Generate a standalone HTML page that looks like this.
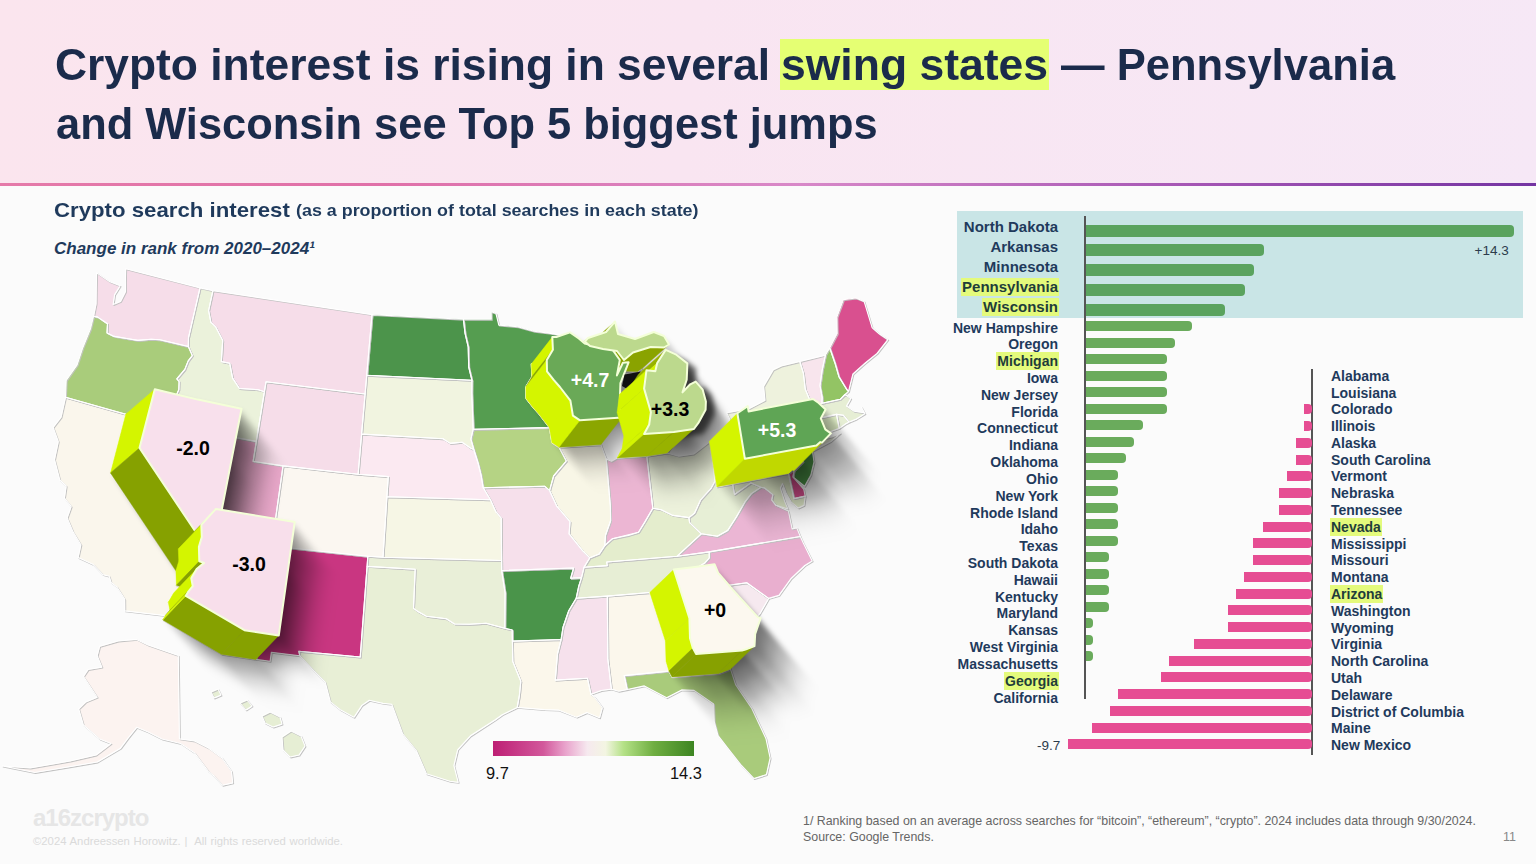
<!DOCTYPE html>
<html><head><meta charset="utf-8"><style>
*{margin:0;padding:0;box-sizing:border-box}
html,body{width:1536px;height:864px;overflow:hidden;background:#fbfbfb;font-family:"Liberation Sans",sans-serif}
#hdr{position:absolute;left:0;top:0;width:1536px;height:184px;background:linear-gradient(95deg,#fbe5ee 0%,#f9e5f1 45%,#f6e8f6 100%)}
#line{position:absolute;left:0;top:183px;width:1536px;height:3px;background:linear-gradient(90deg,#e57aa9 0%,#e070a8 25%,#d888c8 52%,#a455b4 78%,#7434a2 100%)}
.t{position:absolute;white-space:nowrap;font-weight:bold;color:#1b2b4b;font-size:45px;transform-origin:0 0}
.hlbox{position:absolute;background:#e5ff73}
.st{position:absolute;white-space:nowrap;color:#1f3a5c;font-weight:bold;transform-origin:0 0}
.bar{position:absolute;border-radius:0 4px 4px 0}
.lab{position:absolute;white-space:nowrap;color:#1f3a5c;font-weight:bold;font-size:14px;line-height:18px}
.lab.r{right:478px;text-align:right}
.lab.l{left:1331px}
.lab.hl{background:#e4fa7c;padding:0 1px;margin-right:-1px;color:#1f3d3a}
.lab.l.hl{margin-left:-1px;margin-right:0}
.ax{position:absolute;width:2px;background:#555}
.sm{position:absolute;white-space:nowrap;color:#666;font-size:12.5px}
</style></head><body>
<div id="hdr"></div><div id="line"></div>
<div class="hlbox" style="left:780px;top:39px;width:269px;height:51px"></div>
<div class="t" style="left:55px;top:39.4px;transform:scaleX(0.986)">Crypto interest is rising in several</div>
<div class="t" style="left:780.6px;top:39.4px;transform:scaleX(0.989)">swing states</div>
<div class="t" style="left:1060.5px;top:39.4px;transform:scaleX(0.968)">— Pennsylvania</div>
<div class="t" style="left:55.9px;top:97.6px;transform:scaleX(0.965)">and Wisconsin see Top 5 biggest jumps</div>
<div class="st" style="left:54px;top:197.8px;font-size:21px;transform:scaleX(1.058)">Crypto search interest</div>
<div class="st" style="left:296.3px;top:201.4px;font-size:17px;transform:scaleX(1.052)">(as a proportion of total searches in each state)</div>
<div class="st" style="left:54px;top:239.2px;font-size:17px;font-style:italic">Change in rank from 2020–2024¹</div>
<svg width="1536" height="864" style="position:absolute;left:0;top:0">
<defs><filter id="bl" x="-30%" y="-30%" width="160%" height="160%"><feGaussianBlur stdDeviation="2.5"/></filter>
<linearGradient id="leg" x1="0" x2="1"><stop offset="0" stop-color="#bd1f74"/><stop offset="0.25" stop-color="#d2589b"/><stop offset="0.36" stop-color="#e9a3cc"/><stop offset="0.47" stop-color="#f6e9ef"/><stop offset="0.56" stop-color="#f3f5e2"/><stop offset="0.65" stop-color="#b4e186"/><stop offset="0.8" stop-color="#6fae41"/><stop offset="1" stop-color="#3d8522"/></linearGradient></defs>
<g><path d="M125.7,268.8 L200.0,287.9 L188.5,337.7 L188.3,346.5 L159.8,339.8 L151.2,339.3 L137.9,340.4 L128.0,338.8 L114.1,336.4 L107.0,332.9 L107.5,323.7 L103.8,321.2 L97.8,317.1 L93.6,316.2 L96.1,303.6 L96.3,289.1 L96.6,272.9 L109.9,281.8 L120.1,285.8 L114.6,294.6 L113.1,304.5 L120.5,301.4 L125.5,291.5 L125.4,282.1 L125.7,268.8Z" fill="#f6dde9"/><path d="M93.6,316.2 L97.8,317.1 L103.8,321.2 L107.5,323.7 L107.0,332.9 L114.1,336.4 L128.0,338.8 L137.9,340.4 L151.2,339.3 L159.8,339.8 L188.3,346.5 L192.3,355.6 L188.2,360.9 L184.8,369.4 L176.8,378.9 L179.1,381.5 L178.8,389.6 L174.7,399.0 L168.9,424.6 L125.8,414.2 L65.5,397.2 L66.2,380.5 L77.1,364.9 L82.8,347.7 L90.4,329.1Z" fill="#a9cc7b"/><path d="M65.5,397.2 L125.8,414.2 L110.5,472.9 L175.9,570.8 L176.3,585.3 L181.1,586.9 L173.6,593.0 L168.3,602.3 L169.8,610.2 L165.3,615.6 L124.8,610.9 L124.7,599.1 L116.9,587.0 L111.1,582.5 L109.2,576.2 L102.8,574.6 L93.3,564.6 L78.1,557.5 L80.9,544.7 L73.2,532.1 L67.1,517.8 L71.2,506.4 L64.4,498.1 L66.2,486.0 L59.8,480.0 L54.5,459.4 L58.3,441.5 L53.1,427.3 L61.1,417.0Z" fill="#faf6ec"/><path d="M125.8,414.2 L168.9,424.6 L212.5,433.7 L190.0,549.1 L178.3,548.8 L178.8,561.1 L175.9,570.8 L110.5,472.9Z" fill="#f8e0ec"/><path d="M192.9,532.9 L271.7,546.0 L255.8,659.4 L221.4,654.2 L162.8,619.9 L165.3,615.6 L169.8,610.2 L168.3,602.3 L173.6,593.0 L181.1,586.9 L176.3,585.3 L175.9,570.8 L178.8,561.1 L178.3,548.8Z" fill="#f8dfeb"/><path d="M212.5,433.7 L256.3,441.4 L253.1,461.4 L283.0,465.9 L271.7,546.0 L192.9,532.9Z" fill="#e9a8ca"/><path d="M200.0,287.9 L212.9,290.7 L208.6,310.5 L210.9,322.4 L215.6,326.8 L222.7,340.5 L221.3,361.6 L229.7,363.2 L232.6,378.1 L239.4,388.5 L258.2,389.7 L264.4,391.7 L256.3,441.4 L168.9,424.6 L174.7,399.0 L178.8,389.6 L179.1,381.5 L176.8,378.9 L184.8,369.4 L188.2,360.9 L192.3,355.6 L188.3,346.5 L188.5,337.7Z" fill="#ebf2db"/><path d="M212.9,290.7 L372.0,314.6 L365.1,394.0 L266.0,381.8 L264.4,391.7 L258.2,389.7 L239.4,388.5 L232.6,378.1 L229.7,363.2 L221.3,361.6 L222.7,340.5 L215.6,326.8 L210.9,322.4 L208.6,310.5Z" fill="#f6dde9"/><path d="M266.0,381.8 L365.1,394.0 L361.6,434.1 L358.1,474.3 L283.0,465.9 L253.1,461.4 L256.3,441.4 L264.4,391.7Z" fill="#f6dde9"/><path d="M283.0,465.9 L358.1,474.3 L388.3,476.6 L386.9,496.8 L383.0,557.3 L367.8,556.3 L271.7,546.0Z" fill="#fbf7f1"/><path d="M271.7,546.0 L367.8,556.3 L367.1,566.4 L360.2,657.0 L298.8,651.2 L299.8,655.8 L271.3,652.3 L270.1,661.3 L255.8,659.4Z" fill="#c93681"/><path d="M372.0,314.6 L463.4,319.2 L465.0,333.1 L468.2,347.0 L468.7,367.0 L471.9,380.2 L366.7,375.3Z" fill="#4c944b"/><path d="M366.7,375.3 L471.9,380.2 L471.8,393.0 L473.2,429.2 L470.9,439.2 L473.8,449.5 L473.8,449.5 L470.8,448.3 L462.1,442.2 L450.3,443.4 L443.0,438.7 L361.6,434.1Z" fill="#f1f4e0"/><path d="M361.6,434.1 L443.0,438.7 L450.3,443.4 L462.1,442.2 L470.8,448.3 L473.8,449.5 L478.2,463.5 L481.2,475.6 L483.2,487.7 L490.4,499.8 L386.9,496.8 L388.3,476.6 L358.1,474.3Z" fill="#fbe9f1"/><path d="M386.9,496.8 L490.4,499.8 L495.9,511.9 L501.2,518.0 L501.6,560.5 L383.0,557.3Z" fill="#f6f6e5"/><path d="M367.8,556.3 L383.0,557.3 L501.6,560.5 L501.7,570.6 L505.1,592.8 L504.8,628.3 L486.1,623.2 L469.5,624.2 L454.5,624.0 L446.3,618.8 L426.4,616.2 L418.3,611.8 L413.5,608.4 L415.2,569.2 L367.1,566.4Z" fill="#e9efd8"/><path d="M367.1,566.4 L415.2,569.2 L413.5,608.4 L418.3,611.8 L426.4,616.2 L446.3,618.8 L454.5,624.0 L469.5,624.2 L486.1,623.2 L504.8,628.3 L512.2,630.0 L512.4,641.1 L512.8,661.5 L520.8,681.2 L519.4,695.3 L517.2,707.4 L502.2,714.7 L495.2,719.7 L470.4,735.8 L457.7,749.6 L453.9,765.5 L458.2,782.4 L449.9,781.3 L426.4,773.8 L416.3,750.5 L402.7,733.9 L391.8,704.3 L383.0,703.4 L369.2,700.3 L361.8,705.4 L353.9,717.3 L340.3,709.8 L330.4,701.9 L325.2,682.2 L314.2,671.1 L299.8,655.8 L298.8,651.2 L360.2,657.0Z" fill="#e8efd6"/><path d="M463.4,319.2 L491.3,319.3 L491.2,311.8 L495.9,313.3 L498.8,325.1 L517.7,326.7 L534.1,331.2 L550.5,333.4 L567.0,336.4 L555.1,343.1 L541.9,353.7 L534.0,363.0 L531.3,364.1 L531.9,376.7 L525.8,386.9 L526.0,398.4 L532.9,407.2 L538.9,414.0 L549.4,427.6 L473.2,429.2 L471.8,393.0 L471.9,380.2 L468.7,367.0 L468.2,347.0 L465.0,333.1Z" fill="#559d50"/><path d="M473.2,429.2 L549.4,427.6 L551.9,442.6 L559.0,447.3 L566.3,461.0 L553.6,475.9 L549.5,490.6 L544.6,486.2 L483.2,487.7 L481.2,475.6 L478.2,463.5 L473.8,449.5 L470.9,439.2Z" fill="#b5d384"/><path d="M483.2,487.7 L544.6,486.2 L549.5,490.6 L556.7,506.1 L570.0,521.6 L569.1,533.8 L582.9,551.2 L589.8,557.8 L584.0,567.3 L581.5,577.6 L570.6,578.3 L573.6,568.0 L501.7,570.6 L501.6,560.5 L501.2,518.0 L495.9,511.9 L490.4,499.8Z" fill="#f6e0eb"/><path d="M501.7,570.6 L573.6,568.0 L570.6,578.3 L581.5,577.6 L578.8,585.9 L576.2,598.2 L568.7,610.8 L563.0,627.3 L561.1,639.5 L512.4,641.1 L512.2,630.0 L504.8,628.3 L505.1,592.8Z" fill="#4a944a"/><path d="M512.4,641.1 L561.1,639.5 L557.5,653.8 L555.3,680.1 L587.5,678.3 L590.9,694.2 L594.5,697.0 L602.3,707.5 L599.5,717.8 L586.8,712.6 L576.5,717.2 L558.4,710.1 L544.3,709.6 L517.2,707.4 L519.4,695.3 L520.8,681.2 L512.8,661.5Z" fill="#fbf7eb"/><path d="M531.9,376.7 L531.3,364.1 L535.4,364.0 L549.1,359.4 L557.8,365.5 L563.7,370.6 L576.6,373.7 L590.8,375.7 L598.8,387.0 L595.9,402.4 L601.9,389.8 L607.6,389.3 L599.4,410.2 L598.6,434.5 L600.9,444.6 L559.0,447.3 L551.9,442.6 L549.4,427.6 L538.9,414.0 L532.9,407.2 L526.0,398.4 L525.8,386.9Z" fill="#6aa957"/><path d="M559.0,447.3 L600.9,444.6 L606.2,458.9 L610.4,506.5 L610.6,520.7 L605.5,535.3 L604.8,545.5 L599.1,554.1 L589.8,557.8 L582.9,551.2 L569.1,533.8 L570.0,521.6 L556.7,506.1 L549.5,490.6 L553.6,475.9 L566.3,461.0Z" fill="#f8f6e6"/><path d="M606.2,458.9 L611.4,461.3 L617.1,458.0 L646.8,456.1 L652.8,508.3 L645.2,521.4 L638.5,532.3 L612.2,538.8 L604.8,545.5 L605.5,535.3 L610.6,520.7 L610.4,506.5Z" fill="#ecb6d3"/><path d="M617.1,458.0 L646.8,456.1 L666.9,453.0 L671.4,446.9 L678.6,433.7 L678.9,425.5 L675.7,413.7 L668.7,405.6 L663.2,408.3 L655.5,416.4 L659.7,403.7 L660.4,387.4 L649.3,378.7 L638.7,373.9 L630.2,387.0 L628.3,395.3 L619.5,394.2 L617.1,412.6 L623.9,436.2 L622.2,448.5Z" fill="#bcd98d"/><path d="M557.8,365.5 L561.0,362.0 L579.0,356.0 L588.0,345.5 L591.0,358.0 L608.0,363.0 L626.8,356.0 L637.0,360.0 L642.0,368.5 L637.0,371.5 L623.6,371.0 L606.0,376.5 L597.0,384.0 L590.0,375.0 L576.0,373.0 L563.0,370.0Z" fill="#bcd98d"/><path d="M646.8,456.1 L666.9,453.0 L678.7,456.1 L693.6,454.0 L709.5,441.7 L713.9,468.4 L714.8,481.4 L711.2,488.1 L700.5,500.0 L694.6,513.1 L688.9,517.6 L672.9,515.4 L661.1,509.7 L652.8,508.3Z" fill="#edf2dc"/><path d="M652.8,508.3 L645.2,521.4 L638.5,532.3 L629.3,535.2 L612.2,538.8 L604.8,545.5 L599.1,554.1 L589.8,557.8 L584.0,567.3 L607.3,565.6 L606.7,562.0 L676.9,556.3 L701.3,533.8 L689.6,522.6 L688.9,517.6 L672.9,515.4 L661.1,509.7Z" fill="#e4edcd"/><path d="M584.0,567.3 L607.3,565.6 L606.7,562.0 L676.9,556.3 L709.2,551.9 L709.3,558.0 L705.1,562.7 L688.6,573.2 L670.5,585.7 L670.7,589.9 L649.8,592.5 L607.3,596.1 L576.2,598.2 L578.8,585.9 L581.5,577.6Z" fill="#e7eed5"/><path d="M576.2,598.2 L607.3,596.1 L607.8,658.8 L611.4,689.1 L601.1,690.5 L590.9,694.2 L587.5,678.3 L555.3,680.1 L557.5,653.8 L561.1,639.5 L563.0,627.3 L568.7,610.8Z" fill="#f6e1ec"/><path d="M607.3,596.1 L649.8,592.5 L665.4,641.1 L666.0,661.3 L668.9,671.1 L624.2,675.6 L627.2,689.5 L618.6,691.2 L611.4,689.1 L607.8,658.8Z" fill="#fbf7ec"/><path d="M649.8,592.5 L670.7,589.9 L690.5,587.2 L694.2,595.9 L709.2,613.2 L733.8,640.1 L736.7,641.0 L731.2,656.8 L730.5,669.1 L721.4,672.5 L718.0,673.5 L672.0,676.9 L668.9,671.1 L666.0,661.3 L665.4,641.1Z" fill="#fcf8ef"/><path d="M624.2,675.6 L668.9,671.1 L672.0,676.9 L718.0,673.5 L721.4,672.5 L730.5,669.1 L735.6,684.6 L751.8,708.4 L765.9,738.4 L770.1,757.9 L766.4,774.6 L753.9,778.6 L740.6,764.6 L729.2,750.1 L718.0,735.6 L714.3,722.0 L713.6,704.0 L694.0,690.4 L681.6,689.9 L666.6,697.7 L644.3,685.9 L627.2,689.5Z" fill="#a9cb7b"/><path d="M690.5,587.2 L707.8,580.9 L724.1,579.3 L726.2,582.0 L728.4,585.3 L746.7,582.8 L768.6,598.4 L760.1,613.2 L748.9,627.4 L736.7,641.0 L733.8,640.1 L709.2,613.2 L694.2,595.9Z" fill="#f6e9ef"/><path d="M670.7,589.9 L690.5,587.2 L707.8,580.9 L724.1,579.3 L726.2,582.0 L728.4,585.3 L746.7,582.8 L768.6,598.4 L778.9,595.4 L790.8,578.7 L804.8,565.5 L812.2,560.9 L803.3,543.1 L800.3,536.5 L709.2,551.9 L709.3,558.0 L705.1,562.7 L688.6,573.2 L670.5,585.7Z" fill="#e9afcf"/><path d="M676.9,556.3 L709.2,551.9 L800.3,536.5 L796.8,527.9 L792.1,528.9 L788.4,511.1 L775.9,505.3 L771.7,500.0 L772.9,494.6 L764.5,488.0 L760.9,487.2 L751.4,493.6 L745.0,501.9 L736.5,516.8 L727.6,530.6 L717.3,536.3 L701.3,533.8Z" fill="#ebb6d4"/><path d="M713.9,468.4 L716.9,486.8 L732.7,484.1 L734.5,494.5 L750.9,482.9 L760.9,487.2 L751.4,493.6 L745.0,501.9 L736.5,516.8 L727.6,530.6 L717.3,536.3 L701.3,533.8 L689.6,522.6 L688.9,517.6 L694.6,513.1 L700.5,500.0 L711.2,488.1 L714.8,481.4Z" fill="#e7efd6"/><path d="M732.7,484.1 L788.4,473.4 L793.9,498.6 L805.2,496.1 L804.0,505.3 L798.2,508.0 L791.3,502.2 L786.1,492.9 L782.5,483.4 L780.3,487.9 L784.7,501.5 L787.9,509.1 L775.9,505.3 L771.7,500.0 L772.9,494.6 L764.5,488.0 L760.9,487.2 L750.9,482.9 L734.5,494.5Z" fill="#e4edcd"/><path d="M788.4,473.4 L792.3,470.1 L794.0,470.6 L793.0,477.0 L803.7,489.2 L805.2,496.1 L793.9,498.6Z" fill="#d9508f"/><path d="M709.4,441.3 L719.7,434.1 L720.6,439.4 L785.0,427.0 L789.6,430.1 L797.6,437.5 L792.8,446.4 L797.3,457.4 L802.9,461.4 L797.8,466.6 L794.0,470.6 L792.3,470.1 L788.4,473.4 L716.9,486.8Z" fill="#5fa555"/><path d="M797.6,437.5 L811.1,442.1 L810.8,448.2 L812.5,451.9 L814.0,461.9 L810.8,475.1 L804.6,486.3 L793.0,477.0 L794.0,470.6 L797.8,466.6 L802.9,461.4 L797.3,457.4 L792.8,446.4Z" fill="#4f9a4a"/><path d="M720.6,439.4 L719.7,434.1 L728.5,423.7 L730.0,419.4 L726.6,412.8 L748.9,408.7 L765.0,400.3 L763.6,386.2 L773.2,369.8 L781.1,366.0 L799.8,361.5 L803.4,373.2 L805.3,389.3 L812.1,405.5 L811.8,419.9 L816.4,438.5 L813.8,441.2 L831.4,437.0 L840.4,433.2 L830.9,441.3 L813.0,450.8 L810.8,448.2 L811.1,442.1 L797.6,437.5 L789.6,430.1 L785.0,427.0Z" fill="#eef2dd"/><path d="M799.8,361.5 L825.4,355.1 L822.1,370.7 L820.0,385.7 L822.2,397.6 L822.0,403.3 L812.1,405.5 L805.3,389.3 L803.4,373.2Z" fill="#f8e5ed"/><path d="M825.4,355.1 L829.7,347.9 L835.0,363.2 L838.9,376.7 L846.6,389.3 L848.5,391.4 L845.0,394.5 L840.2,399.3 L822.0,403.3 L822.2,397.6 L820.0,385.7 L822.1,370.7Z" fill="#93c464"/><path d="M829.7,347.9 L837.2,333.5 L836.9,317.0 L843.4,299.6 L855.9,298.0 L864.1,301.4 L872.1,327.6 L879.2,333.8 L887.8,339.6 L877.0,353.4 L864.9,363.2 L852.9,373.9 L848.5,391.4 L846.6,389.3 L838.9,376.7 L835.0,363.2Z" fill="#d9508f"/><path d="M811.8,419.9 L812.1,405.5 L822.0,403.3 L840.2,399.3 L845.0,394.5 L850.7,398.6 L846.5,406.0 L854.1,411.3 L863.9,412.8 L861.5,407.2 L864.9,413.6 L856.3,419.0 L849.0,422.0 L843.2,415.2 L836.5,414.4Z" fill="#e6eed4"/><path d="M836.5,414.4 L843.2,415.2 L849.0,422.0 L845.2,424.1 L839.2,428.3Z" fill="#e6eed4"/><path d="M811.8,419.9 L836.5,414.4 L839.2,428.3 L830.1,431.7 L813.8,441.2 L816.4,438.5Z" fill="#dceac3"/><path d="M99.6,646.3 L118.0,641.0 L136.6,639.4 L148.0,645.0 L178.3,655.6 L179.4,738.9 L194.5,741.0 L208.4,748.0 L222.0,758.0 L231.5,771.3 L232.7,782.9 L222.3,785.2 L214.0,776.0 L208.4,771.3 L194.5,752.8 L180.6,743.5 L162.0,739.0 L148.2,732.0 L136.6,727.3 L128.0,738.0 L120.4,748.2 L97.2,762.0 L69.5,766.7 L34.7,772.5 L2.3,766.0 L30.0,768.0 L70.0,761.0 L96.0,755.0 L111.0,743.5 L99.6,739.0 L83.4,725.0 L78.7,708.8 L85.7,701.9 L97.2,697.2 L83.4,676.4 L88.0,669.5 L101.9,667.1 L97.2,655.6Z" fill="#fcf3f0"/><path d="M282.0,737.0 L291.0,731.0 L301.0,736.0 L305.0,746.0 L299.0,755.0 L290.0,757.0 L283.0,750.0Z" fill="#e6eed4"/><path d="M262.0,716.0 L270.0,712.0 L280.0,717.0 L282.0,724.0 L273.0,727.0 L265.0,723.0Z" fill="#e6eed4"/><path d="M240.0,703.0 L247.0,700.0 L252.0,706.0 L246.0,710.0Z" fill="#e6eed4"/><path d="M211.0,692.0 L218.0,689.0 L221.0,695.0 L214.0,698.0Z" fill="#e6eed4"/></g>
<g fill="none" stroke="#c2c2c2" stroke-width="1.1" stroke-linejoin="round" transform="translate(0.9,0.9)"><path d="M125.7,268.8 L200.0,287.9 L188.5,337.7 L188.3,346.5 L159.8,339.8 L151.2,339.3 L137.9,340.4 L128.0,338.8 L114.1,336.4 L107.0,332.9 L107.5,323.7 L103.8,321.2 L97.8,317.1 L93.6,316.2 L96.1,303.6 L96.3,289.1 L96.6,272.9 L109.9,281.8 L120.1,285.8 L114.6,294.6 L113.1,304.5 L120.5,301.4 L125.5,291.5 L125.4,282.1 L125.7,268.8Z"/><path d="M93.6,316.2 L97.8,317.1 L103.8,321.2 L107.5,323.7 L107.0,332.9 L114.1,336.4 L128.0,338.8 L137.9,340.4 L151.2,339.3 L159.8,339.8 L188.3,346.5 L192.3,355.6 L188.2,360.9 L184.8,369.4 L176.8,378.9 L179.1,381.5 L178.8,389.6 L174.7,399.0 L168.9,424.6 L125.8,414.2 L65.5,397.2 L66.2,380.5 L77.1,364.9 L82.8,347.7 L90.4,329.1Z"/><path d="M65.5,397.2 L125.8,414.2 L110.5,472.9 L175.9,570.8 L176.3,585.3 L181.1,586.9 L173.6,593.0 L168.3,602.3 L169.8,610.2 L165.3,615.6 L124.8,610.9 L124.7,599.1 L116.9,587.0 L111.1,582.5 L109.2,576.2 L102.8,574.6 L93.3,564.6 L78.1,557.5 L80.9,544.7 L73.2,532.1 L67.1,517.8 L71.2,506.4 L64.4,498.1 L66.2,486.0 L59.8,480.0 L54.5,459.4 L58.3,441.5 L53.1,427.3 L61.1,417.0Z"/><path d="M125.8,414.2 L168.9,424.6 L212.5,433.7 L190.0,549.1 L178.3,548.8 L178.8,561.1 L175.9,570.8 L110.5,472.9Z"/><path d="M192.9,532.9 L271.7,546.0 L255.8,659.4 L221.4,654.2 L162.8,619.9 L165.3,615.6 L169.8,610.2 L168.3,602.3 L173.6,593.0 L181.1,586.9 L176.3,585.3 L175.9,570.8 L178.8,561.1 L178.3,548.8Z"/><path d="M212.5,433.7 L256.3,441.4 L253.1,461.4 L283.0,465.9 L271.7,546.0 L192.9,532.9Z"/><path d="M200.0,287.9 L212.9,290.7 L208.6,310.5 L210.9,322.4 L215.6,326.8 L222.7,340.5 L221.3,361.6 L229.7,363.2 L232.6,378.1 L239.4,388.5 L258.2,389.7 L264.4,391.7 L256.3,441.4 L168.9,424.6 L174.7,399.0 L178.8,389.6 L179.1,381.5 L176.8,378.9 L184.8,369.4 L188.2,360.9 L192.3,355.6 L188.3,346.5 L188.5,337.7Z"/><path d="M212.9,290.7 L372.0,314.6 L365.1,394.0 L266.0,381.8 L264.4,391.7 L258.2,389.7 L239.4,388.5 L232.6,378.1 L229.7,363.2 L221.3,361.6 L222.7,340.5 L215.6,326.8 L210.9,322.4 L208.6,310.5Z"/><path d="M266.0,381.8 L365.1,394.0 L361.6,434.1 L358.1,474.3 L283.0,465.9 L253.1,461.4 L256.3,441.4 L264.4,391.7Z"/><path d="M283.0,465.9 L358.1,474.3 L388.3,476.6 L386.9,496.8 L383.0,557.3 L367.8,556.3 L271.7,546.0Z"/><path d="M271.7,546.0 L367.8,556.3 L367.1,566.4 L360.2,657.0 L298.8,651.2 L299.8,655.8 L271.3,652.3 L270.1,661.3 L255.8,659.4Z"/><path d="M372.0,314.6 L463.4,319.2 L465.0,333.1 L468.2,347.0 L468.7,367.0 L471.9,380.2 L366.7,375.3Z"/><path d="M366.7,375.3 L471.9,380.2 L471.8,393.0 L473.2,429.2 L470.9,439.2 L473.8,449.5 L473.8,449.5 L470.8,448.3 L462.1,442.2 L450.3,443.4 L443.0,438.7 L361.6,434.1Z"/><path d="M361.6,434.1 L443.0,438.7 L450.3,443.4 L462.1,442.2 L470.8,448.3 L473.8,449.5 L478.2,463.5 L481.2,475.6 L483.2,487.7 L490.4,499.8 L386.9,496.8 L388.3,476.6 L358.1,474.3Z"/><path d="M386.9,496.8 L490.4,499.8 L495.9,511.9 L501.2,518.0 L501.6,560.5 L383.0,557.3Z"/><path d="M367.8,556.3 L383.0,557.3 L501.6,560.5 L501.7,570.6 L505.1,592.8 L504.8,628.3 L486.1,623.2 L469.5,624.2 L454.5,624.0 L446.3,618.8 L426.4,616.2 L418.3,611.8 L413.5,608.4 L415.2,569.2 L367.1,566.4Z"/><path d="M367.1,566.4 L415.2,569.2 L413.5,608.4 L418.3,611.8 L426.4,616.2 L446.3,618.8 L454.5,624.0 L469.5,624.2 L486.1,623.2 L504.8,628.3 L512.2,630.0 L512.4,641.1 L512.8,661.5 L520.8,681.2 L519.4,695.3 L517.2,707.4 L502.2,714.7 L495.2,719.7 L470.4,735.8 L457.7,749.6 L453.9,765.5 L458.2,782.4 L449.9,781.3 L426.4,773.8 L416.3,750.5 L402.7,733.9 L391.8,704.3 L383.0,703.4 L369.2,700.3 L361.8,705.4 L353.9,717.3 L340.3,709.8 L330.4,701.9 L325.2,682.2 L314.2,671.1 L299.8,655.8 L298.8,651.2 L360.2,657.0Z"/><path d="M463.4,319.2 L491.3,319.3 L491.2,311.8 L495.9,313.3 L498.8,325.1 L517.7,326.7 L534.1,331.2 L550.5,333.4 L567.0,336.4 L555.1,343.1 L541.9,353.7 L534.0,363.0 L531.3,364.1 L531.9,376.7 L525.8,386.9 L526.0,398.4 L532.9,407.2 L538.9,414.0 L549.4,427.6 L473.2,429.2 L471.8,393.0 L471.9,380.2 L468.7,367.0 L468.2,347.0 L465.0,333.1Z"/><path d="M473.2,429.2 L549.4,427.6 L551.9,442.6 L559.0,447.3 L566.3,461.0 L553.6,475.9 L549.5,490.6 L544.6,486.2 L483.2,487.7 L481.2,475.6 L478.2,463.5 L473.8,449.5 L470.9,439.2Z"/><path d="M483.2,487.7 L544.6,486.2 L549.5,490.6 L556.7,506.1 L570.0,521.6 L569.1,533.8 L582.9,551.2 L589.8,557.8 L584.0,567.3 L581.5,577.6 L570.6,578.3 L573.6,568.0 L501.7,570.6 L501.6,560.5 L501.2,518.0 L495.9,511.9 L490.4,499.8Z"/><path d="M501.7,570.6 L573.6,568.0 L570.6,578.3 L581.5,577.6 L578.8,585.9 L576.2,598.2 L568.7,610.8 L563.0,627.3 L561.1,639.5 L512.4,641.1 L512.2,630.0 L504.8,628.3 L505.1,592.8Z"/><path d="M512.4,641.1 L561.1,639.5 L557.5,653.8 L555.3,680.1 L587.5,678.3 L590.9,694.2 L594.5,697.0 L602.3,707.5 L599.5,717.8 L586.8,712.6 L576.5,717.2 L558.4,710.1 L544.3,709.6 L517.2,707.4 L519.4,695.3 L520.8,681.2 L512.8,661.5Z"/><path d="M531.9,376.7 L531.3,364.1 L535.4,364.0 L549.1,359.4 L557.8,365.5 L563.7,370.6 L576.6,373.7 L590.8,375.7 L598.8,387.0 L595.9,402.4 L601.9,389.8 L607.6,389.3 L599.4,410.2 L598.6,434.5 L600.9,444.6 L559.0,447.3 L551.9,442.6 L549.4,427.6 L538.9,414.0 L532.9,407.2 L526.0,398.4 L525.8,386.9Z"/><path d="M559.0,447.3 L600.9,444.6 L606.2,458.9 L610.4,506.5 L610.6,520.7 L605.5,535.3 L604.8,545.5 L599.1,554.1 L589.8,557.8 L582.9,551.2 L569.1,533.8 L570.0,521.6 L556.7,506.1 L549.5,490.6 L553.6,475.9 L566.3,461.0Z"/><path d="M606.2,458.9 L611.4,461.3 L617.1,458.0 L646.8,456.1 L652.8,508.3 L645.2,521.4 L638.5,532.3 L612.2,538.8 L604.8,545.5 L605.5,535.3 L610.6,520.7 L610.4,506.5Z"/><path d="M617.1,458.0 L646.8,456.1 L666.9,453.0 L671.4,446.9 L678.6,433.7 L678.9,425.5 L675.7,413.7 L668.7,405.6 L663.2,408.3 L655.5,416.4 L659.7,403.7 L660.4,387.4 L649.3,378.7 L638.7,373.9 L630.2,387.0 L628.3,395.3 L619.5,394.2 L617.1,412.6 L623.9,436.2 L622.2,448.5Z"/><path d="M557.8,365.5 L561.0,362.0 L579.0,356.0 L588.0,345.5 L591.0,358.0 L608.0,363.0 L626.8,356.0 L637.0,360.0 L642.0,368.5 L637.0,371.5 L623.6,371.0 L606.0,376.5 L597.0,384.0 L590.0,375.0 L576.0,373.0 L563.0,370.0Z"/><path d="M646.8,456.1 L666.9,453.0 L678.7,456.1 L693.6,454.0 L709.5,441.7 L713.9,468.4 L714.8,481.4 L711.2,488.1 L700.5,500.0 L694.6,513.1 L688.9,517.6 L672.9,515.4 L661.1,509.7 L652.8,508.3Z"/><path d="M652.8,508.3 L645.2,521.4 L638.5,532.3 L629.3,535.2 L612.2,538.8 L604.8,545.5 L599.1,554.1 L589.8,557.8 L584.0,567.3 L607.3,565.6 L606.7,562.0 L676.9,556.3 L701.3,533.8 L689.6,522.6 L688.9,517.6 L672.9,515.4 L661.1,509.7Z"/><path d="M584.0,567.3 L607.3,565.6 L606.7,562.0 L676.9,556.3 L709.2,551.9 L709.3,558.0 L705.1,562.7 L688.6,573.2 L670.5,585.7 L670.7,589.9 L649.8,592.5 L607.3,596.1 L576.2,598.2 L578.8,585.9 L581.5,577.6Z"/><path d="M576.2,598.2 L607.3,596.1 L607.8,658.8 L611.4,689.1 L601.1,690.5 L590.9,694.2 L587.5,678.3 L555.3,680.1 L557.5,653.8 L561.1,639.5 L563.0,627.3 L568.7,610.8Z"/><path d="M607.3,596.1 L649.8,592.5 L665.4,641.1 L666.0,661.3 L668.9,671.1 L624.2,675.6 L627.2,689.5 L618.6,691.2 L611.4,689.1 L607.8,658.8Z"/><path d="M649.8,592.5 L670.7,589.9 L690.5,587.2 L694.2,595.9 L709.2,613.2 L733.8,640.1 L736.7,641.0 L731.2,656.8 L730.5,669.1 L721.4,672.5 L718.0,673.5 L672.0,676.9 L668.9,671.1 L666.0,661.3 L665.4,641.1Z"/><path d="M624.2,675.6 L668.9,671.1 L672.0,676.9 L718.0,673.5 L721.4,672.5 L730.5,669.1 L735.6,684.6 L751.8,708.4 L765.9,738.4 L770.1,757.9 L766.4,774.6 L753.9,778.6 L740.6,764.6 L729.2,750.1 L718.0,735.6 L714.3,722.0 L713.6,704.0 L694.0,690.4 L681.6,689.9 L666.6,697.7 L644.3,685.9 L627.2,689.5Z"/><path d="M690.5,587.2 L707.8,580.9 L724.1,579.3 L726.2,582.0 L728.4,585.3 L746.7,582.8 L768.6,598.4 L760.1,613.2 L748.9,627.4 L736.7,641.0 L733.8,640.1 L709.2,613.2 L694.2,595.9Z"/><path d="M670.7,589.9 L690.5,587.2 L707.8,580.9 L724.1,579.3 L726.2,582.0 L728.4,585.3 L746.7,582.8 L768.6,598.4 L778.9,595.4 L790.8,578.7 L804.8,565.5 L812.2,560.9 L803.3,543.1 L800.3,536.5 L709.2,551.9 L709.3,558.0 L705.1,562.7 L688.6,573.2 L670.5,585.7Z"/><path d="M676.9,556.3 L709.2,551.9 L800.3,536.5 L796.8,527.9 L792.1,528.9 L788.4,511.1 L775.9,505.3 L771.7,500.0 L772.9,494.6 L764.5,488.0 L760.9,487.2 L751.4,493.6 L745.0,501.9 L736.5,516.8 L727.6,530.6 L717.3,536.3 L701.3,533.8Z"/><path d="M713.9,468.4 L716.9,486.8 L732.7,484.1 L734.5,494.5 L750.9,482.9 L760.9,487.2 L751.4,493.6 L745.0,501.9 L736.5,516.8 L727.6,530.6 L717.3,536.3 L701.3,533.8 L689.6,522.6 L688.9,517.6 L694.6,513.1 L700.5,500.0 L711.2,488.1 L714.8,481.4Z"/><path d="M732.7,484.1 L788.4,473.4 L793.9,498.6 L805.2,496.1 L804.0,505.3 L798.2,508.0 L791.3,502.2 L786.1,492.9 L782.5,483.4 L780.3,487.9 L784.7,501.5 L787.9,509.1 L775.9,505.3 L771.7,500.0 L772.9,494.6 L764.5,488.0 L760.9,487.2 L750.9,482.9 L734.5,494.5Z"/><path d="M788.4,473.4 L792.3,470.1 L794.0,470.6 L793.0,477.0 L803.7,489.2 L805.2,496.1 L793.9,498.6Z"/><path d="M709.4,441.3 L719.7,434.1 L720.6,439.4 L785.0,427.0 L789.6,430.1 L797.6,437.5 L792.8,446.4 L797.3,457.4 L802.9,461.4 L797.8,466.6 L794.0,470.6 L792.3,470.1 L788.4,473.4 L716.9,486.8Z"/><path d="M797.6,437.5 L811.1,442.1 L810.8,448.2 L812.5,451.9 L814.0,461.9 L810.8,475.1 L804.6,486.3 L793.0,477.0 L794.0,470.6 L797.8,466.6 L802.9,461.4 L797.3,457.4 L792.8,446.4Z"/><path d="M720.6,439.4 L719.7,434.1 L728.5,423.7 L730.0,419.4 L726.6,412.8 L748.9,408.7 L765.0,400.3 L763.6,386.2 L773.2,369.8 L781.1,366.0 L799.8,361.5 L803.4,373.2 L805.3,389.3 L812.1,405.5 L811.8,419.9 L816.4,438.5 L813.8,441.2 L831.4,437.0 L840.4,433.2 L830.9,441.3 L813.0,450.8 L810.8,448.2 L811.1,442.1 L797.6,437.5 L789.6,430.1 L785.0,427.0Z"/><path d="M799.8,361.5 L825.4,355.1 L822.1,370.7 L820.0,385.7 L822.2,397.6 L822.0,403.3 L812.1,405.5 L805.3,389.3 L803.4,373.2Z"/><path d="M825.4,355.1 L829.7,347.9 L835.0,363.2 L838.9,376.7 L846.6,389.3 L848.5,391.4 L845.0,394.5 L840.2,399.3 L822.0,403.3 L822.2,397.6 L820.0,385.7 L822.1,370.7Z"/><path d="M829.7,347.9 L837.2,333.5 L836.9,317.0 L843.4,299.6 L855.9,298.0 L864.1,301.4 L872.1,327.6 L879.2,333.8 L887.8,339.6 L877.0,353.4 L864.9,363.2 L852.9,373.9 L848.5,391.4 L846.6,389.3 L838.9,376.7 L835.0,363.2Z"/><path d="M811.8,419.9 L812.1,405.5 L822.0,403.3 L840.2,399.3 L845.0,394.5 L850.7,398.6 L846.5,406.0 L854.1,411.3 L863.9,412.8 L861.5,407.2 L864.9,413.6 L856.3,419.0 L849.0,422.0 L843.2,415.2 L836.5,414.4Z"/><path d="M836.5,414.4 L843.2,415.2 L849.0,422.0 L845.2,424.1 L839.2,428.3Z"/><path d="M811.8,419.9 L836.5,414.4 L839.2,428.3 L830.1,431.7 L813.8,441.2 L816.4,438.5Z"/><path d="M99.6,646.3 L118.0,641.0 L136.6,639.4 L148.0,645.0 L178.3,655.6 L179.4,738.9 L194.5,741.0 L208.4,748.0 L222.0,758.0 L231.5,771.3 L232.7,782.9 L222.3,785.2 L214.0,776.0 L208.4,771.3 L194.5,752.8 L180.6,743.5 L162.0,739.0 L148.2,732.0 L136.6,727.3 L128.0,738.0 L120.4,748.2 L97.2,762.0 L69.5,766.7 L34.7,772.5 L2.3,766.0 L30.0,768.0 L70.0,761.0 L96.0,755.0 L111.0,743.5 L99.6,739.0 L83.4,725.0 L78.7,708.8 L85.7,701.9 L97.2,697.2 L83.4,676.4 L88.0,669.5 L101.9,667.1 L97.2,655.6Z"/><path d="M282.0,737.0 L291.0,731.0 L301.0,736.0 L305.0,746.0 L299.0,755.0 L290.0,757.0 L283.0,750.0Z"/><path d="M262.0,716.0 L270.0,712.0 L280.0,717.0 L282.0,724.0 L273.0,727.0 L265.0,723.0Z"/><path d="M240.0,703.0 L247.0,700.0 L252.0,706.0 L246.0,710.0Z"/><path d="M211.0,692.0 L218.0,689.0 L221.0,695.0 L214.0,698.0Z"/></g>
<g fill="none" stroke="#ffffff" stroke-width="1.1" stroke-linejoin="round"><path d="M125.7,268.8 L200.0,287.9 L188.5,337.7 L188.3,346.5 L159.8,339.8 L151.2,339.3 L137.9,340.4 L128.0,338.8 L114.1,336.4 L107.0,332.9 L107.5,323.7 L103.8,321.2 L97.8,317.1 L93.6,316.2 L96.1,303.6 L96.3,289.1 L96.6,272.9 L109.9,281.8 L120.1,285.8 L114.6,294.6 L113.1,304.5 L120.5,301.4 L125.5,291.5 L125.4,282.1 L125.7,268.8Z"/><path d="M93.6,316.2 L97.8,317.1 L103.8,321.2 L107.5,323.7 L107.0,332.9 L114.1,336.4 L128.0,338.8 L137.9,340.4 L151.2,339.3 L159.8,339.8 L188.3,346.5 L192.3,355.6 L188.2,360.9 L184.8,369.4 L176.8,378.9 L179.1,381.5 L178.8,389.6 L174.7,399.0 L168.9,424.6 L125.8,414.2 L65.5,397.2 L66.2,380.5 L77.1,364.9 L82.8,347.7 L90.4,329.1Z"/><path d="M65.5,397.2 L125.8,414.2 L110.5,472.9 L175.9,570.8 L176.3,585.3 L181.1,586.9 L173.6,593.0 L168.3,602.3 L169.8,610.2 L165.3,615.6 L124.8,610.9 L124.7,599.1 L116.9,587.0 L111.1,582.5 L109.2,576.2 L102.8,574.6 L93.3,564.6 L78.1,557.5 L80.9,544.7 L73.2,532.1 L67.1,517.8 L71.2,506.4 L64.4,498.1 L66.2,486.0 L59.8,480.0 L54.5,459.4 L58.3,441.5 L53.1,427.3 L61.1,417.0Z"/><path d="M125.8,414.2 L168.9,424.6 L212.5,433.7 L190.0,549.1 L178.3,548.8 L178.8,561.1 L175.9,570.8 L110.5,472.9Z"/><path d="M192.9,532.9 L271.7,546.0 L255.8,659.4 L221.4,654.2 L162.8,619.9 L165.3,615.6 L169.8,610.2 L168.3,602.3 L173.6,593.0 L181.1,586.9 L176.3,585.3 L175.9,570.8 L178.8,561.1 L178.3,548.8Z"/><path d="M212.5,433.7 L256.3,441.4 L253.1,461.4 L283.0,465.9 L271.7,546.0 L192.9,532.9Z"/><path d="M200.0,287.9 L212.9,290.7 L208.6,310.5 L210.9,322.4 L215.6,326.8 L222.7,340.5 L221.3,361.6 L229.7,363.2 L232.6,378.1 L239.4,388.5 L258.2,389.7 L264.4,391.7 L256.3,441.4 L168.9,424.6 L174.7,399.0 L178.8,389.6 L179.1,381.5 L176.8,378.9 L184.8,369.4 L188.2,360.9 L192.3,355.6 L188.3,346.5 L188.5,337.7Z"/><path d="M212.9,290.7 L372.0,314.6 L365.1,394.0 L266.0,381.8 L264.4,391.7 L258.2,389.7 L239.4,388.5 L232.6,378.1 L229.7,363.2 L221.3,361.6 L222.7,340.5 L215.6,326.8 L210.9,322.4 L208.6,310.5Z"/><path d="M266.0,381.8 L365.1,394.0 L361.6,434.1 L358.1,474.3 L283.0,465.9 L253.1,461.4 L256.3,441.4 L264.4,391.7Z"/><path d="M283.0,465.9 L358.1,474.3 L388.3,476.6 L386.9,496.8 L383.0,557.3 L367.8,556.3 L271.7,546.0Z"/><path d="M271.7,546.0 L367.8,556.3 L367.1,566.4 L360.2,657.0 L298.8,651.2 L299.8,655.8 L271.3,652.3 L270.1,661.3 L255.8,659.4Z"/><path d="M372.0,314.6 L463.4,319.2 L465.0,333.1 L468.2,347.0 L468.7,367.0 L471.9,380.2 L366.7,375.3Z"/><path d="M366.7,375.3 L471.9,380.2 L471.8,393.0 L473.2,429.2 L470.9,439.2 L473.8,449.5 L473.8,449.5 L470.8,448.3 L462.1,442.2 L450.3,443.4 L443.0,438.7 L361.6,434.1Z"/><path d="M361.6,434.1 L443.0,438.7 L450.3,443.4 L462.1,442.2 L470.8,448.3 L473.8,449.5 L478.2,463.5 L481.2,475.6 L483.2,487.7 L490.4,499.8 L386.9,496.8 L388.3,476.6 L358.1,474.3Z"/><path d="M386.9,496.8 L490.4,499.8 L495.9,511.9 L501.2,518.0 L501.6,560.5 L383.0,557.3Z"/><path d="M367.8,556.3 L383.0,557.3 L501.6,560.5 L501.7,570.6 L505.1,592.8 L504.8,628.3 L486.1,623.2 L469.5,624.2 L454.5,624.0 L446.3,618.8 L426.4,616.2 L418.3,611.8 L413.5,608.4 L415.2,569.2 L367.1,566.4Z"/><path d="M367.1,566.4 L415.2,569.2 L413.5,608.4 L418.3,611.8 L426.4,616.2 L446.3,618.8 L454.5,624.0 L469.5,624.2 L486.1,623.2 L504.8,628.3 L512.2,630.0 L512.4,641.1 L512.8,661.5 L520.8,681.2 L519.4,695.3 L517.2,707.4 L502.2,714.7 L495.2,719.7 L470.4,735.8 L457.7,749.6 L453.9,765.5 L458.2,782.4 L449.9,781.3 L426.4,773.8 L416.3,750.5 L402.7,733.9 L391.8,704.3 L383.0,703.4 L369.2,700.3 L361.8,705.4 L353.9,717.3 L340.3,709.8 L330.4,701.9 L325.2,682.2 L314.2,671.1 L299.8,655.8 L298.8,651.2 L360.2,657.0Z"/><path d="M463.4,319.2 L491.3,319.3 L491.2,311.8 L495.9,313.3 L498.8,325.1 L517.7,326.7 L534.1,331.2 L550.5,333.4 L567.0,336.4 L555.1,343.1 L541.9,353.7 L534.0,363.0 L531.3,364.1 L531.9,376.7 L525.8,386.9 L526.0,398.4 L532.9,407.2 L538.9,414.0 L549.4,427.6 L473.2,429.2 L471.8,393.0 L471.9,380.2 L468.7,367.0 L468.2,347.0 L465.0,333.1Z"/><path d="M473.2,429.2 L549.4,427.6 L551.9,442.6 L559.0,447.3 L566.3,461.0 L553.6,475.9 L549.5,490.6 L544.6,486.2 L483.2,487.7 L481.2,475.6 L478.2,463.5 L473.8,449.5 L470.9,439.2Z"/><path d="M483.2,487.7 L544.6,486.2 L549.5,490.6 L556.7,506.1 L570.0,521.6 L569.1,533.8 L582.9,551.2 L589.8,557.8 L584.0,567.3 L581.5,577.6 L570.6,578.3 L573.6,568.0 L501.7,570.6 L501.6,560.5 L501.2,518.0 L495.9,511.9 L490.4,499.8Z"/><path d="M501.7,570.6 L573.6,568.0 L570.6,578.3 L581.5,577.6 L578.8,585.9 L576.2,598.2 L568.7,610.8 L563.0,627.3 L561.1,639.5 L512.4,641.1 L512.2,630.0 L504.8,628.3 L505.1,592.8Z"/><path d="M512.4,641.1 L561.1,639.5 L557.5,653.8 L555.3,680.1 L587.5,678.3 L590.9,694.2 L594.5,697.0 L602.3,707.5 L599.5,717.8 L586.8,712.6 L576.5,717.2 L558.4,710.1 L544.3,709.6 L517.2,707.4 L519.4,695.3 L520.8,681.2 L512.8,661.5Z"/><path d="M531.9,376.7 L531.3,364.1 L535.4,364.0 L549.1,359.4 L557.8,365.5 L563.7,370.6 L576.6,373.7 L590.8,375.7 L598.8,387.0 L595.9,402.4 L601.9,389.8 L607.6,389.3 L599.4,410.2 L598.6,434.5 L600.9,444.6 L559.0,447.3 L551.9,442.6 L549.4,427.6 L538.9,414.0 L532.9,407.2 L526.0,398.4 L525.8,386.9Z"/><path d="M559.0,447.3 L600.9,444.6 L606.2,458.9 L610.4,506.5 L610.6,520.7 L605.5,535.3 L604.8,545.5 L599.1,554.1 L589.8,557.8 L582.9,551.2 L569.1,533.8 L570.0,521.6 L556.7,506.1 L549.5,490.6 L553.6,475.9 L566.3,461.0Z"/><path d="M606.2,458.9 L611.4,461.3 L617.1,458.0 L646.8,456.1 L652.8,508.3 L645.2,521.4 L638.5,532.3 L612.2,538.8 L604.8,545.5 L605.5,535.3 L610.6,520.7 L610.4,506.5Z"/><path d="M617.1,458.0 L646.8,456.1 L666.9,453.0 L671.4,446.9 L678.6,433.7 L678.9,425.5 L675.7,413.7 L668.7,405.6 L663.2,408.3 L655.5,416.4 L659.7,403.7 L660.4,387.4 L649.3,378.7 L638.7,373.9 L630.2,387.0 L628.3,395.3 L619.5,394.2 L617.1,412.6 L623.9,436.2 L622.2,448.5Z"/><path d="M557.8,365.5 L561.0,362.0 L579.0,356.0 L588.0,345.5 L591.0,358.0 L608.0,363.0 L626.8,356.0 L637.0,360.0 L642.0,368.5 L637.0,371.5 L623.6,371.0 L606.0,376.5 L597.0,384.0 L590.0,375.0 L576.0,373.0 L563.0,370.0Z"/><path d="M646.8,456.1 L666.9,453.0 L678.7,456.1 L693.6,454.0 L709.5,441.7 L713.9,468.4 L714.8,481.4 L711.2,488.1 L700.5,500.0 L694.6,513.1 L688.9,517.6 L672.9,515.4 L661.1,509.7 L652.8,508.3Z"/><path d="M652.8,508.3 L645.2,521.4 L638.5,532.3 L629.3,535.2 L612.2,538.8 L604.8,545.5 L599.1,554.1 L589.8,557.8 L584.0,567.3 L607.3,565.6 L606.7,562.0 L676.9,556.3 L701.3,533.8 L689.6,522.6 L688.9,517.6 L672.9,515.4 L661.1,509.7Z"/><path d="M584.0,567.3 L607.3,565.6 L606.7,562.0 L676.9,556.3 L709.2,551.9 L709.3,558.0 L705.1,562.7 L688.6,573.2 L670.5,585.7 L670.7,589.9 L649.8,592.5 L607.3,596.1 L576.2,598.2 L578.8,585.9 L581.5,577.6Z"/><path d="M576.2,598.2 L607.3,596.1 L607.8,658.8 L611.4,689.1 L601.1,690.5 L590.9,694.2 L587.5,678.3 L555.3,680.1 L557.5,653.8 L561.1,639.5 L563.0,627.3 L568.7,610.8Z"/><path d="M607.3,596.1 L649.8,592.5 L665.4,641.1 L666.0,661.3 L668.9,671.1 L624.2,675.6 L627.2,689.5 L618.6,691.2 L611.4,689.1 L607.8,658.8Z"/><path d="M649.8,592.5 L670.7,589.9 L690.5,587.2 L694.2,595.9 L709.2,613.2 L733.8,640.1 L736.7,641.0 L731.2,656.8 L730.5,669.1 L721.4,672.5 L718.0,673.5 L672.0,676.9 L668.9,671.1 L666.0,661.3 L665.4,641.1Z"/><path d="M624.2,675.6 L668.9,671.1 L672.0,676.9 L718.0,673.5 L721.4,672.5 L730.5,669.1 L735.6,684.6 L751.8,708.4 L765.9,738.4 L770.1,757.9 L766.4,774.6 L753.9,778.6 L740.6,764.6 L729.2,750.1 L718.0,735.6 L714.3,722.0 L713.6,704.0 L694.0,690.4 L681.6,689.9 L666.6,697.7 L644.3,685.9 L627.2,689.5Z"/><path d="M690.5,587.2 L707.8,580.9 L724.1,579.3 L726.2,582.0 L728.4,585.3 L746.7,582.8 L768.6,598.4 L760.1,613.2 L748.9,627.4 L736.7,641.0 L733.8,640.1 L709.2,613.2 L694.2,595.9Z"/><path d="M670.7,589.9 L690.5,587.2 L707.8,580.9 L724.1,579.3 L726.2,582.0 L728.4,585.3 L746.7,582.8 L768.6,598.4 L778.9,595.4 L790.8,578.7 L804.8,565.5 L812.2,560.9 L803.3,543.1 L800.3,536.5 L709.2,551.9 L709.3,558.0 L705.1,562.7 L688.6,573.2 L670.5,585.7Z"/><path d="M676.9,556.3 L709.2,551.9 L800.3,536.5 L796.8,527.9 L792.1,528.9 L788.4,511.1 L775.9,505.3 L771.7,500.0 L772.9,494.6 L764.5,488.0 L760.9,487.2 L751.4,493.6 L745.0,501.9 L736.5,516.8 L727.6,530.6 L717.3,536.3 L701.3,533.8Z"/><path d="M713.9,468.4 L716.9,486.8 L732.7,484.1 L734.5,494.5 L750.9,482.9 L760.9,487.2 L751.4,493.6 L745.0,501.9 L736.5,516.8 L727.6,530.6 L717.3,536.3 L701.3,533.8 L689.6,522.6 L688.9,517.6 L694.6,513.1 L700.5,500.0 L711.2,488.1 L714.8,481.4Z"/><path d="M732.7,484.1 L788.4,473.4 L793.9,498.6 L805.2,496.1 L804.0,505.3 L798.2,508.0 L791.3,502.2 L786.1,492.9 L782.5,483.4 L780.3,487.9 L784.7,501.5 L787.9,509.1 L775.9,505.3 L771.7,500.0 L772.9,494.6 L764.5,488.0 L760.9,487.2 L750.9,482.9 L734.5,494.5Z"/><path d="M788.4,473.4 L792.3,470.1 L794.0,470.6 L793.0,477.0 L803.7,489.2 L805.2,496.1 L793.9,498.6Z"/><path d="M709.4,441.3 L719.7,434.1 L720.6,439.4 L785.0,427.0 L789.6,430.1 L797.6,437.5 L792.8,446.4 L797.3,457.4 L802.9,461.4 L797.8,466.6 L794.0,470.6 L792.3,470.1 L788.4,473.4 L716.9,486.8Z"/><path d="M797.6,437.5 L811.1,442.1 L810.8,448.2 L812.5,451.9 L814.0,461.9 L810.8,475.1 L804.6,486.3 L793.0,477.0 L794.0,470.6 L797.8,466.6 L802.9,461.4 L797.3,457.4 L792.8,446.4Z"/><path d="M720.6,439.4 L719.7,434.1 L728.5,423.7 L730.0,419.4 L726.6,412.8 L748.9,408.7 L765.0,400.3 L763.6,386.2 L773.2,369.8 L781.1,366.0 L799.8,361.5 L803.4,373.2 L805.3,389.3 L812.1,405.5 L811.8,419.9 L816.4,438.5 L813.8,441.2 L831.4,437.0 L840.4,433.2 L830.9,441.3 L813.0,450.8 L810.8,448.2 L811.1,442.1 L797.6,437.5 L789.6,430.1 L785.0,427.0Z"/><path d="M799.8,361.5 L825.4,355.1 L822.1,370.7 L820.0,385.7 L822.2,397.6 L822.0,403.3 L812.1,405.5 L805.3,389.3 L803.4,373.2Z"/><path d="M825.4,355.1 L829.7,347.9 L835.0,363.2 L838.9,376.7 L846.6,389.3 L848.5,391.4 L845.0,394.5 L840.2,399.3 L822.0,403.3 L822.2,397.6 L820.0,385.7 L822.1,370.7Z"/><path d="M829.7,347.9 L837.2,333.5 L836.9,317.0 L843.4,299.6 L855.9,298.0 L864.1,301.4 L872.1,327.6 L879.2,333.8 L887.8,339.6 L877.0,353.4 L864.9,363.2 L852.9,373.9 L848.5,391.4 L846.6,389.3 L838.9,376.7 L835.0,363.2Z"/><path d="M811.8,419.9 L812.1,405.5 L822.0,403.3 L840.2,399.3 L845.0,394.5 L850.7,398.6 L846.5,406.0 L854.1,411.3 L863.9,412.8 L861.5,407.2 L864.9,413.6 L856.3,419.0 L849.0,422.0 L843.2,415.2 L836.5,414.4Z"/><path d="M836.5,414.4 L843.2,415.2 L849.0,422.0 L845.2,424.1 L839.2,428.3Z"/><path d="M811.8,419.9 L836.5,414.4 L839.2,428.3 L830.1,431.7 L813.8,441.2 L816.4,438.5Z"/><path d="M99.6,646.3 L118.0,641.0 L136.6,639.4 L148.0,645.0 L178.3,655.6 L179.4,738.9 L194.5,741.0 L208.4,748.0 L222.0,758.0 L231.5,771.3 L232.7,782.9 L222.3,785.2 L214.0,776.0 L208.4,771.3 L194.5,752.8 L180.6,743.5 L162.0,739.0 L148.2,732.0 L136.6,727.3 L128.0,738.0 L120.4,748.2 L97.2,762.0 L69.5,766.7 L34.7,772.5 L2.3,766.0 L30.0,768.0 L70.0,761.0 L96.0,755.0 L111.0,743.5 L99.6,739.0 L83.4,725.0 L78.7,708.8 L85.7,701.9 L97.2,697.2 L83.4,676.4 L88.0,669.5 L101.9,667.1 L97.2,655.6Z"/><path d="M282.0,737.0 L291.0,731.0 L301.0,736.0 L305.0,746.0 L299.0,755.0 L290.0,757.0 L283.0,750.0Z"/><path d="M262.0,716.0 L270.0,712.0 L280.0,717.0 L282.0,724.0 L273.0,727.0 L265.0,723.0Z"/><path d="M240.0,703.0 L247.0,700.0 L252.0,706.0 L246.0,710.0Z"/><path d="M211.0,692.0 L218.0,689.0 L221.0,695.0 L214.0,698.0Z"/></g>
<g filter="url(#bl)"><path d="M156.8,391.5 L199.8,401.9 L243.4,411.0 L220.9,526.4 L209.3,526.1 L209.8,538.4 L206.8,548.1 L141.4,450.2Z" fill="#000" fill-opacity="0.082"/><path d="M127.8,416.5 L170.8,426.9 L214.4,436.0 L191.9,551.4 L180.3,551.1 L180.8,563.4 L177.8,573.1 L112.4,475.2Z" fill="#000" fill-opacity="0.057"/><path d="M158.7,393.8 L201.8,404.2 L245.4,413.3 L222.9,528.7 L211.2,528.4 L211.7,540.7 L208.8,550.4 L143.4,452.5Z" fill="#000" fill-opacity="0.078"/><path d="M129.7,418.8 L172.8,429.2 L216.4,438.3 L193.9,553.7 L182.2,553.4 L182.7,565.7 L179.8,575.4 L114.4,477.5Z" fill="#000" fill-opacity="0.055"/><path d="M160.7,396.1 L203.7,406.5 L247.3,415.6 L224.8,531.0 L213.2,530.7 L213.7,543.0 L210.7,552.7 L145.3,454.8Z" fill="#000" fill-opacity="0.075"/><path d="M131.7,421.1 L174.7,431.5 L218.3,440.6 L195.8,556.0 L184.2,555.7 L184.7,568.0 L181.7,577.7 L116.3,479.8Z" fill="#000" fill-opacity="0.052"/><path d="M162.7,398.4 L205.7,408.8 L249.3,417.9 L226.8,533.3 L215.1,533.0 L215.6,545.3 L212.7,555.0 L147.3,457.1Z" fill="#000" fill-opacity="0.071"/><path d="M133.7,423.4 L176.7,433.8 L220.3,442.9 L197.8,558.3 L186.1,558.0 L186.6,570.3 L183.7,580.0 L118.3,482.1Z" fill="#000" fill-opacity="0.050"/><path d="M164.6,400.7 L207.6,411.1 L251.2,420.2 L228.7,535.6 L217.1,535.3 L217.6,547.6 L214.6,557.3 L149.3,459.4Z" fill="#000" fill-opacity="0.068"/><path d="M135.6,425.7 L178.6,436.1 L222.2,445.2 L199.7,560.6 L188.1,560.3 L188.6,572.6 L185.6,582.3 L120.3,484.4Z" fill="#000" fill-opacity="0.048"/><path d="M166.6,403.0 L209.6,413.4 L253.2,422.5 L230.7,537.9 L219.0,537.6 L219.5,549.9 L216.6,559.6 L151.2,461.7Z" fill="#000" fill-opacity="0.065"/><path d="M137.6,428.0 L180.6,438.4 L224.2,447.5 L201.7,562.9 L190.0,562.6 L190.5,574.9 L187.6,584.6 L122.2,486.7Z" fill="#000" fill-opacity="0.045"/><path d="M168.5,405.3 L211.5,415.7 L255.2,424.8 L232.6,540.2 L221.0,539.9 L221.5,552.2 L218.5,561.9 L153.2,464.0Z" fill="#000" fill-opacity="0.061"/><path d="M139.5,430.3 L182.5,440.7 L226.2,449.8 L203.6,565.2 L192.0,564.9 L192.5,577.2 L189.5,586.9 L124.2,489.0Z" fill="#000" fill-opacity="0.043"/><path d="M170.5,407.6 L213.5,418.0 L257.1,427.1 L234.6,542.5 L222.9,542.2 L223.4,554.5 L220.5,564.2 L155.1,466.3Z" fill="#000" fill-opacity="0.058"/><path d="M141.5,432.6 L184.5,443.0 L228.1,452.1 L205.6,567.5 L193.9,567.2 L194.4,579.5 L191.5,589.2 L126.1,491.3Z" fill="#000" fill-opacity="0.040"/><path d="M172.4,409.9 L215.4,420.3 L259.1,429.4 L236.6,544.8 L224.9,544.5 L225.4,556.8 L222.4,566.5 L157.1,468.6Z" fill="#000" fill-opacity="0.054"/><path d="M143.4,434.9 L186.4,445.3 L230.1,454.4 L207.6,569.8 L195.9,569.5 L196.4,581.8 L193.4,591.5 L128.1,493.6Z" fill="#000" fill-opacity="0.038"/><path d="M174.4,412.2 L217.4,422.6 L261.0,431.7 L238.5,547.1 L226.9,546.8 L227.4,559.1 L224.4,568.8 L159.0,470.9Z" fill="#000" fill-opacity="0.051"/><path d="M145.4,437.2 L188.4,447.6 L232.0,456.7 L209.5,572.1 L197.9,571.8 L198.4,584.1 L195.4,593.8 L130.0,495.9Z" fill="#000" fill-opacity="0.036"/><path d="M176.3,414.5 L219.4,424.9 L263.0,434.0 L240.5,549.4 L228.8,549.1 L229.3,561.4 L226.4,571.1 L161.0,473.2Z" fill="#000" fill-opacity="0.048"/><path d="M147.3,439.5 L190.4,449.9 L234.0,459.0 L211.5,574.4 L199.8,574.1 L200.3,586.4 L197.4,596.1 L132.0,498.2Z" fill="#000" fill-opacity="0.033"/><path d="M178.3,416.8 L221.3,427.2 L264.9,436.3 L242.4,551.7 L230.8,551.4 L231.3,563.7 L228.3,573.4 L162.9,475.5Z" fill="#000" fill-opacity="0.044"/><path d="M149.3,441.8 L192.3,452.2 L235.9,461.3 L213.4,576.7 L201.8,576.4 L202.3,588.7 L199.3,598.4 L133.9,500.5Z" fill="#000" fill-opacity="0.031"/><path d="M180.3,419.1 L223.3,429.5 L266.9,438.6 L244.4,554.0 L232.7,553.7 L233.2,566.0 L230.3,575.7 L164.9,477.8Z" fill="#000" fill-opacity="0.041"/><path d="M151.3,444.1 L194.3,454.5 L237.9,463.6 L215.4,579.0 L203.7,578.7 L204.2,591.0 L201.3,600.7 L135.9,502.8Z" fill="#000" fill-opacity="0.029"/><path d="M182.2,421.4 L225.2,431.8 L268.8,440.9 L246.3,556.3 L234.7,556.0 L235.2,568.3 L232.2,578.0 L166.9,480.1Z" fill="#000" fill-opacity="0.037"/><path d="M153.2,446.4 L196.2,456.8 L239.8,465.9 L217.3,581.3 L205.7,581.0 L206.2,593.3 L203.2,603.0 L137.9,505.1Z" fill="#000" fill-opacity="0.026"/><path d="M184.2,423.7 L227.2,434.1 L270.8,443.2 L248.3,558.6 L236.6,558.3 L237.1,570.6 L234.2,580.3 L168.8,482.4Z" fill="#000" fill-opacity="0.034"/><path d="M155.2,448.7 L198.2,459.1 L241.8,468.2 L219.3,583.6 L207.6,583.3 L208.1,595.6 L205.2,605.3 L139.8,507.4Z" fill="#000" fill-opacity="0.024"/><path d="M186.1,426.0 L229.1,436.4 L272.7,445.5 L250.2,560.9 L238.6,560.6 L239.1,572.9 L236.1,582.6 L170.8,484.7Z" fill="#000" fill-opacity="0.031"/><path d="M157.1,451.0 L200.1,461.4 L243.7,470.5 L221.2,585.9 L209.6,585.6 L210.1,597.9 L207.1,607.6 L141.8,509.7Z" fill="#000" fill-opacity="0.021"/><path d="M188.1,428.3 L231.1,438.7 L274.7,447.8 L252.2,563.2 L240.5,562.9 L241.0,575.2 L238.1,584.9 L172.7,487.0Z" fill="#000" fill-opacity="0.027"/><path d="M159.1,453.3 L202.1,463.7 L245.7,472.8 L223.2,588.2 L211.5,587.9 L212.0,600.2 L209.1,609.9 L143.7,512.0Z" fill="#000" fill-opacity="0.019"/><path d="M190.0,430.6 L233.0,441.0 L276.7,450.1 L254.1,565.5 L242.5,565.2 L243.0,577.5 L240.0,587.2 L174.7,489.3Z" fill="#000" fill-opacity="0.024"/><path d="M161.0,455.6 L204.0,466.0 L247.7,475.1 L225.1,590.5 L213.5,590.2 L214.0,602.5 L211.0,612.2 L145.7,514.3Z" fill="#000" fill-opacity="0.017"/><path d="M192.0,432.9 L235.0,443.3 L278.6,452.4 L256.1,567.8 L244.5,567.5 L245.0,579.8 L242.0,589.5 L176.6,491.6Z" fill="#000" fill-opacity="0.020"/><path d="M163.0,457.9 L206.0,468.3 L249.6,477.4 L227.1,592.8 L215.5,592.5 L216.0,604.8 L213.0,614.5 L147.6,516.6Z" fill="#000" fill-opacity="0.014"/><path d="M193.9,435.2 L237.0,445.6 L280.6,454.7 L258.1,570.1 L246.4,569.8 L246.9,582.1 L244.0,591.8 L178.6,493.9Z" fill="#000" fill-opacity="0.017"/><path d="M164.9,460.2 L208.0,470.6 L251.6,479.7 L229.1,595.1 L217.4,594.8 L217.9,607.1 L215.0,616.8 L149.6,518.9Z" fill="#000" fill-opacity="0.012"/><path d="M195.9,437.5 L238.9,447.9 L282.5,457.0 L260.0,572.4 L248.4,572.1 L248.9,584.4 L245.9,594.1 L180.5,496.2Z" fill="#000" fill-opacity="0.014"/><path d="M166.9,462.5 L209.9,472.9 L253.5,482.0 L231.0,597.4 L219.4,597.1 L219.9,609.4 L216.9,619.1 L151.5,521.2Z" fill="#000" fill-opacity="0.010"/><path d="M197.8,439.8 L240.9,450.2 L284.5,459.3 L262.0,574.7 L250.3,574.4 L250.8,586.7 L247.9,596.4 L182.5,498.5Z" fill="#000" fill-opacity="0.010"/><path d="M168.8,464.8 L211.9,475.2 L255.5,484.3 L233.0,599.7 L221.3,599.4 L221.8,611.7 L218.9,621.4 L153.5,523.5Z" fill="#000" fill-opacity="0.007"/><path d="M199.8,442.1 L242.8,452.5 L286.4,461.6 L263.9,577.0 L252.3,576.7 L252.8,589.0 L249.8,598.7 L184.4,500.8Z" fill="#000" fill-opacity="0.007"/><path d="M170.8,467.1 L213.8,477.5 L257.4,486.6 L234.9,602.0 L223.3,601.7 L223.8,614.0 L220.8,623.7 L155.4,525.8Z" fill="#000" fill-opacity="0.005"/><path d="M201.8,444.4 L244.8,454.8 L288.4,463.9 L265.9,579.3 L254.2,579.0 L254.7,591.3 L251.8,601.0 L186.4,503.1Z" fill="#000" fill-opacity="0.003"/><path d="M172.8,469.4 L215.8,479.8 L259.4,488.9 L236.9,604.3 L225.2,604.0 L225.7,616.3 L222.8,626.0 L157.4,528.1Z" fill="#000" fill-opacity="0.002"/><path d="M217.9,511.2 L296.7,524.3 L280.7,637.7 L246.4,632.5 L187.8,598.2 L190.2,593.9 L194.8,588.5 L193.3,580.6 L198.5,571.3 L206.0,565.2 L201.3,563.6 L200.8,549.1 L203.8,539.4 L203.3,527.1Z" fill="#000" fill-opacity="0.062"/><path d="M194.9,535.2 L273.7,548.3 L257.7,661.7 L223.4,656.5 L164.8,622.2 L167.2,617.9 L171.8,612.5 L170.3,604.6 L175.5,595.3 L183.0,589.2 L178.3,587.6 L177.8,573.1 L180.8,563.4 L180.3,551.1Z" fill="#000" fill-opacity="0.044"/><path d="M219.9,513.5 L298.6,526.6 L282.7,640.0 L248.4,634.8 L189.8,600.5 L192.2,596.2 L196.7,590.8 L195.2,582.9 L200.5,573.6 L208.0,567.5 L203.2,565.9 L202.8,551.4 L205.7,541.7 L205.2,529.4Z" fill="#000" fill-opacity="0.060"/><path d="M196.9,537.5 L275.6,550.6 L259.7,664.0 L225.4,658.8 L166.8,624.5 L169.2,620.2 L173.7,614.8 L172.2,606.9 L177.5,597.6 L185.0,591.5 L180.2,589.9 L179.8,575.4 L182.7,565.7 L182.2,553.4Z" fill="#000" fill-opacity="0.042"/><path d="M221.8,515.8 L300.6,528.9 L284.6,642.3 L250.3,637.1 L191.7,602.8 L194.1,598.5 L198.7,593.1 L197.2,585.2 L202.4,575.9 L209.9,569.8 L205.2,568.2 L204.7,553.7 L207.7,544.0 L207.2,531.7Z" fill="#000" fill-opacity="0.057"/><path d="M198.8,539.8 L277.6,552.9 L261.6,666.3 L227.3,661.1 L168.7,626.8 L171.1,622.5 L175.7,617.1 L174.2,609.2 L179.4,599.9 L186.9,593.8 L182.2,592.2 L181.7,577.7 L184.7,568.0 L184.2,555.7Z" fill="#000" fill-opacity="0.040"/><path d="M223.8,518.1 L302.6,531.2 L286.6,644.6 L252.3,639.4 L193.7,605.1 L196.1,600.8 L200.6,595.4 L199.1,587.5 L204.4,578.2 L211.9,572.1 L207.1,570.5 L206.7,556.0 L209.6,546.3 L209.1,534.0Z" fill="#000" fill-opacity="0.055"/><path d="M200.8,542.1 L279.6,555.2 L263.6,668.6 L229.3,663.4 L170.7,629.1 L173.1,624.8 L177.6,619.4 L176.1,611.5 L181.4,602.2 L188.9,596.1 L184.1,594.5 L183.7,580.0 L186.6,570.3 L186.1,558.0Z" fill="#000" fill-opacity="0.038"/><path d="M225.7,520.4 L304.5,533.5 L288.6,646.9 L254.2,641.7 L195.6,607.4 L198.0,603.1 L202.6,597.7 L201.1,589.8 L206.4,580.5 L213.8,574.4 L209.1,572.8 L208.6,558.3 L211.6,548.6 L211.1,536.3Z" fill="#000" fill-opacity="0.052"/><path d="M202.7,544.4 L281.5,557.5 L265.6,670.9 L231.2,665.7 L172.6,631.4 L175.0,627.1 L179.6,621.7 L178.1,613.8 L183.4,604.5 L190.8,598.4 L186.1,596.8 L185.6,582.3 L188.6,572.6 L188.1,560.3Z" fill="#000" fill-opacity="0.036"/><path d="M227.7,522.7 L306.5,535.8 L290.5,649.2 L256.2,644.0 L197.6,609.7 L200.0,605.4 L204.5,600.0 L203.0,592.1 L208.3,582.8 L215.8,576.7 L211.0,575.1 L210.6,560.6 L213.5,550.9 L213.0,538.6Z" fill="#000" fill-opacity="0.049"/><path d="M204.7,546.7 L283.5,559.8 L267.5,673.2 L233.2,668.0 L174.6,633.7 L177.0,629.4 L181.5,624.0 L180.0,616.1 L185.3,606.8 L192.8,600.7 L188.0,599.1 L187.6,584.6 L190.5,574.9 L190.0,562.6Z" fill="#000" fill-opacity="0.035"/><path d="M229.6,525.0 L308.4,538.1 L292.5,651.5 L258.1,646.3 L199.5,612.0 L201.9,607.7 L206.5,602.3 L205.0,594.4 L210.3,585.1 L217.7,579.0 L213.0,577.4 L212.5,562.9 L215.5,553.2 L215.0,540.9Z" fill="#000" fill-opacity="0.047"/><path d="M206.6,549.0 L285.4,562.1 L269.5,675.5 L235.1,670.3 L176.5,636.0 L178.9,631.7 L183.5,626.3 L182.0,618.4 L187.3,609.1 L194.7,603.0 L190.0,601.4 L189.5,586.9 L192.5,577.2 L192.0,564.9Z" fill="#000" fill-opacity="0.033"/><path d="M231.6,527.3 L310.4,540.4 L294.4,653.8 L260.1,648.6 L201.5,614.3 L203.9,610.0 L208.4,604.6 L207.0,596.7 L212.2,587.4 L219.7,581.3 L214.9,579.7 L214.5,565.2 L217.4,555.5 L216.9,543.2Z" fill="#000" fill-opacity="0.044"/><path d="M208.6,551.3 L287.4,564.4 L271.4,677.8 L237.1,672.6 L178.5,638.3 L180.9,634.0 L185.4,628.6 L184.0,620.7 L189.2,611.4 L196.7,605.3 L191.9,603.7 L191.5,589.2 L194.4,579.5 L193.9,567.2Z" fill="#000" fill-opacity="0.031"/><path d="M233.5,529.6 L312.3,542.7 L296.4,656.1 L262.0,650.9 L203.4,616.6 L205.9,612.3 L210.4,606.9 L208.9,599.0 L214.2,589.7 L221.7,583.6 L216.9,582.0 L216.4,567.5 L219.4,557.8 L218.9,545.5Z" fill="#000" fill-opacity="0.042"/><path d="M210.5,553.6 L289.3,566.7 L273.4,680.1 L239.0,674.9 L180.4,640.6 L182.9,636.3 L187.4,630.9 L185.9,623.0 L191.2,613.7 L198.7,607.6 L193.9,606.0 L193.4,591.5 L196.4,581.8 L195.9,569.5Z" fill="#000" fill-opacity="0.029"/><path d="M235.5,531.9 L314.3,545.0 L298.3,658.4 L264.0,653.2 L205.4,618.9 L207.8,614.6 L212.4,609.2 L210.9,601.3 L216.1,592.0 L223.6,585.9 L218.9,584.3 L218.4,569.8 L221.4,560.1 L220.9,547.8Z" fill="#000" fill-opacity="0.039"/><path d="M212.5,555.9 L291.3,569.0 L275.3,682.4 L241.0,677.2 L182.4,642.9 L184.8,638.6 L189.4,633.2 L187.9,625.3 L193.1,616.0 L200.6,609.9 L195.9,608.3 L195.4,593.8 L198.4,584.1 L197.9,571.8Z" fill="#000" fill-opacity="0.027"/><path d="M237.4,534.2 L316.2,547.3 L300.3,660.7 L265.9,655.5 L207.4,621.2 L209.8,616.9 L214.3,611.5 L212.8,603.6 L218.1,594.3 L225.6,588.2 L220.8,586.6 L220.4,572.1 L223.3,562.4 L222.8,550.1Z" fill="#000" fill-opacity="0.036"/><path d="M214.4,558.2 L293.2,571.3 L277.3,684.7 L242.9,679.5 L184.4,645.2 L186.8,640.9 L191.3,635.5 L189.8,627.6 L195.1,618.3 L202.6,612.2 L197.8,610.6 L197.4,596.1 L200.3,586.4 L199.8,574.1Z" fill="#000" fill-opacity="0.025"/><path d="M239.4,536.5 L318.2,549.6 L302.2,663.0 L267.9,657.8 L209.3,623.5 L211.7,619.2 L216.3,613.8 L214.8,605.9 L220.0,596.6 L227.5,590.5 L222.8,588.9 L222.3,574.4 L225.3,564.7 L224.8,552.4Z" fill="#000" fill-opacity="0.034"/><path d="M216.4,560.5 L295.2,573.6 L279.2,687.0 L244.9,681.8 L186.3,647.5 L188.7,643.2 L193.3,637.8 L191.8,629.9 L197.0,620.6 L204.5,614.5 L199.8,612.9 L199.3,598.4 L202.3,588.7 L201.8,576.4Z" fill="#000" fill-opacity="0.024"/><path d="M241.4,538.8 L320.1,551.9 L304.2,665.3 L269.9,660.1 L211.3,625.8 L213.7,621.5 L218.2,616.1 L216.7,608.2 L222.0,598.9 L229.5,592.8 L224.7,591.2 L224.3,576.7 L227.2,567.0 L226.7,554.7Z" fill="#000" fill-opacity="0.031"/><path d="M218.4,562.8 L297.1,575.9 L281.2,689.3 L246.9,684.1 L188.3,649.8 L190.7,645.5 L195.2,640.1 L193.7,632.2 L199.0,622.9 L206.5,616.8 L201.7,615.2 L201.3,600.7 L204.2,591.0 L203.7,578.7Z" fill="#000" fill-opacity="0.022"/><path d="M243.3,541.1 L322.1,554.2 L306.2,667.6 L271.8,662.4 L213.2,628.1 L215.6,623.8 L220.2,618.4 L218.7,610.5 L224.0,601.2 L231.4,595.1 L226.7,593.5 L226.2,579.0 L229.2,569.3 L228.7,557.0Z" fill="#000" fill-opacity="0.029"/><path d="M220.3,565.1 L299.1,578.2 L283.2,691.6 L248.8,686.4 L190.2,652.1 L192.6,647.8 L197.2,642.4 L195.7,634.5 L201.0,625.2 L208.4,619.1 L203.7,617.5 L203.2,603.0 L206.2,593.3 L205.7,581.0Z" fill="#000" fill-opacity="0.020"/><path d="M245.3,543.4 L324.1,556.5 L308.1,669.9 L273.8,664.7 L215.2,630.4 L217.6,626.1 L222.1,620.7 L220.6,612.8 L225.9,603.5 L233.4,597.4 L228.6,595.8 L228.2,581.3 L231.1,571.6 L230.6,559.3Z" fill="#000" fill-opacity="0.026"/><path d="M222.3,567.4 L301.1,580.5 L285.1,693.9 L250.8,688.7 L192.2,654.4 L194.6,650.1 L199.1,644.7 L197.6,636.8 L202.9,627.5 L210.4,621.4 L205.6,619.8 L205.2,605.3 L208.1,595.6 L207.6,583.3Z" fill="#000" fill-opacity="0.018"/><path d="M247.2,545.7 L326.0,558.8 L310.1,672.2 L275.7,667.0 L217.1,632.7 L219.5,628.4 L224.1,623.0 L222.6,615.1 L227.9,605.8 L235.3,599.7 L230.6,598.1 L230.1,583.6 L233.1,573.9 L232.6,561.6Z" fill="#000" fill-opacity="0.023"/><path d="M224.2,569.7 L303.0,582.8 L287.1,696.2 L252.7,691.0 L194.1,656.7 L196.5,652.4 L201.1,647.0 L199.6,639.1 L204.9,629.8 L212.3,623.7 L207.6,622.1 L207.1,607.6 L210.1,597.9 L209.6,585.6Z" fill="#000" fill-opacity="0.016"/><path d="M249.2,548.0 L328.0,561.1 L312.0,674.5 L277.7,669.3 L219.1,635.0 L221.5,630.7 L226.0,625.3 L224.6,617.4 L229.8,608.1 L237.3,602.0 L232.5,600.4 L232.1,585.9 L235.0,576.2 L234.5,563.9Z" fill="#000" fill-opacity="0.021"/><path d="M226.2,572.0 L305.0,585.1 L289.0,698.5 L254.7,693.3 L196.1,659.0 L198.5,654.7 L203.0,649.3 L201.6,641.4 L206.8,632.1 L214.3,626.0 L209.5,624.4 L209.1,609.9 L212.0,600.2 L211.5,587.9Z" fill="#000" fill-opacity="0.015"/><path d="M251.1,550.3 L329.9,563.4 L314.0,676.8 L279.6,671.6 L221.0,637.3 L223.5,633.0 L228.0,627.6 L226.5,619.7 L231.8,610.4 L239.3,604.3 L234.5,602.7 L234.0,588.2 L237.0,578.5 L236.5,566.2Z" fill="#000" fill-opacity="0.018"/><path d="M228.1,574.3 L306.9,587.4 L291.0,700.8 L256.6,695.6 L198.0,661.3 L200.5,657.0 L205.0,651.6 L203.5,643.7 L208.8,634.4 L216.3,628.3 L211.5,626.7 L211.0,612.2 L214.0,602.5 L213.5,590.2Z" fill="#000" fill-opacity="0.013"/><path d="M253.1,552.6 L331.9,565.7 L315.9,679.1 L281.6,673.9 L223.0,639.6 L225.4,635.3 L229.9,629.9 L228.5,622.0 L233.7,612.7 L241.2,606.6 L236.4,605.0 L236.0,590.5 L239.0,580.8 L238.5,568.5Z" fill="#000" fill-opacity="0.016"/><path d="M230.1,576.6 L308.9,589.7 L292.9,703.1 L258.6,697.9 L200.0,663.6 L202.4,659.3 L206.9,653.9 L205.5,646.0 L210.7,636.7 L218.2,630.6 L213.4,629.0 L213.0,614.5 L216.0,604.8 L215.5,592.5Z" fill="#000" fill-opacity="0.011"/><path d="M255.0,554.9 L333.8,568.0 L317.9,681.4 L283.5,676.2 L224.9,641.9 L227.4,637.6 L231.9,632.2 L230.4,624.3 L235.7,615.0 L243.2,608.9 L238.4,607.3 L238.0,592.8 L240.9,583.1 L240.4,570.8Z" fill="#000" fill-opacity="0.013"/><path d="M232.0,578.9 L310.8,592.0 L294.9,705.4 L260.5,700.2 L201.9,665.9 L204.4,661.6 L208.9,656.2 L207.4,648.3 L212.7,639.0 L220.2,632.9 L215.4,631.3 L215.0,616.8 L217.9,607.1 L217.4,594.8Z" fill="#000" fill-opacity="0.009"/><path d="M257.0,557.2 L335.8,570.3 L319.8,683.7 L285.5,678.5 L226.9,644.2 L229.3,639.9 L233.9,634.5 L232.4,626.6 L237.6,617.3 L245.1,611.2 L240.4,609.6 L239.9,595.1 L242.9,585.4 L242.4,573.1Z" fill="#000" fill-opacity="0.010"/><path d="M234.0,581.2 L312.8,594.3 L296.8,707.7 L262.5,702.5 L203.9,668.2 L206.3,663.9 L210.9,658.5 L209.4,650.6 L214.6,641.3 L222.1,635.2 L217.4,633.6 L216.9,619.1 L219.9,609.4 L219.4,597.1Z" fill="#000" fill-opacity="0.007"/><path d="M259.0,559.5 L337.7,572.6 L321.8,686.0 L287.5,680.8 L228.9,646.5 L231.3,642.2 L235.8,636.8 L234.3,628.9 L239.6,619.6 L247.1,613.5 L242.3,611.9 L241.9,597.4 L244.8,587.7 L244.3,575.4Z" fill="#000" fill-opacity="0.008"/><path d="M236.0,583.5 L314.7,596.6 L298.8,710.0 L264.5,704.8 L205.9,670.5 L208.3,666.2 L212.8,660.8 L211.3,652.9 L216.6,643.6 L224.1,637.5 L219.3,635.9 L218.9,621.4 L221.8,611.7 L221.3,599.4Z" fill="#000" fill-opacity="0.005"/><path d="M260.9,561.8 L339.7,574.9 L323.7,688.3 L289.4,683.1 L230.8,648.8 L233.2,644.5 L237.8,639.1 L236.3,631.2 L241.5,621.9 L249.0,615.8 L244.3,614.2 L243.8,599.7 L246.8,590.0 L246.3,577.7Z" fill="#000" fill-opacity="0.005"/><path d="M237.9,585.8 L316.7,598.9 L300.7,712.3 L266.4,707.1 L207.8,672.8 L210.2,668.5 L214.8,663.1 L213.3,655.2 L218.5,645.9 L226.0,639.8 L221.3,638.2 L220.8,623.7 L223.8,614.0 L223.3,601.7Z" fill="#000" fill-opacity="0.004"/><path d="M262.9,564.1 L341.7,577.2 L325.7,690.6 L291.4,685.4 L232.8,651.1 L235.2,646.8 L239.7,641.4 L238.2,633.5 L243.5,624.2 L251.0,618.1 L246.2,616.5 L245.8,602.0 L248.7,592.3 L248.2,580.0Z" fill="#000" fill-opacity="0.003"/><path d="M239.9,588.1 L318.7,601.2 L302.7,714.6 L268.4,709.4 L209.8,675.1 L212.2,670.8 L216.7,665.4 L215.2,657.5 L220.5,648.2 L228.0,642.1 L223.2,640.5 L222.8,626.0 L225.7,616.3 L225.2,604.0Z" fill="#000" fill-opacity="0.002"/><path d="M554.6,351.7 L554.0,339.1 L558.1,339.0 L571.8,334.4 L580.5,340.5 L586.4,345.6 L599.3,348.7 L613.5,350.7 L621.5,362.0 L618.6,377.4 L624.6,364.8 L630.3,364.3 L622.1,385.2 L621.3,409.5 L623.6,419.6 L581.7,422.3 L574.6,417.6 L572.1,402.6 L561.6,389.0 L555.6,382.2 L548.7,373.4 L548.5,361.9Z" fill="#000" fill-opacity="0.053"/><path d="M533.6,378.7 L533.0,366.1 L537.1,366.0 L550.8,361.4 L559.5,367.5 L565.4,372.6 L578.3,375.7 L592.5,377.7 L600.5,389.0 L597.6,404.4 L603.6,391.8 L609.3,391.3 L601.1,412.2 L600.3,436.5 L602.6,446.6 L560.7,449.3 L553.6,444.6 L551.1,429.6 L540.6,416.0 L534.6,409.2 L527.7,400.4 L527.5,388.9Z" fill="#000" fill-opacity="0.037"/><path d="M556.3,353.7 L555.7,341.1 L559.8,341.0 L573.5,336.4 L582.2,342.5 L588.1,347.6 L601.0,350.7 L615.2,352.7 L623.2,364.0 L620.3,379.4 L626.3,366.8 L632.0,366.3 L623.8,387.2 L623.0,411.5 L625.3,421.6 L583.4,424.3 L576.3,419.6 L573.8,404.6 L563.3,391.0 L557.3,384.2 L550.4,375.4 L550.2,363.9Z" fill="#000" fill-opacity="0.051"/><path d="M535.3,380.7 L534.7,368.1 L538.8,368.0 L552.5,363.4 L561.2,369.5 L567.1,374.6 L580.0,377.7 L594.2,379.7 L602.2,391.0 L599.3,406.4 L605.3,393.8 L611.0,393.3 L602.8,414.2 L602.0,438.5 L604.3,448.6 L562.4,451.3 L555.3,446.6 L552.8,431.6 L542.3,418.0 L536.3,411.2 L529.4,402.4 L529.2,390.9Z" fill="#000" fill-opacity="0.035"/><path d="M558.0,355.7 L557.4,343.1 L561.5,343.0 L575.2,338.4 L583.9,344.5 L589.8,349.6 L602.7,352.7 L616.9,354.7 L624.9,366.0 L622.0,381.4 L628.0,368.8 L633.7,368.3 L625.5,389.2 L624.7,413.5 L627.0,423.6 L585.1,426.3 L578.0,421.6 L575.5,406.6 L565.0,393.0 L559.0,386.2 L552.1,377.4 L551.9,365.9Z" fill="#000" fill-opacity="0.048"/><path d="M537.0,382.7 L536.4,370.1 L540.5,370.0 L554.2,365.4 L562.9,371.5 L568.8,376.6 L581.7,379.7 L595.9,381.7 L603.9,393.0 L601.0,408.4 L607.0,395.8 L612.7,395.3 L604.5,416.2 L603.7,440.5 L606.0,450.6 L564.1,453.3 L557.0,448.6 L554.5,433.6 L544.0,420.0 L538.0,413.2 L531.1,404.4 L530.9,392.9Z" fill="#000" fill-opacity="0.034"/><path d="M559.7,357.7 L559.1,345.1 L563.2,345.0 L576.9,340.4 L585.6,346.5 L591.5,351.6 L604.4,354.7 L618.6,356.7 L626.6,368.0 L623.7,383.4 L629.7,370.8 L635.4,370.3 L627.2,391.2 L626.4,415.5 L628.7,425.6 L586.8,428.3 L579.7,423.6 L577.2,408.6 L566.7,395.0 L560.7,388.2 L553.8,379.4 L553.6,367.9Z" fill="#000" fill-opacity="0.046"/><path d="M538.7,384.7 L538.1,372.1 L542.2,372.0 L555.9,367.4 L564.6,373.5 L570.5,378.6 L583.4,381.7 L597.6,383.7 L605.6,395.0 L602.7,410.4 L608.7,397.8 L614.4,397.3 L606.2,418.2 L605.4,442.5 L607.7,452.6 L565.8,455.3 L558.7,450.6 L556.2,435.6 L545.7,422.0 L539.7,415.2 L532.8,406.4 L532.6,394.9Z" fill="#000" fill-opacity="0.032"/><path d="M561.4,359.7 L560.8,347.1 L564.9,347.0 L578.6,342.4 L587.3,348.5 L593.2,353.6 L606.1,356.7 L620.3,358.7 L628.3,370.0 L625.4,385.4 L631.4,372.8 L637.1,372.3 L628.9,393.2 L628.1,417.5 L630.4,427.6 L588.5,430.3 L581.4,425.6 L578.9,410.6 L568.4,397.0 L562.4,390.2 L555.5,381.4 L555.3,369.9Z" fill="#000" fill-opacity="0.044"/><path d="M540.4,386.7 L539.8,374.1 L543.9,374.0 L557.6,369.4 L566.3,375.5 L572.2,380.6 L585.1,383.7 L599.3,385.7 L607.3,397.0 L604.4,412.4 L610.4,399.8 L616.1,399.3 L607.9,420.2 L607.1,444.5 L609.4,454.6 L567.5,457.3 L560.4,452.6 L557.9,437.6 L547.4,424.0 L541.4,417.2 L534.5,408.4 L534.3,396.9Z" fill="#000" fill-opacity="0.031"/><path d="M563.1,361.7 L562.5,349.1 L566.6,349.0 L580.3,344.4 L589.0,350.5 L594.9,355.6 L607.8,358.7 L622.0,360.7 L630.0,372.0 L627.1,387.4 L633.1,374.8 L638.8,374.3 L630.6,395.2 L629.8,419.5 L632.1,429.6 L590.2,432.3 L583.1,427.6 L580.6,412.6 L570.1,399.0 L564.1,392.2 L557.2,383.4 L557.0,371.9Z" fill="#000" fill-opacity="0.042"/><path d="M542.1,388.7 L541.5,376.1 L545.6,376.0 L559.3,371.4 L568.0,377.5 L573.9,382.6 L586.8,385.7 L601.0,387.7 L609.0,399.0 L606.1,414.4 L612.1,401.8 L617.8,401.3 L609.6,422.2 L608.8,446.5 L611.1,456.6 L569.2,459.3 L562.1,454.6 L559.6,439.6 L549.1,426.0 L543.1,419.2 L536.2,410.4 L536.0,398.9Z" fill="#000" fill-opacity="0.029"/><path d="M564.8,363.7 L564.2,351.1 L568.3,351.0 L582.0,346.4 L590.7,352.5 L596.6,357.6 L609.5,360.7 L623.7,362.7 L631.7,374.0 L628.8,389.4 L634.8,376.8 L640.5,376.3 L632.3,397.2 L631.5,421.5 L633.8,431.6 L591.9,434.3 L584.8,429.6 L582.3,414.6 L571.8,401.0 L565.8,394.2 L558.9,385.4 L558.7,373.9Z" fill="#000" fill-opacity="0.040"/><path d="M543.8,390.7 L543.2,378.1 L547.3,378.0 L561.0,373.4 L569.7,379.5 L575.6,384.6 L588.5,387.7 L602.7,389.7 L610.7,401.0 L607.8,416.4 L613.8,403.8 L619.5,403.3 L611.3,424.2 L610.5,448.5 L612.8,458.6 L570.9,461.3 L563.8,456.6 L561.3,441.6 L550.8,428.0 L544.8,421.2 L537.9,412.4 L537.7,400.9Z" fill="#000" fill-opacity="0.028"/><path d="M566.5,365.7 L565.9,353.1 L570.0,353.0 L583.7,348.4 L592.4,354.5 L598.3,359.6 L611.2,362.7 L625.4,364.7 L633.4,376.0 L630.5,391.4 L636.5,378.8 L642.2,378.3 L634.0,399.2 L633.2,423.5 L635.5,433.6 L593.6,436.3 L586.5,431.6 L584.0,416.6 L573.5,403.0 L567.5,396.2 L560.6,387.4 L560.4,375.9Z" fill="#000" fill-opacity="0.037"/><path d="M545.5,392.7 L544.9,380.1 L549.0,380.0 L562.7,375.4 L571.4,381.5 L577.3,386.6 L590.2,389.7 L604.4,391.7 L612.4,403.0 L609.5,418.4 L615.5,405.8 L621.2,405.3 L613.0,426.2 L612.2,450.5 L614.5,460.6 L572.6,463.3 L565.5,458.6 L563.0,443.6 L552.5,430.0 L546.5,423.2 L539.6,414.4 L539.4,402.9Z" fill="#000" fill-opacity="0.026"/><path d="M568.2,367.7 L567.6,355.1 L571.7,355.0 L585.4,350.4 L594.1,356.5 L600.0,361.6 L612.9,364.7 L627.1,366.7 L635.1,378.0 L632.2,393.4 L638.2,380.8 L643.9,380.3 L635.7,401.2 L634.9,425.5 L637.2,435.6 L595.3,438.3 L588.2,433.6 L585.7,418.6 L575.2,405.0 L569.2,398.2 L562.3,389.4 L562.1,377.9Z" fill="#000" fill-opacity="0.035"/><path d="M547.2,394.7 L546.6,382.1 L550.7,382.0 L564.4,377.4 L573.1,383.5 L579.0,388.6 L591.9,391.7 L606.1,393.7 L614.1,405.0 L611.2,420.4 L617.2,407.8 L622.9,407.3 L614.7,428.2 L613.9,452.5 L616.2,462.6 L574.3,465.3 L567.2,460.6 L564.7,445.6 L554.2,432.0 L548.2,425.2 L541.3,416.4 L541.1,404.9Z" fill="#000" fill-opacity="0.025"/><path d="M569.9,369.7 L569.3,357.1 L573.4,357.0 L587.1,352.4 L595.8,358.5 L601.7,363.6 L614.6,366.7 L628.8,368.7 L636.8,380.0 L633.9,395.4 L639.9,382.8 L645.6,382.3 L637.4,403.2 L636.6,427.5 L638.9,437.6 L597.0,440.3 L589.9,435.6 L587.4,420.6 L576.9,407.0 L570.9,400.2 L564.0,391.4 L563.8,379.9Z" fill="#000" fill-opacity="0.033"/><path d="M548.9,396.7 L548.3,384.1 L552.4,384.0 L566.1,379.4 L574.8,385.5 L580.7,390.6 L593.6,393.7 L607.8,395.7 L615.8,407.0 L612.9,422.4 L618.9,409.8 L624.6,409.3 L616.4,430.2 L615.6,454.5 L617.9,464.6 L576.0,467.3 L568.9,462.6 L566.4,447.6 L555.9,434.0 L549.9,427.2 L543.0,418.4 L542.8,406.9Z" fill="#000" fill-opacity="0.023"/><path d="M571.6,371.7 L571.0,359.1 L575.1,359.0 L588.8,354.4 L597.5,360.5 L603.4,365.6 L616.3,368.7 L630.5,370.7 L638.5,382.0 L635.6,397.4 L641.6,384.8 L647.3,384.3 L639.1,405.2 L638.3,429.5 L640.6,439.6 L598.7,442.3 L591.6,437.6 L589.1,422.6 L578.6,409.0 L572.6,402.2 L565.7,393.4 L565.5,381.9Z" fill="#000" fill-opacity="0.031"/><path d="M550.6,398.7 L550.0,386.1 L554.1,386.0 L567.8,381.4 L576.5,387.5 L582.4,392.6 L595.3,395.7 L609.5,397.7 L617.5,409.0 L614.6,424.4 L620.6,411.8 L626.3,411.3 L618.1,432.2 L617.3,456.5 L619.6,466.6 L577.7,469.3 L570.6,464.6 L568.1,449.6 L557.6,436.0 L551.6,429.2 L544.7,420.4 L544.5,408.9Z" fill="#000" fill-opacity="0.022"/><path d="M573.3,373.7 L572.7,361.1 L576.8,361.0 L590.5,356.4 L599.2,362.5 L605.1,367.6 L618.0,370.7 L632.2,372.7 L640.2,384.0 L637.3,399.4 L643.3,386.8 L649.0,386.3 L640.8,407.2 L640.0,431.5 L642.3,441.6 L600.4,444.3 L593.3,439.6 L590.8,424.6 L580.3,411.0 L574.3,404.2 L567.4,395.4 L567.2,383.9Z" fill="#000" fill-opacity="0.029"/><path d="M552.3,400.7 L551.7,388.1 L555.8,388.0 L569.5,383.4 L578.2,389.5 L584.1,394.6 L597.0,397.7 L611.2,399.7 L619.2,411.0 L616.3,426.4 L622.3,413.8 L628.0,413.3 L619.8,434.2 L619.0,458.5 L621.3,468.6 L579.4,471.3 L572.3,466.6 L569.8,451.6 L559.3,438.0 L553.3,431.2 L546.4,422.4 L546.2,410.9Z" fill="#000" fill-opacity="0.020"/><path d="M575.0,375.7 L574.4,363.1 L578.5,363.0 L592.2,358.4 L600.9,364.5 L606.8,369.6 L619.7,372.7 L633.9,374.7 L641.9,386.0 L639.0,401.4 L645.0,388.8 L650.7,388.3 L642.5,409.2 L641.7,433.5 L644.0,443.6 L602.1,446.3 L595.0,441.6 L592.5,426.6 L582.0,413.0 L576.0,406.2 L569.1,397.4 L568.9,385.9Z" fill="#000" fill-opacity="0.026"/><path d="M554.0,402.7 L553.4,390.1 L557.5,390.0 L571.2,385.4 L579.9,391.5 L585.8,396.6 L598.7,399.7 L612.9,401.7 L620.9,413.0 L618.0,428.4 L624.0,415.8 L629.7,415.3 L621.5,436.2 L620.7,460.5 L623.0,470.6 L581.1,473.3 L574.0,468.6 L571.5,453.6 L561.0,440.0 L555.0,433.2 L548.1,424.4 L547.9,412.9Z" fill="#000" fill-opacity="0.018"/><path d="M576.7,377.7 L576.1,365.1 L580.2,365.0 L593.9,360.4 L602.6,366.5 L608.5,371.6 L621.4,374.7 L635.6,376.7 L643.6,388.0 L640.7,403.4 L646.7,390.8 L652.4,390.3 L644.2,411.2 L643.4,435.5 L645.7,445.6 L603.8,448.3 L596.7,443.6 L594.2,428.6 L583.7,415.0 L577.7,408.2 L570.8,399.4 L570.6,387.9Z" fill="#000" fill-opacity="0.024"/><path d="M555.7,404.7 L555.1,392.1 L559.2,392.0 L572.9,387.4 L581.6,393.5 L587.5,398.6 L600.4,401.7 L614.6,403.7 L622.6,415.0 L619.7,430.4 L625.7,417.8 L631.4,417.3 L623.2,438.2 L622.4,462.5 L624.7,472.6 L582.8,475.3 L575.7,470.6 L573.2,455.6 L562.7,442.0 L556.7,435.2 L549.8,426.4 L549.6,414.9Z" fill="#000" fill-opacity="0.017"/><path d="M578.4,379.7 L577.8,367.1 L581.9,367.0 L595.6,362.4 L604.3,368.5 L610.2,373.6 L623.1,376.7 L637.3,378.7 L645.3,390.0 L642.4,405.4 L648.4,392.8 L654.1,392.3 L645.9,413.2 L645.1,437.5 L647.4,447.6 L605.5,450.3 L598.4,445.6 L595.9,430.6 L585.4,417.0 L579.4,410.2 L572.5,401.4 L572.3,389.9Z" fill="#000" fill-opacity="0.022"/><path d="M557.4,406.7 L556.8,394.1 L560.9,394.0 L574.6,389.4 L583.3,395.5 L589.2,400.6 L602.1,403.7 L616.3,405.7 L624.3,417.0 L621.4,432.4 L627.4,419.8 L633.1,419.3 L624.9,440.2 L624.1,464.5 L626.4,474.6 L584.5,477.3 L577.4,472.6 L574.9,457.6 L564.4,444.0 L558.4,437.2 L551.5,428.4 L551.3,416.9Z" fill="#000" fill-opacity="0.015"/><path d="M580.1,381.7 L579.5,369.1 L583.6,369.0 L597.3,364.4 L606.0,370.5 L611.9,375.6 L624.8,378.7 L639.0,380.7 L647.0,392.0 L644.1,407.4 L650.1,394.8 L655.8,394.3 L647.6,415.2 L646.8,439.5 L649.1,449.6 L607.2,452.3 L600.1,447.6 L597.6,432.6 L587.1,419.0 L581.1,412.2 L574.2,403.4 L574.0,391.9Z" fill="#000" fill-opacity="0.020"/><path d="M559.1,408.7 L558.5,396.1 L562.6,396.0 L576.3,391.4 L585.0,397.5 L590.9,402.6 L603.8,405.7 L618.0,407.7 L626.0,419.0 L623.1,434.4 L629.1,421.8 L634.8,421.3 L626.6,442.2 L625.8,466.5 L628.1,476.6 L586.2,479.3 L579.1,474.6 L576.6,459.6 L566.1,446.0 L560.1,439.2 L553.2,430.4 L553.0,418.9Z" fill="#000" fill-opacity="0.014"/><path d="M581.8,383.7 L581.2,371.1 L585.3,371.0 L599.0,366.4 L607.7,372.5 L613.6,377.6 L626.5,380.7 L640.7,382.7 L648.7,394.0 L645.8,409.4 L651.8,396.8 L657.5,396.3 L649.3,417.2 L648.5,441.5 L650.8,451.6 L608.9,454.3 L601.8,449.6 L599.3,434.6 L588.8,421.0 L582.8,414.2 L575.9,405.4 L575.7,393.9Z" fill="#000" fill-opacity="0.018"/><path d="M560.8,410.7 L560.2,398.1 L564.3,398.0 L578.0,393.4 L586.7,399.5 L592.6,404.6 L605.5,407.7 L619.7,409.7 L627.7,421.0 L624.8,436.4 L630.8,423.8 L636.5,423.3 L628.3,444.2 L627.5,468.5 L629.8,478.6 L587.9,481.3 L580.8,476.6 L578.3,461.6 L567.8,448.0 L561.8,441.2 L554.9,432.4 L554.7,420.9Z" fill="#000" fill-opacity="0.012"/><path d="M583.5,385.7 L582.9,373.1 L587.0,373.0 L600.7,368.4 L609.4,374.5 L615.3,379.6 L628.2,382.7 L642.4,384.7 L650.4,396.0 L647.5,411.4 L653.5,398.8 L659.2,398.3 L651.0,419.2 L650.2,443.5 L652.5,453.6 L610.6,456.3 L603.5,451.6 L601.0,436.6 L590.5,423.0 L584.5,416.2 L577.6,407.4 L577.4,395.9Z" fill="#000" fill-opacity="0.015"/><path d="M562.5,412.7 L561.9,400.1 L566.0,400.0 L579.7,395.4 L588.4,401.5 L594.3,406.6 L607.2,409.7 L621.4,411.7 L629.4,423.0 L626.5,438.4 L632.5,425.8 L638.2,425.3 L630.0,446.2 L629.2,470.5 L631.5,480.6 L589.6,483.3 L582.5,478.6 L580.0,463.6 L569.5,450.0 L563.5,443.2 L556.6,434.4 L556.4,422.9Z" fill="#000" fill-opacity="0.011"/><path d="M585.2,387.7 L584.6,375.1 L588.7,375.0 L602.4,370.4 L611.1,376.5 L617.0,381.6 L629.9,384.7 L644.1,386.7 L652.1,398.0 L649.2,413.4 L655.2,400.8 L660.9,400.3 L652.7,421.2 L651.9,445.5 L654.2,455.6 L612.3,458.3 L605.2,453.6 L602.7,438.6 L592.2,425.0 L586.2,418.2 L579.3,409.4 L579.1,397.9Z" fill="#000" fill-opacity="0.013"/><path d="M564.2,414.7 L563.6,402.1 L567.7,402.0 L581.4,397.4 L590.1,403.5 L596.0,408.6 L608.9,411.7 L623.1,413.7 L631.1,425.0 L628.2,440.4 L634.2,427.8 L639.9,427.3 L631.7,448.2 L630.9,472.5 L633.2,482.6 L591.3,485.3 L584.2,480.6 L581.7,465.6 L571.2,452.0 L565.2,445.2 L558.3,436.4 L558.1,424.9Z" fill="#000" fill-opacity="0.009"/><path d="M586.9,389.7 L586.3,377.1 L590.4,377.0 L604.1,372.4 L612.8,378.5 L618.7,383.6 L631.6,386.7 L645.8,388.7 L653.8,400.0 L650.9,415.4 L656.9,402.8 L662.6,402.3 L654.4,423.2 L653.6,447.5 L655.9,457.6 L614.0,460.3 L606.9,455.6 L604.4,440.6 L593.9,427.0 L587.9,420.2 L581.0,411.4 L580.8,399.9Z" fill="#000" fill-opacity="0.011"/><path d="M565.9,416.7 L565.3,404.1 L569.4,404.0 L583.1,399.4 L591.8,405.5 L597.7,410.6 L610.6,413.7 L624.8,415.7 L632.8,427.0 L629.9,442.4 L635.9,429.8 L641.6,429.3 L633.4,450.2 L632.6,474.5 L634.9,484.6 L593.0,487.3 L585.9,482.6 L583.4,467.6 L572.9,454.0 L566.9,447.2 L560.0,438.4 L559.8,426.9Z" fill="#000" fill-opacity="0.008"/><path d="M588.6,391.7 L588.0,379.1 L592.1,379.0 L605.8,374.4 L614.5,380.5 L620.4,385.6 L633.3,388.7 L647.5,390.7 L655.5,402.0 L652.6,417.4 L658.6,404.8 L664.3,404.3 L656.1,425.2 L655.3,449.5 L657.6,459.6 L615.7,462.3 L608.6,457.6 L606.1,442.6 L595.6,429.0 L589.6,422.2 L582.7,413.4 L582.5,401.9Z" fill="#000" fill-opacity="0.009"/><path d="M567.6,418.7 L567.0,406.1 L571.1,406.0 L584.8,401.4 L593.5,407.5 L599.4,412.6 L612.3,415.7 L626.5,417.7 L634.5,429.0 L631.6,444.4 L637.6,431.8 L643.3,431.3 L635.1,452.2 L634.3,476.5 L636.6,486.6 L594.7,489.3 L587.6,484.6 L585.1,469.6 L574.6,456.0 L568.6,449.2 L561.7,440.4 L561.5,428.9Z" fill="#000" fill-opacity="0.006"/><path d="M590.3,393.7 L589.7,381.1 L593.8,381.0 L607.5,376.4 L616.2,382.5 L622.1,387.6 L635.0,390.7 L649.2,392.7 L657.2,404.0 L654.3,419.4 L660.3,406.8 L666.0,406.3 L657.8,427.2 L657.0,451.5 L659.3,461.6 L617.4,464.3 L610.3,459.6 L607.8,444.6 L597.3,431.0 L591.3,424.2 L584.4,415.4 L584.2,403.9Z" fill="#000" fill-opacity="0.007"/><path d="M569.3,420.7 L568.7,408.1 L572.8,408.0 L586.5,403.4 L595.2,409.5 L601.1,414.6 L614.0,417.7 L628.2,419.7 L636.2,431.0 L633.3,446.4 L639.3,433.8 L645.0,433.3 L636.8,454.2 L636.0,478.5 L638.3,488.6 L596.4,491.3 L589.3,486.6 L586.8,471.6 L576.3,458.0 L570.3,451.2 L563.4,442.4 L563.2,430.9Z" fill="#000" fill-opacity="0.005"/><path d="M592.0,395.7 L591.4,383.1 L595.5,383.0 L609.2,378.4 L617.9,384.5 L623.8,389.6 L636.7,392.7 L650.9,394.7 L658.9,406.0 L656.0,421.4 L662.0,408.8 L667.7,408.3 L659.5,429.2 L658.7,453.5 L661.0,463.6 L619.1,466.3 L612.0,461.6 L609.5,446.6 L599.0,433.0 L593.0,426.2 L586.1,417.4 L585.9,405.9Z" fill="#000" fill-opacity="0.004"/><path d="M571.0,422.7 L570.4,410.1 L574.5,410.0 L588.2,405.4 L596.9,411.5 L602.8,416.6 L615.7,419.7 L629.9,421.7 L637.9,433.0 L635.0,448.4 L641.0,435.8 L646.7,435.3 L638.5,456.2 L637.7,480.5 L640.0,490.6 L598.1,493.3 L591.0,488.6 L588.5,473.6 L578.0,460.0 L572.0,453.2 L565.1,444.4 L564.9,432.9Z" fill="#000" fill-opacity="0.003"/><path d="M593.7,397.7 L593.1,385.1 L597.2,385.0 L610.9,380.4 L619.6,386.5 L625.5,391.6 L638.4,394.7 L652.6,396.7 L660.6,408.0 L657.7,423.4 L663.7,410.8 L669.4,410.3 L661.2,431.2 L660.4,455.5 L662.7,465.6 L620.8,468.3 L613.7,463.6 L611.2,448.6 L600.7,435.0 L594.7,428.2 L587.8,419.4 L587.6,407.9Z" fill="#000" fill-opacity="0.002"/><path d="M572.7,424.7 L572.1,412.1 L576.2,412.0 L589.9,407.4 L598.6,413.5 L604.5,418.6 L617.4,421.7 L631.6,423.7 L639.6,435.0 L636.7,450.4 L642.7,437.8 L648.4,437.3 L640.2,458.2 L639.4,482.5 L641.7,492.6 L599.8,495.3 L592.7,490.6 L590.2,475.6 L579.7,462.0 L573.7,455.2 L566.8,446.4 L566.6,434.9Z" fill="#000" fill-opacity="0.002"/><path d="M586.5,343.5 L589.7,340.0 L607.7,334.0 L616.7,323.5 L619.7,336.0 L636.7,341.0 L655.5,334.0 L665.7,338.0 L670.7,346.5 L665.7,349.5 L652.3,349.0 L634.7,354.5 L625.7,362.0 L618.7,353.0 L604.7,351.0 L591.7,348.0Z" fill="#000" fill-opacity="0.038"/><path d="M559.5,367.5 L562.7,364.0 L580.7,358.0 L589.7,347.5 L592.7,360.0 L609.7,365.0 L628.5,358.0 L638.7,362.0 L643.7,370.5 L638.7,373.5 L625.3,373.0 L607.7,378.5 L598.7,386.0 L591.7,377.0 L577.7,375.0 L564.7,372.0Z" fill="#000" fill-opacity="0.027"/><path d="M588.2,345.5 L591.4,342.0 L609.4,336.0 L618.4,325.5 L621.4,338.0 L638.4,343.0 L657.1,336.0 L667.4,340.0 L672.4,348.5 L667.4,351.5 L654.0,351.0 L636.4,356.5 L627.4,364.0 L620.4,355.0 L606.4,353.0 L593.4,350.0Z" fill="#000" fill-opacity="0.037"/><path d="M561.2,369.5 L564.4,366.0 L582.4,360.0 L591.4,349.5 L594.4,362.0 L611.4,367.0 L630.1,360.0 L640.4,364.0 L645.4,372.5 L640.4,375.5 L627.0,375.0 L609.4,380.5 L600.4,388.0 L593.4,379.0 L579.4,377.0 L566.4,374.0Z" fill="#000" fill-opacity="0.026"/><path d="M589.9,347.5 L593.1,344.0 L611.1,338.0 L620.1,327.5 L623.1,340.0 L640.1,345.0 L658.9,338.0 L669.1,342.0 L674.1,350.5 L669.1,353.5 L655.7,353.0 L638.1,358.5 L629.1,366.0 L622.1,357.0 L608.1,355.0 L595.1,352.0Z" fill="#000" fill-opacity="0.035"/><path d="M562.9,371.5 L566.1,368.0 L584.1,362.0 L593.1,351.5 L596.1,364.0 L613.1,369.0 L631.9,362.0 L642.1,366.0 L647.1,374.5 L642.1,377.5 L628.7,377.0 L611.1,382.5 L602.1,390.0 L595.1,381.0 L581.1,379.0 L568.1,376.0Z" fill="#000" fill-opacity="0.025"/><path d="M591.6,349.5 L594.8,346.0 L612.8,340.0 L621.8,329.5 L624.8,342.0 L641.8,347.0 L660.5,340.0 L670.8,344.0 L675.8,352.5 L670.8,355.5 L657.4,355.0 L639.8,360.5 L630.8,368.0 L623.8,359.0 L609.8,357.0 L596.8,354.0Z" fill="#000" fill-opacity="0.034"/><path d="M564.6,373.5 L567.8,370.0 L585.8,364.0 L594.8,353.5 L597.8,366.0 L614.8,371.0 L633.5,364.0 L643.8,368.0 L648.8,376.5 L643.8,379.5 L630.4,379.0 L612.8,384.5 L603.8,392.0 L596.8,383.0 L582.8,381.0 L569.8,378.0Z" fill="#000" fill-opacity="0.024"/><path d="M593.3,351.5 L596.5,348.0 L614.5,342.0 L623.5,331.5 L626.5,344.0 L643.5,349.0 L662.2,342.0 L672.5,346.0 L677.5,354.5 L672.5,357.5 L659.1,357.0 L641.5,362.5 L632.5,370.0 L625.5,361.0 L611.5,359.0 L598.5,356.0Z" fill="#000" fill-opacity="0.032"/><path d="M566.3,375.5 L569.5,372.0 L587.5,366.0 L596.5,355.5 L599.5,368.0 L616.5,373.0 L635.2,366.0 L645.5,370.0 L650.5,378.5 L645.5,381.5 L632.1,381.0 L614.5,386.5 L605.5,394.0 L598.5,385.0 L584.5,383.0 L571.5,380.0Z" fill="#000" fill-opacity="0.022"/><path d="M595.0,353.5 L598.2,350.0 L616.2,344.0 L625.2,333.5 L628.2,346.0 L645.2,351.0 L664.0,344.0 L674.2,348.0 L679.2,356.5 L674.2,359.5 L660.8,359.0 L643.2,364.5 L634.2,372.0 L627.2,363.0 L613.2,361.0 L600.2,358.0Z" fill="#000" fill-opacity="0.030"/><path d="M568.0,377.5 L571.2,374.0 L589.2,368.0 L598.2,357.5 L601.2,370.0 L618.2,375.0 L637.0,368.0 L647.2,372.0 L652.2,380.5 L647.2,383.5 L633.8,383.0 L616.2,388.5 L607.2,396.0 L600.2,387.0 L586.2,385.0 L573.2,382.0Z" fill="#000" fill-opacity="0.021"/><path d="M596.7,355.5 L599.9,352.0 L617.9,346.0 L626.9,335.5 L629.9,348.0 L646.9,353.0 L665.6,346.0 L675.9,350.0 L680.9,358.5 L675.9,361.5 L662.5,361.0 L644.9,366.5 L635.9,374.0 L628.9,365.0 L614.9,363.0 L601.9,360.0Z" fill="#000" fill-opacity="0.029"/><path d="M569.7,379.5 L572.9,376.0 L590.9,370.0 L599.9,359.5 L602.9,372.0 L619.9,377.0 L638.6,370.0 L648.9,374.0 L653.9,382.5 L648.9,385.5 L635.5,385.0 L617.9,390.5 L608.9,398.0 L601.9,389.0 L587.9,387.0 L574.9,384.0Z" fill="#000" fill-opacity="0.020"/><path d="M598.4,357.5 L601.6,354.0 L619.6,348.0 L628.6,337.5 L631.6,350.0 L648.6,355.0 L667.4,348.0 L677.6,352.0 L682.6,360.5 L677.6,363.5 L664.2,363.0 L646.6,368.5 L637.6,376.0 L630.6,367.0 L616.6,365.0 L603.6,362.0Z" fill="#000" fill-opacity="0.027"/><path d="M571.4,381.5 L574.6,378.0 L592.6,372.0 L601.6,361.5 L604.6,374.0 L621.6,379.0 L640.4,372.0 L650.6,376.0 L655.6,384.5 L650.6,387.5 L637.2,387.0 L619.6,392.5 L610.6,400.0 L603.6,391.0 L589.6,389.0 L576.6,386.0Z" fill="#000" fill-opacity="0.019"/><path d="M600.1,359.5 L603.3,356.0 L621.3,350.0 L630.3,339.5 L633.3,352.0 L650.3,357.0 L669.0,350.0 L679.3,354.0 L684.3,362.5 L679.3,365.5 L665.9,365.0 L648.3,370.5 L639.3,378.0 L632.3,369.0 L618.3,367.0 L605.3,364.0Z" fill="#000" fill-opacity="0.026"/><path d="M573.1,383.5 L576.3,380.0 L594.3,374.0 L603.3,363.5 L606.3,376.0 L623.3,381.0 L642.0,374.0 L652.3,378.0 L657.3,386.5 L652.3,389.5 L638.9,389.0 L621.3,394.5 L612.3,402.0 L605.3,393.0 L591.3,391.0 L578.3,388.0Z" fill="#000" fill-opacity="0.018"/><path d="M601.8,361.5 L605.0,358.0 L623.0,352.0 L632.0,341.5 L635.0,354.0 L652.0,359.0 L670.8,352.0 L681.0,356.0 L686.0,364.5 L681.0,367.5 L667.6,367.0 L650.0,372.5 L641.0,380.0 L634.0,371.0 L620.0,369.0 L607.0,366.0Z" fill="#000" fill-opacity="0.024"/><path d="M574.8,385.5 L578.0,382.0 L596.0,376.0 L605.0,365.5 L608.0,378.0 L625.0,383.0 L643.8,376.0 L654.0,380.0 L659.0,388.5 L654.0,391.5 L640.6,391.0 L623.0,396.5 L614.0,404.0 L607.0,395.0 L593.0,393.0 L580.0,390.0Z" fill="#000" fill-opacity="0.017"/><path d="M603.5,363.5 L606.7,360.0 L624.7,354.0 L633.7,343.5 L636.7,356.0 L653.7,361.0 L672.5,354.0 L682.7,358.0 L687.7,366.5 L682.7,369.5 L669.3,369.0 L651.7,374.5 L642.7,382.0 L635.7,373.0 L621.7,371.0 L608.7,368.0Z" fill="#000" fill-opacity="0.022"/><path d="M576.5,387.5 L579.7,384.0 L597.7,378.0 L606.7,367.5 L609.7,380.0 L626.7,385.0 L645.5,378.0 L655.7,382.0 L660.7,390.5 L655.7,393.5 L642.3,393.0 L624.7,398.5 L615.7,406.0 L608.7,397.0 L594.7,395.0 L581.7,392.0Z" fill="#000" fill-opacity="0.016"/><path d="M605.2,365.5 L608.4,362.0 L626.4,356.0 L635.4,345.5 L638.4,358.0 L655.4,363.0 L674.1,356.0 L684.4,360.0 L689.4,368.5 L684.4,371.5 L671.0,371.0 L653.4,376.5 L644.4,384.0 L637.4,375.0 L623.4,373.0 L610.4,370.0Z" fill="#000" fill-opacity="0.021"/><path d="M578.2,389.5 L581.4,386.0 L599.4,380.0 L608.4,369.5 L611.4,382.0 L628.4,387.0 L647.1,380.0 L657.4,384.0 L662.4,392.5 L657.4,395.5 L644.0,395.0 L626.4,400.5 L617.4,408.0 L610.4,399.0 L596.4,397.0 L583.4,394.0Z" fill="#000" fill-opacity="0.015"/><path d="M606.9,367.5 L610.1,364.0 L628.1,358.0 L637.1,347.5 L640.1,360.0 L657.1,365.0 L675.9,358.0 L686.1,362.0 L691.1,370.5 L686.1,373.5 L672.7,373.0 L655.1,378.5 L646.1,386.0 L639.1,377.0 L625.1,375.0 L612.1,372.0Z" fill="#000" fill-opacity="0.019"/><path d="M579.9,391.5 L583.1,388.0 L601.1,382.0 L610.1,371.5 L613.1,384.0 L630.1,389.0 L648.9,382.0 L659.1,386.0 L664.1,394.5 L659.1,397.5 L645.7,397.0 L628.1,402.5 L619.1,410.0 L612.1,401.0 L598.1,399.0 L585.1,396.0Z" fill="#000" fill-opacity="0.013"/><path d="M608.6,369.5 L611.8,366.0 L629.8,360.0 L638.8,349.5 L641.8,362.0 L658.8,367.0 L677.5,360.0 L687.8,364.0 L692.8,372.5 L687.8,375.5 L674.4,375.0 L656.8,380.5 L647.8,388.0 L640.8,379.0 L626.8,377.0 L613.8,374.0Z" fill="#000" fill-opacity="0.018"/><path d="M581.6,393.5 L584.8,390.0 L602.8,384.0 L611.8,373.5 L614.8,386.0 L631.8,391.0 L650.5,384.0 L660.8,388.0 L665.8,396.5 L660.8,399.5 L647.4,399.0 L629.8,404.5 L620.8,412.0 L613.8,403.0 L599.8,401.0 L586.8,398.0Z" fill="#000" fill-opacity="0.012"/><path d="M610.3,371.5 L613.5,368.0 L631.5,362.0 L640.5,351.5 L643.5,364.0 L660.5,369.0 L679.2,362.0 L689.5,366.0 L694.5,374.5 L689.5,377.5 L676.1,377.0 L658.5,382.5 L649.5,390.0 L642.5,381.0 L628.5,379.0 L615.5,376.0Z" fill="#000" fill-opacity="0.016"/><path d="M583.3,395.5 L586.5,392.0 L604.5,386.0 L613.5,375.5 L616.5,388.0 L633.5,393.0 L652.2,386.0 L662.5,390.0 L667.5,398.5 L662.5,401.5 L649.1,401.0 L631.5,406.5 L622.5,414.0 L615.5,405.0 L601.5,403.0 L588.5,400.0Z" fill="#000" fill-opacity="0.011"/><path d="M612.0,373.5 L615.2,370.0 L633.2,364.0 L642.2,353.5 L645.2,366.0 L662.2,371.0 L681.0,364.0 L691.2,368.0 L696.2,376.5 L691.2,379.5 L677.8,379.0 L660.2,384.5 L651.2,392.0 L644.2,383.0 L630.2,381.0 L617.2,378.0Z" fill="#000" fill-opacity="0.014"/><path d="M585.0,397.5 L588.2,394.0 L606.2,388.0 L615.2,377.5 L618.2,390.0 L635.2,395.0 L654.0,388.0 L664.2,392.0 L669.2,400.5 L664.2,403.5 L650.8,403.0 L633.2,408.5 L624.2,416.0 L617.2,407.0 L603.2,405.0 L590.2,402.0Z" fill="#000" fill-opacity="0.010"/><path d="M613.7,375.5 L616.9,372.0 L634.9,366.0 L643.9,355.5 L646.9,368.0 L663.9,373.0 L682.6,366.0 L692.9,370.0 L697.9,378.5 L692.9,381.5 L679.5,381.0 L661.9,386.5 L652.9,394.0 L645.9,385.0 L631.9,383.0 L618.9,380.0Z" fill="#000" fill-opacity="0.013"/><path d="M586.7,399.5 L589.9,396.0 L607.9,390.0 L616.9,379.5 L619.9,392.0 L636.9,397.0 L655.6,390.0 L665.9,394.0 L670.9,402.5 L665.9,405.5 L652.5,405.0 L634.9,410.5 L625.9,418.0 L618.9,409.0 L604.9,407.0 L591.9,404.0Z" fill="#000" fill-opacity="0.009"/><path d="M615.4,377.5 L618.6,374.0 L636.6,368.0 L645.6,357.5 L648.6,370.0 L665.6,375.0 L684.4,368.0 L694.6,372.0 L699.6,380.5 L694.6,383.5 L681.2,383.0 L663.6,388.5 L654.6,396.0 L647.6,387.0 L633.6,385.0 L620.6,382.0Z" fill="#000" fill-opacity="0.011"/><path d="M588.4,401.5 L591.6,398.0 L609.6,392.0 L618.6,381.5 L621.6,394.0 L638.6,399.0 L657.4,392.0 L667.6,396.0 L672.6,404.5 L667.6,407.5 L654.2,407.0 L636.6,412.5 L627.6,420.0 L620.6,411.0 L606.6,409.0 L593.6,406.0Z" fill="#000" fill-opacity="0.008"/><path d="M617.1,379.5 L620.3,376.0 L638.3,370.0 L647.3,359.5 L650.3,372.0 L667.3,377.0 L686.0,370.0 L696.3,374.0 L701.3,382.5 L696.3,385.5 L682.9,385.0 L665.3,390.5 L656.3,398.0 L649.3,389.0 L635.3,387.0 L622.3,384.0Z" fill="#000" fill-opacity="0.010"/><path d="M590.1,403.5 L593.3,400.0 L611.3,394.0 L620.3,383.5 L623.3,396.0 L640.3,401.0 L659.0,394.0 L669.3,398.0 L674.3,406.5 L669.3,409.5 L655.9,409.0 L638.3,414.5 L629.3,422.0 L622.3,413.0 L608.3,411.0 L595.3,408.0Z" fill="#000" fill-opacity="0.007"/><path d="M618.8,381.5 L622.0,378.0 L640.0,372.0 L649.0,361.5 L652.0,374.0 L669.0,379.0 L687.8,372.0 L698.0,376.0 L703.0,384.5 L698.0,387.5 L684.6,387.0 L667.0,392.5 L658.0,400.0 L651.0,391.0 L637.0,389.0 L624.0,386.0Z" fill="#000" fill-opacity="0.008"/><path d="M591.8,405.5 L595.0,402.0 L613.0,396.0 L622.0,385.5 L625.0,398.0 L642.0,403.0 L660.8,396.0 L671.0,400.0 L676.0,408.5 L671.0,411.5 L657.6,411.0 L640.0,416.5 L631.0,424.0 L624.0,415.0 L610.0,413.0 L597.0,410.0Z" fill="#000" fill-opacity="0.006"/><path d="M620.5,383.5 L623.7,380.0 L641.7,374.0 L650.7,363.5 L653.7,376.0 L670.7,381.0 L689.5,374.0 L699.7,378.0 L704.7,386.5 L699.7,389.5 L686.3,389.0 L668.7,394.5 L659.7,402.0 L652.7,393.0 L638.7,391.0 L625.7,388.0Z" fill="#000" fill-opacity="0.006"/><path d="M593.5,407.5 L596.7,404.0 L614.7,398.0 L623.7,387.5 L626.7,400.0 L643.7,405.0 L662.5,398.0 L672.7,402.0 L677.7,410.5 L672.7,413.5 L659.3,413.0 L641.7,418.5 L632.7,426.0 L625.7,417.0 L611.7,415.0 L598.7,412.0Z" fill="#000" fill-opacity="0.004"/><path d="M622.2,385.5 L625.4,382.0 L643.4,376.0 L652.4,365.5 L655.4,378.0 L672.4,383.0 L691.1,376.0 L701.4,380.0 L706.4,388.5 L701.4,391.5 L688.0,391.0 L670.4,396.5 L661.4,404.0 L654.4,395.0 L640.4,393.0 L627.4,390.0Z" fill="#000" fill-opacity="0.005"/><path d="M595.2,409.5 L598.4,406.0 L616.4,400.0 L625.4,389.5 L628.4,402.0 L645.4,407.0 L664.1,400.0 L674.4,404.0 L679.4,412.5 L674.4,415.5 L661.0,415.0 L643.4,420.5 L634.4,428.0 L627.4,419.0 L613.4,417.0 L600.4,414.0Z" fill="#000" fill-opacity="0.003"/><path d="M623.9,387.5 L627.1,384.0 L645.1,378.0 L654.1,367.5 L657.1,380.0 L674.1,385.0 L692.9,378.0 L703.1,382.0 L708.1,390.5 L703.1,393.5 L689.7,393.0 L672.1,398.5 L663.1,406.0 L656.1,397.0 L642.1,395.0 L629.1,392.0Z" fill="#000" fill-opacity="0.003"/><path d="M596.9,411.5 L600.1,408.0 L618.1,402.0 L627.1,391.5 L630.1,404.0 L647.1,409.0 L665.9,402.0 L676.1,406.0 L681.1,414.5 L676.1,417.5 L662.7,417.0 L645.1,422.5 L636.1,430.0 L629.1,421.0 L615.1,419.0 L602.1,416.0Z" fill="#000" fill-opacity="0.002"/><path d="M625.6,389.5 L628.8,386.0 L646.8,380.0 L655.8,369.5 L658.8,382.0 L675.8,387.0 L694.5,380.0 L704.8,384.0 L709.8,392.5 L704.8,395.5 L691.4,395.0 L673.8,400.5 L664.8,408.0 L657.8,399.0 L643.8,397.0 L630.8,394.0Z" fill="#000" fill-opacity="0.002"/><path d="M598.6,413.5 L601.8,410.0 L619.8,404.0 L628.8,393.5 L631.8,406.0 L648.8,411.0 L667.5,404.0 L677.8,408.0 L682.8,416.5 L677.8,419.5 L664.4,419.0 L646.8,424.5 L637.8,432.0 L630.8,423.0 L616.8,421.0 L603.8,418.0Z" fill="#000" fill-opacity="0.001"/><path d="M646.0,436.3 L675.8,434.4 L695.9,431.3 L700.4,425.2 L707.5,412.0 L707.8,403.8 L704.7,392.0 L697.7,383.9 L692.2,386.6 L684.5,394.7 L688.7,382.0 L689.4,365.7 L678.2,357.0 L667.7,352.2 L659.2,365.3 L657.2,373.6 L648.5,372.5 L646.0,390.9 L652.8,414.5 L651.1,426.8Z" fill="#000" fill-opacity="0.077"/><path d="M619.0,460.3 L648.8,458.4 L668.9,455.3 L673.4,449.2 L680.5,436.0 L680.8,427.8 L677.7,416.0 L670.7,407.9 L665.2,410.6 L657.5,418.7 L661.7,406.0 L662.4,389.7 L651.2,381.0 L640.7,376.2 L632.2,389.3 L630.2,397.6 L621.5,396.5 L619.0,414.9 L625.8,438.5 L624.1,450.8Z" fill="#000" fill-opacity="0.054"/><path d="M648.0,438.6 L677.7,436.7 L697.9,433.6 L702.3,427.5 L709.5,414.3 L709.8,406.1 L706.6,394.3 L699.6,386.2 L694.1,388.9 L686.4,397.0 L690.6,384.3 L691.3,368.0 L680.2,359.3 L669.6,354.5 L661.2,367.6 L659.2,375.9 L650.5,374.8 L648.0,393.2 L654.8,416.8 L653.1,429.1Z" fill="#000" fill-opacity="0.074"/><path d="M621.0,462.6 L650.7,460.7 L670.9,457.6 L675.3,451.5 L682.5,438.3 L682.8,430.1 L679.6,418.3 L672.6,410.2 L667.1,412.9 L659.4,421.0 L663.6,408.3 L664.3,392.0 L653.2,383.3 L642.6,378.5 L634.2,391.6 L632.2,399.9 L623.5,398.8 L621.0,417.2 L627.8,440.8 L626.1,453.1Z" fill="#000" fill-opacity="0.052"/><path d="M650.0,440.9 L679.7,439.0 L699.8,435.9 L704.3,429.8 L711.4,416.6 L711.7,408.4 L708.6,396.6 L701.6,388.5 L696.1,391.2 L688.4,399.3 L692.6,386.6 L693.3,370.3 L682.1,361.6 L671.6,356.8 L663.1,369.9 L661.2,378.2 L652.4,377.1 L649.9,395.5 L656.7,419.1 L655.0,431.4Z" fill="#000" fill-opacity="0.070"/><path d="M623.0,464.9 L652.7,463.0 L672.8,459.9 L677.3,453.8 L684.4,440.6 L684.7,432.4 L681.6,420.6 L674.6,412.5 L669.1,415.2 L661.4,423.3 L665.6,410.6 L666.3,394.3 L655.1,385.6 L644.6,380.8 L636.1,393.9 L634.2,402.2 L625.4,401.1 L622.9,419.5 L629.7,443.1 L628.0,455.4Z" fill="#000" fill-opacity="0.049"/><path d="M651.9,443.2 L681.6,441.3 L701.8,438.2 L706.2,432.1 L713.4,418.9 L713.7,410.7 L710.5,398.9 L703.5,390.8 L698.0,393.5 L690.3,401.6 L694.5,388.9 L695.2,372.6 L684.1,363.9 L673.5,359.1 L665.1,372.2 L663.1,380.5 L654.4,379.4 L651.9,397.8 L658.7,421.4 L657.0,433.7Z" fill="#000" fill-opacity="0.067"/><path d="M624.9,467.2 L654.6,465.3 L674.8,462.2 L679.2,456.1 L686.4,442.9 L686.7,434.7 L683.5,422.9 L676.5,414.8 L671.0,417.5 L663.3,425.6 L667.5,412.9 L668.2,396.6 L657.1,387.9 L646.5,383.1 L638.1,396.2 L636.1,404.5 L627.4,403.4 L624.9,421.8 L631.7,445.4 L630.0,457.7Z" fill="#000" fill-opacity="0.047"/><path d="M653.9,445.5 L683.6,443.6 L703.7,440.5 L708.2,434.4 L715.3,421.2 L715.6,413.0 L712.5,401.2 L705.5,393.1 L700.0,395.8 L692.3,403.9 L696.5,391.2 L697.2,374.9 L686.0,366.2 L675.5,361.4 L667.0,374.5 L665.1,382.8 L656.3,381.7 L653.9,400.1 L660.6,423.7 L658.9,436.0Z" fill="#000" fill-opacity="0.064"/><path d="M626.9,469.5 L656.6,467.6 L676.7,464.5 L681.2,458.4 L688.3,445.2 L688.6,437.0 L685.5,425.2 L678.5,417.1 L673.0,419.8 L665.3,427.9 L669.5,415.2 L670.2,398.9 L659.0,390.2 L648.5,385.4 L640.0,398.5 L638.1,406.8 L629.3,405.7 L626.9,424.1 L633.6,447.7 L631.9,460.0Z" fill="#000" fill-opacity="0.045"/><path d="M655.8,447.8 L685.6,445.9 L705.7,442.8 L710.1,436.7 L717.3,423.5 L717.6,415.3 L714.4,403.5 L707.4,395.4 L702.0,398.1 L694.2,406.2 L698.4,393.5 L699.2,377.2 L688.0,368.5 L677.4,363.7 L669.0,376.8 L667.0,385.1 L658.3,384.0 L655.8,402.4 L662.6,426.0 L660.9,438.3Z" fill="#000" fill-opacity="0.061"/><path d="M628.8,471.8 L658.6,469.9 L678.7,466.8 L683.1,460.7 L690.3,447.5 L690.6,439.3 L687.4,427.5 L680.4,419.4 L675.0,422.1 L667.2,430.2 L671.4,417.5 L672.2,401.2 L661.0,392.5 L650.4,387.7 L642.0,400.8 L640.0,409.1 L631.3,408.0 L628.8,426.4 L635.6,450.0 L633.9,462.3Z" fill="#000" fill-opacity="0.043"/><path d="M657.8,450.1 L687.5,448.2 L707.6,445.1 L712.1,439.0 L719.2,425.8 L719.6,417.6 L716.4,405.8 L709.4,397.7 L703.9,400.4 L696.2,408.5 L700.4,395.8 L701.1,379.5 L689.9,370.8 L679.4,366.0 L670.9,379.1 L669.0,387.4 L660.2,386.3 L657.8,404.7 L664.6,428.3 L662.8,440.6Z" fill="#000" fill-opacity="0.058"/><path d="M630.8,474.1 L660.5,472.2 L680.6,469.1 L685.1,463.0 L692.2,449.8 L692.6,441.6 L689.4,429.8 L682.4,421.7 L676.9,424.4 L669.2,432.5 L673.4,419.8 L674.1,403.5 L662.9,394.8 L652.4,390.0 L643.9,403.1 L642.0,411.4 L633.2,410.3 L630.8,428.7 L637.6,452.3 L635.8,464.6Z" fill="#000" fill-opacity="0.040"/><path d="M659.7,452.4 L689.5,450.5 L709.6,447.4 L714.0,441.3 L721.2,428.1 L721.5,419.9 L718.3,408.1 L711.3,400.0 L705.9,402.7 L698.1,410.8 L702.3,398.1 L703.1,381.8 L691.9,373.1 L681.4,368.3 L672.9,381.4 L670.9,389.7 L662.2,388.6 L659.7,407.0 L666.5,430.6 L664.8,442.9Z" fill="#000" fill-opacity="0.054"/><path d="M632.7,476.4 L662.5,474.5 L682.6,471.4 L687.0,465.3 L694.2,452.1 L694.5,443.9 L691.3,432.1 L684.3,424.0 L678.9,426.7 L671.1,434.8 L675.3,422.1 L676.1,405.8 L664.9,397.1 L654.4,392.3 L645.9,405.4 L643.9,413.7 L635.2,412.6 L632.7,431.0 L639.5,454.6 L637.8,466.9Z" fill="#000" fill-opacity="0.038"/><path d="M661.7,454.7 L691.4,452.8 L711.5,449.7 L716.0,443.6 L723.1,430.4 L723.5,422.2 L720.3,410.4 L713.3,402.3 L707.8,405.0 L700.1,413.1 L704.3,400.4 L705.0,384.1 L693.9,375.4 L683.3,370.6 L674.8,383.7 L672.9,392.0 L664.1,390.9 L661.7,409.3 L668.5,432.9 L666.7,445.2Z" fill="#000" fill-opacity="0.051"/><path d="M634.7,478.7 L664.4,476.8 L684.5,473.7 L689.0,467.6 L696.1,454.4 L696.5,446.2 L693.3,434.4 L686.3,426.3 L680.8,429.0 L673.1,437.1 L677.3,424.4 L678.0,408.1 L666.9,399.4 L656.3,394.6 L647.8,407.7 L645.9,416.0 L637.1,414.9 L634.7,433.3 L641.5,456.9 L639.7,469.2Z" fill="#000" fill-opacity="0.036"/><path d="M663.6,457.0 L693.4,455.1 L713.5,452.0 L718.0,445.9 L725.1,432.7 L725.4,424.5 L722.3,412.7 L715.2,404.6 L709.8,407.3 L702.0,415.4 L706.2,402.7 L707.0,386.4 L695.8,377.7 L685.3,372.9 L676.8,386.0 L674.8,394.3 L666.1,393.2 L663.6,411.6 L670.4,435.2 L668.7,447.5Z" fill="#000" fill-opacity="0.048"/><path d="M636.6,481.0 L666.4,479.1 L686.5,476.0 L691.0,469.9 L698.1,456.7 L698.4,448.5 L695.3,436.7 L688.2,428.6 L682.8,431.3 L675.0,439.4 L679.2,426.7 L680.0,410.4 L668.8,401.7 L658.3,396.9 L649.8,410.0 L647.8,418.3 L639.1,417.2 L636.6,435.6 L643.4,459.2 L641.7,471.5Z" fill="#000" fill-opacity="0.034"/><path d="M665.6,459.3 L695.3,457.4 L715.5,454.3 L719.9,448.2 L727.1,435.0 L727.4,426.8 L724.2,415.0 L717.2,406.9 L711.7,409.6 L704.0,417.7 L708.2,405.0 L708.9,388.7 L697.8,380.0 L687.2,375.2 L678.7,388.3 L676.8,396.6 L668.1,395.5 L665.6,413.9 L672.4,437.5 L670.7,449.8Z" fill="#000" fill-opacity="0.045"/><path d="M638.6,483.3 L668.3,481.4 L688.5,478.3 L692.9,472.2 L700.1,459.0 L700.4,450.8 L697.2,439.0 L690.2,430.9 L684.7,433.6 L677.0,441.7 L681.2,429.0 L681.9,412.7 L670.8,404.0 L660.2,399.2 L651.7,412.3 L649.8,420.6 L641.1,419.5 L638.6,437.9 L645.4,461.5 L643.7,473.8Z" fill="#000" fill-opacity="0.031"/><path d="M667.5,461.6 L697.3,459.7 L717.4,456.6 L721.9,450.5 L729.0,437.3 L729.3,429.1 L726.2,417.3 L719.2,409.2 L713.7,411.9 L706.0,420.0 L710.2,407.3 L710.9,391.0 L699.7,382.3 L689.2,377.5 L680.7,390.6 L678.7,398.9 L670.0,397.8 L667.5,416.2 L674.3,439.8 L672.6,452.1Z" fill="#000" fill-opacity="0.042"/><path d="M640.5,485.6 L670.3,483.7 L690.4,480.6 L694.9,474.5 L702.0,461.3 L702.3,453.1 L699.2,441.3 L692.2,433.2 L686.7,435.9 L679.0,444.0 L683.2,431.3 L683.9,415.0 L672.7,406.3 L662.2,401.5 L653.7,414.6 L651.7,422.9 L643.0,421.8 L640.5,440.2 L647.3,463.8 L645.6,476.1Z" fill="#000" fill-opacity="0.029"/><path d="M669.5,463.9 L699.2,462.0 L719.4,458.9 L723.8,452.8 L731.0,439.6 L731.3,431.4 L728.1,419.6 L721.1,411.5 L715.6,414.2 L707.9,422.3 L712.1,409.6 L712.8,393.3 L701.7,384.6 L691.1,379.8 L682.7,392.9 L680.7,401.2 L672.0,400.1 L669.5,418.5 L676.3,442.1 L674.6,454.4Z" fill="#000" fill-opacity="0.038"/><path d="M642.5,487.9 L672.2,486.0 L692.4,482.9 L696.8,476.8 L704.0,463.6 L704.3,455.4 L701.1,443.6 L694.1,435.5 L688.6,438.2 L680.9,446.3 L685.1,433.6 L685.8,417.3 L674.7,408.6 L664.1,403.8 L655.7,416.9 L653.7,425.2 L645.0,424.1 L642.5,442.5 L649.3,466.1 L647.6,478.4Z" fill="#000" fill-opacity="0.027"/><path d="M671.5,466.2 L701.2,464.3 L721.3,461.2 L725.8,455.1 L732.9,441.9 L733.2,433.7 L730.1,421.9 L723.1,413.8 L717.6,416.5 L709.9,424.6 L714.1,411.9 L714.8,395.6 L703.6,386.9 L693.1,382.1 L684.6,395.2 L682.7,403.5 L673.9,402.4 L671.4,420.8 L678.2,444.4 L676.5,456.7Z" fill="#000" fill-opacity="0.035"/><path d="M644.5,490.2 L674.2,488.3 L694.3,485.2 L698.8,479.1 L705.9,465.9 L706.2,457.7 L703.1,445.9 L696.1,437.8 L690.6,440.5 L682.9,448.6 L687.1,435.9 L687.8,419.6 L676.6,410.9 L666.1,406.1 L657.6,419.2 L655.7,427.5 L646.9,426.4 L644.4,444.8 L651.2,468.4 L649.5,480.7Z" fill="#000" fill-opacity="0.025"/><path d="M673.4,468.5 L703.2,466.6 L723.3,463.5 L727.7,457.4 L734.9,444.2 L735.2,436.0 L732.0,424.2 L725.0,416.1 L719.6,418.8 L711.8,426.9 L716.0,414.2 L716.7,397.9 L705.6,389.2 L695.0,384.4 L686.6,397.5 L684.6,405.8 L675.9,404.7 L673.4,423.1 L680.2,446.7 L678.5,459.0Z" fill="#000" fill-opacity="0.032"/><path d="M646.4,492.5 L676.2,490.6 L696.3,487.5 L700.7,481.4 L707.9,468.2 L708.2,460.0 L705.0,448.2 L698.0,440.1 L692.6,442.8 L684.8,450.9 L689.0,438.2 L689.7,421.9 L678.6,413.2 L668.0,408.4 L659.6,421.5 L657.6,429.8 L648.9,428.7 L646.4,447.1 L653.2,470.7 L651.5,483.0Z" fill="#000" fill-opacity="0.022"/><path d="M675.4,470.8 L705.1,468.9 L725.2,465.8 L729.7,459.7 L736.8,446.5 L737.1,438.3 L734.0,426.5 L727.0,418.4 L721.5,421.1 L713.8,429.2 L718.0,416.5 L718.7,400.2 L707.5,391.5 L697.0,386.7 L688.5,399.8 L686.6,408.1 L677.8,407.0 L675.4,425.4 L682.2,449.0 L680.4,461.3Z" fill="#000" fill-opacity="0.029"/><path d="M648.4,494.8 L678.1,492.9 L698.2,489.8 L702.7,483.7 L709.8,470.5 L710.1,462.3 L707.0,450.5 L700.0,442.4 L694.5,445.1 L686.8,453.2 L691.0,440.5 L691.7,424.2 L680.5,415.5 L670.0,410.7 L661.5,423.8 L659.6,432.1 L650.8,431.0 L648.4,449.4 L655.2,473.0 L653.4,485.3Z" fill="#000" fill-opacity="0.020"/><path d="M677.3,473.1 L707.1,471.2 L727.2,468.1 L731.6,462.0 L738.8,448.8 L739.1,440.6 L735.9,428.8 L728.9,420.7 L723.5,423.4 L715.7,431.5 L719.9,418.8 L720.7,402.5 L709.5,393.8 L699.0,389.0 L690.5,402.1 L688.5,410.4 L679.8,409.3 L677.3,427.7 L684.1,451.3 L682.4,463.6Z" fill="#000" fill-opacity="0.026"/><path d="M650.3,497.1 L680.1,495.2 L700.2,492.1 L704.6,486.0 L711.8,472.8 L712.1,464.6 L708.9,452.8 L701.9,444.7 L696.5,447.4 L688.7,455.5 L692.9,442.8 L693.7,426.5 L682.5,417.8 L672.0,413.0 L663.5,426.1 L661.5,434.4 L652.8,433.3 L650.3,451.7 L657.1,475.3 L655.4,487.6Z" fill="#000" fill-opacity="0.018"/><path d="M679.3,475.4 L709.0,473.5 L729.1,470.4 L733.6,464.3 L740.7,451.1 L741.1,442.9 L737.9,431.1 L730.9,423.0 L725.4,425.7 L717.7,433.8 L721.9,421.1 L722.6,404.8 L711.5,396.1 L700.9,391.3 L692.4,404.4 L690.5,412.7 L681.7,411.6 L679.3,430.0 L686.1,453.6 L684.3,465.9Z" fill="#000" fill-opacity="0.022"/><path d="M652.3,499.4 L682.0,497.5 L702.1,494.4 L706.6,488.3 L713.7,475.1 L714.1,466.9 L710.9,455.1 L703.9,447.0 L698.4,449.7 L690.7,457.8 L694.9,445.1 L695.6,428.8 L684.5,420.1 L673.9,415.3 L665.4,428.4 L663.5,436.7 L654.7,435.6 L652.3,454.0 L659.1,477.6 L657.3,489.9Z" fill="#000" fill-opacity="0.016"/><path d="M681.2,477.7 L711.0,475.8 L731.1,472.7 L735.5,466.6 L742.7,453.4 L743.0,445.2 L739.9,433.4 L732.8,425.3 L727.4,428.0 L719.6,436.1 L723.8,423.4 L724.6,407.1 L713.4,398.4 L702.9,393.6 L694.4,406.7 L692.4,415.0 L683.7,413.9 L681.2,432.3 L688.0,455.9 L686.3,468.2Z" fill="#000" fill-opacity="0.019"/><path d="M654.2,501.7 L684.0,499.8 L704.1,496.7 L708.5,490.6 L715.7,477.4 L716.0,469.2 L712.9,457.4 L705.8,449.3 L700.4,452.0 L692.6,460.1 L696.8,447.4 L697.6,431.1 L686.4,422.4 L675.9,417.6 L667.4,430.7 L665.4,439.0 L656.7,437.9 L654.2,456.3 L661.0,479.9 L659.3,492.2Z" fill="#000" fill-opacity="0.013"/><path d="M683.2,480.0 L712.9,478.1 L733.0,475.0 L737.5,468.9 L744.7,455.7 L745.0,447.5 L741.8,435.7 L734.8,427.6 L729.3,430.3 L721.6,438.4 L725.8,425.7 L726.5,409.4 L715.4,400.7 L704.8,395.9 L696.3,409.0 L694.4,417.3 L685.6,416.2 L683.2,434.6 L690.0,458.2 L688.3,470.5Z" fill="#000" fill-opacity="0.016"/><path d="M656.2,504.0 L685.9,502.1 L706.0,499.0 L710.5,492.9 L717.7,479.7 L718.0,471.5 L714.8,459.7 L707.8,451.6 L702.3,454.3 L694.6,462.4 L698.8,449.7 L699.5,433.4 L688.4,424.7 L677.8,419.9 L669.3,433.0 L667.4,441.3 L658.6,440.2 L656.2,458.6 L663.0,482.2 L661.3,494.5Z" fill="#000" fill-opacity="0.011"/><path d="M685.1,482.3 L714.9,480.4 L735.0,477.3 L739.5,471.2 L746.6,458.0 L746.9,449.8 L743.8,438.0 L736.8,429.9 L731.3,432.6 L723.6,440.7 L727.8,428.0 L728.5,411.7 L717.3,403.0 L706.8,398.2 L698.3,411.3 L696.3,419.6 L687.6,418.5 L685.1,436.9 L691.9,460.5 L690.2,472.8Z" fill="#000" fill-opacity="0.013"/><path d="M658.1,506.3 L687.9,504.4 L708.0,501.3 L712.5,495.2 L719.6,482.0 L719.9,473.8 L716.8,462.0 L709.8,453.9 L704.3,456.6 L696.6,464.7 L700.8,452.0 L701.5,435.7 L690.3,427.0 L679.8,422.2 L671.3,435.3 L669.3,443.6 L660.6,442.5 L658.1,460.9 L664.9,484.5 L663.2,496.8Z" fill="#000" fill-opacity="0.009"/><path d="M687.1,484.6 L716.8,482.7 L737.0,479.6 L741.4,473.5 L748.6,460.3 L748.9,452.1 L745.7,440.3 L738.7,432.2 L733.2,434.9 L725.5,443.0 L729.7,430.3 L730.4,414.0 L719.3,405.3 L708.7,400.5 L700.3,413.6 L698.3,421.9 L689.6,420.8 L687.1,439.2 L693.9,462.8 L692.2,475.1Z" fill="#000" fill-opacity="0.010"/><path d="M660.1,508.6 L689.8,506.7 L710.0,503.6 L714.4,497.5 L721.6,484.3 L721.9,476.1 L718.7,464.3 L711.7,456.2 L706.2,458.9 L698.5,467.0 L702.7,454.3 L703.4,438.0 L692.3,429.3 L681.7,424.5 L673.3,437.6 L671.3,445.9 L662.6,444.8 L660.1,463.2 L666.9,486.8 L665.2,499.1Z" fill="#000" fill-opacity="0.007"/><path d="M689.1,486.9 L718.8,485.0 L738.9,481.9 L743.4,475.8 L750.5,462.6 L750.8,454.4 L747.7,442.6 L740.7,434.5 L735.2,437.2 L727.5,445.3 L731.7,432.6 L732.4,416.3 L721.2,407.6 L710.7,402.8 L702.2,415.9 L700.3,424.2 L691.5,423.1 L689.0,441.5 L695.8,465.1 L694.1,477.4Z" fill="#000" fill-opacity="0.006"/><path d="M662.1,510.9 L691.8,509.0 L711.9,505.9 L716.4,499.8 L723.5,486.6 L723.8,478.4 L720.7,466.6 L713.7,458.5 L708.2,461.2 L700.5,469.3 L704.7,456.6 L705.4,440.3 L694.2,431.6 L683.7,426.8 L675.2,439.9 L673.3,448.2 L664.5,447.1 L662.0,465.5 L668.8,489.1 L667.1,501.4Z" fill="#000" fill-opacity="0.004"/><path d="M691.0,489.2 L720.7,487.3 L740.9,484.2 L745.3,478.1 L752.5,464.9 L752.8,456.7 L749.6,444.9 L742.6,436.8 L737.1,439.5 L729.4,447.6 L733.6,434.9 L734.3,418.6 L723.2,409.9 L712.6,405.1 L704.2,418.2 L702.2,426.5 L693.5,425.4 L691.0,443.8 L697.8,467.4 L696.1,479.7Z" fill="#000" fill-opacity="0.003"/><path d="M664.0,513.2 L693.7,511.3 L713.9,508.2 L718.3,502.1 L725.5,488.9 L725.8,480.7 L722.6,468.9 L715.6,460.8 L710.1,463.5 L702.4,471.6 L706.6,458.9 L707.3,442.6 L696.2,433.9 L685.6,429.1 L677.2,442.2 L675.2,450.5 L666.5,449.4 L664.0,467.8 L670.8,491.4 L669.1,503.7Z" fill="#000" fill-opacity="0.002"/><path d="M739.8,416.1 L750.1,408.9 L751.0,414.2 L815.4,401.8 L820.0,404.9 L828.0,412.3 L823.2,421.2 L827.7,432.2 L833.3,436.2 L828.2,441.4 L824.3,445.4 L822.7,444.9 L818.8,448.2 L747.3,461.6Z" fill="#000" fill-opacity="0.067"/><path d="M711.8,444.1 L722.1,436.9 L723.0,442.2 L787.4,429.8 L792.0,432.9 L800.0,440.3 L795.2,449.2 L799.7,460.2 L805.3,464.2 L800.2,469.4 L796.3,473.4 L794.7,472.9 L790.8,476.2 L719.3,489.6Z" fill="#000" fill-opacity="0.047"/><path d="M742.2,418.9 L752.4,411.7 L753.4,417.0 L817.7,404.6 L822.4,407.7 L830.4,415.1 L825.6,424.0 L830.1,435.0 L835.7,439.0 L830.6,444.2 L826.7,448.2 L825.1,447.7 L821.2,451.0 L749.7,464.4Z" fill="#000" fill-opacity="0.064"/><path d="M714.2,446.9 L724.4,439.7 L725.4,445.0 L789.7,432.6 L794.4,435.7 L802.4,443.1 L797.6,452.0 L802.1,463.0 L807.7,467.0 L802.6,472.2 L798.7,476.2 L797.1,475.7 L793.2,479.0 L721.7,492.4Z" fill="#000" fill-opacity="0.045"/><path d="M744.6,421.7 L754.8,414.5 L755.8,419.8 L820.1,407.4 L824.8,410.5 L832.7,417.9 L828.0,426.8 L832.4,437.8 L838.0,441.8 L832.9,447.0 L829.1,451.0 L827.4,450.5 L823.6,453.8 L752.0,467.2Z" fill="#000" fill-opacity="0.062"/><path d="M716.6,449.7 L726.8,442.5 L727.8,447.8 L792.1,435.4 L796.8,438.5 L804.7,445.9 L800.0,454.8 L804.4,465.8 L810.0,469.8 L804.9,475.0 L801.1,479.0 L799.4,478.5 L795.6,481.8 L724.0,495.2Z" fill="#000" fill-opacity="0.043"/><path d="M747.0,424.5 L757.2,417.3 L758.1,422.6 L822.5,410.2 L827.2,413.3 L835.1,420.7 L830.3,429.6 L834.8,440.6 L840.4,444.6 L835.3,449.8 L831.5,453.8 L829.8,453.3 L826.0,456.6 L754.4,470.0Z" fill="#000" fill-opacity="0.059"/><path d="M719.0,452.5 L729.2,445.3 L730.1,450.6 L794.5,438.2 L799.2,441.3 L807.1,448.7 L802.3,457.6 L806.8,468.6 L812.4,472.6 L807.3,477.8 L803.5,481.8 L801.8,481.3 L798.0,484.6 L726.4,498.0Z" fill="#000" fill-opacity="0.041"/><path d="M749.3,427.3 L759.6,420.1 L760.5,425.4 L824.9,413.0 L829.5,416.1 L837.5,423.5 L832.7,432.4 L837.2,443.4 L842.8,447.4 L837.7,452.6 L833.9,456.6 L832.2,456.1 L828.3,459.4 L756.8,472.8Z" fill="#000" fill-opacity="0.056"/><path d="M721.3,455.3 L731.6,448.1 L732.5,453.4 L796.9,441.0 L801.5,444.1 L809.5,451.5 L804.7,460.4 L809.2,471.4 L814.8,475.4 L809.7,480.6 L805.9,484.6 L804.2,484.1 L800.3,487.4 L728.8,500.8Z" fill="#000" fill-opacity="0.039"/><path d="M751.7,430.1 L762.0,422.9 L762.9,428.2 L827.3,415.8 L831.9,418.9 L839.9,426.3 L835.1,435.2 L839.6,446.2 L845.2,450.2 L840.1,455.4 L836.2,459.4 L834.6,458.9 L830.7,462.2 L759.2,475.6Z" fill="#000" fill-opacity="0.053"/><path d="M723.7,458.1 L734.0,450.9 L734.9,456.2 L799.3,443.8 L803.9,446.9 L811.9,454.3 L807.1,463.2 L811.6,474.2 L817.2,478.2 L812.1,483.4 L808.2,487.4 L806.6,486.9 L802.7,490.2 L731.2,503.6Z" fill="#000" fill-opacity="0.037"/><path d="M754.1,432.9 L764.3,425.7 L765.3,431.0 L829.6,418.6 L834.3,421.7 L842.3,429.1 L837.5,438.0 L842.0,449.0 L847.6,453.0 L842.5,458.2 L838.6,462.2 L837.0,461.7 L833.1,465.0 L761.6,478.4Z" fill="#000" fill-opacity="0.050"/><path d="M726.1,460.9 L736.3,453.7 L737.3,459.0 L801.6,446.6 L806.3,449.7 L814.3,457.1 L809.5,466.0 L814.0,477.0 L819.6,481.0 L814.5,486.2 L810.6,490.2 L809.0,489.7 L805.1,493.0 L733.6,506.4Z" fill="#000" fill-opacity="0.035"/><path d="M756.5,435.7 L766.7,428.5 L767.7,433.8 L832.0,421.4 L836.7,424.5 L844.6,431.9 L839.9,440.8 L844.3,451.8 L849.9,455.8 L844.8,461.0 L841.0,465.0 L839.3,464.5 L835.5,467.8 L763.9,481.2Z" fill="#000" fill-opacity="0.048"/><path d="M728.5,463.7 L738.7,456.5 L739.7,461.8 L804.0,449.4 L808.7,452.5 L816.6,459.9 L811.9,468.8 L816.3,479.8 L821.9,483.8 L816.8,489.0 L813.0,493.0 L811.3,492.5 L807.5,495.8 L735.9,509.2Z" fill="#000" fill-opacity="0.033"/><path d="M758.9,438.5 L769.1,431.3 L770.0,436.6 L834.4,424.2 L839.1,427.3 L847.0,434.7 L842.2,443.6 L846.7,454.6 L852.3,458.6 L847.2,463.8 L843.4,467.8 L841.7,467.3 L837.9,470.6 L766.3,484.0Z" fill="#000" fill-opacity="0.045"/><path d="M730.9,466.5 L741.1,459.3 L742.0,464.6 L806.4,452.2 L811.1,455.3 L819.0,462.7 L814.2,471.6 L818.7,482.6 L824.3,486.6 L819.2,491.8 L815.4,495.8 L813.7,495.3 L809.9,498.6 L738.3,512.0Z" fill="#000" fill-opacity="0.031"/><path d="M761.2,441.3 L771.5,434.1 L772.4,439.4 L836.8,427.0 L841.4,430.1 L849.4,437.5 L844.6,446.4 L849.1,457.4 L854.7,461.4 L849.6,466.6 L845.8,470.6 L844.1,470.1 L840.2,473.4 L768.7,486.8Z" fill="#000" fill-opacity="0.042"/><path d="M733.2,469.3 L743.5,462.1 L744.4,467.4 L808.8,455.0 L813.4,458.1 L821.4,465.5 L816.6,474.4 L821.1,485.4 L826.7,489.4 L821.6,494.6 L817.8,498.6 L816.1,498.1 L812.2,501.4 L740.7,514.8Z" fill="#000" fill-opacity="0.029"/><path d="M763.6,444.1 L773.9,436.9 L774.8,442.2 L839.2,429.8 L843.8,432.9 L851.8,440.3 L847.0,449.2 L851.5,460.2 L857.1,464.2 L852.0,469.4 L848.1,473.4 L846.5,472.9 L842.6,476.2 L771.1,489.6Z" fill="#000" fill-opacity="0.039"/><path d="M735.6,472.1 L745.9,464.9 L746.8,470.2 L811.2,457.8 L815.8,460.9 L823.8,468.3 L819.0,477.2 L823.5,488.2 L829.1,492.2 L824.0,497.4 L820.1,501.4 L818.5,500.9 L814.6,504.2 L743.1,517.6Z" fill="#000" fill-opacity="0.027"/><path d="M766.0,446.9 L776.2,439.7 L777.2,445.0 L841.5,432.6 L846.2,435.7 L854.2,443.1 L849.4,452.0 L853.9,463.0 L859.5,467.0 L854.4,472.2 L850.5,476.2 L848.9,475.7 L845.0,479.0 L773.5,492.4Z" fill="#000" fill-opacity="0.036"/><path d="M738.0,474.9 L748.2,467.7 L749.2,473.0 L813.5,460.6 L818.2,463.7 L826.2,471.1 L821.4,480.0 L825.9,491.0 L831.5,495.0 L826.4,500.2 L822.5,504.2 L820.9,503.7 L817.0,507.0 L745.5,520.4Z" fill="#000" fill-opacity="0.025"/><path d="M768.4,449.7 L778.6,442.5 L779.6,447.8 L843.9,435.4 L848.6,438.5 L856.5,445.9 L851.8,454.8 L856.2,465.8 L861.8,469.8 L856.7,475.0 L852.9,479.0 L851.2,478.5 L847.4,481.8 L775.8,495.2Z" fill="#000" fill-opacity="0.034"/><path d="M740.4,477.7 L750.6,470.5 L751.6,475.8 L815.9,463.4 L820.6,466.5 L828.5,473.9 L823.8,482.8 L828.2,493.8 L833.8,497.8 L828.7,503.0 L824.9,507.0 L823.2,506.5 L819.4,509.8 L747.8,523.2Z" fill="#000" fill-opacity="0.024"/><path d="M770.8,452.5 L781.0,445.3 L781.9,450.6 L846.3,438.2 L851.0,441.3 L858.9,448.7 L854.1,457.6 L858.6,468.6 L864.2,472.6 L859.1,477.8 L855.3,481.8 L853.6,481.3 L849.8,484.6 L778.2,498.0Z" fill="#000" fill-opacity="0.031"/><path d="M742.8,480.5 L753.0,473.3 L753.9,478.6 L818.3,466.2 L823.0,469.3 L830.9,476.7 L826.1,485.6 L830.6,496.6 L836.2,500.6 L831.1,505.8 L827.3,509.8 L825.6,509.3 L821.8,512.6 L750.2,526.0Z" fill="#000" fill-opacity="0.022"/><path d="M773.1,455.3 L783.4,448.1 L784.3,453.4 L848.7,441.0 L853.3,444.1 L861.3,451.5 L856.5,460.4 L861.0,471.4 L866.6,475.4 L861.5,480.6 L857.7,484.6 L856.0,484.1 L852.1,487.4 L780.6,500.8Z" fill="#000" fill-opacity="0.028"/><path d="M745.1,483.3 L755.4,476.1 L756.3,481.4 L820.7,469.0 L825.3,472.1 L833.3,479.5 L828.5,488.4 L833.0,499.4 L838.6,503.4 L833.5,508.6 L829.7,512.6 L828.0,512.1 L824.1,515.4 L752.6,528.8Z" fill="#000" fill-opacity="0.020"/><path d="M775.5,458.1 L785.8,450.9 L786.7,456.2 L851.1,443.8 L855.7,446.9 L863.7,454.3 L858.9,463.2 L863.4,474.2 L869.0,478.2 L863.9,483.4 L860.0,487.4 L858.4,486.9 L854.5,490.2 L783.0,503.6Z" fill="#000" fill-opacity="0.025"/><path d="M747.5,486.1 L757.8,478.9 L758.7,484.2 L823.1,471.8 L827.7,474.9 L835.7,482.3 L830.9,491.2 L835.4,502.2 L841.0,506.2 L835.9,511.4 L832.0,515.4 L830.4,514.9 L826.5,518.2 L755.0,531.6Z" fill="#000" fill-opacity="0.018"/><path d="M777.9,460.9 L788.1,453.7 L789.1,459.0 L853.4,446.6 L858.1,449.7 L866.1,457.1 L861.3,466.0 L865.8,477.0 L871.4,481.0 L866.3,486.2 L862.4,490.2 L860.8,489.7 L856.9,493.0 L785.4,506.4Z" fill="#000" fill-opacity="0.022"/><path d="M749.9,488.9 L760.1,481.7 L761.1,487.0 L825.4,474.6 L830.1,477.7 L838.1,485.1 L833.3,494.0 L837.8,505.0 L843.4,509.0 L838.3,514.2 L834.4,518.2 L832.8,517.7 L828.9,521.0 L757.4,534.4Z" fill="#000" fill-opacity="0.016"/><path d="M780.3,463.7 L790.5,456.5 L791.5,461.8 L855.8,449.4 L860.5,452.5 L868.4,459.9 L863.7,468.8 L868.1,479.8 L873.7,483.8 L868.6,489.0 L864.8,493.0 L863.1,492.5 L859.3,495.8 L787.7,509.2Z" fill="#000" fill-opacity="0.020"/><path d="M752.3,491.7 L762.5,484.5 L763.5,489.8 L827.8,477.4 L832.5,480.5 L840.4,487.9 L835.7,496.8 L840.1,507.8 L845.7,511.8 L840.6,517.0 L836.8,521.0 L835.1,520.5 L831.3,523.8 L759.7,537.2Z" fill="#000" fill-opacity="0.014"/><path d="M782.7,466.5 L792.9,459.3 L793.8,464.6 L858.2,452.2 L862.9,455.3 L870.8,462.7 L866.0,471.6 L870.5,482.6 L876.1,486.6 L871.0,491.8 L867.2,495.8 L865.5,495.3 L861.7,498.6 L790.1,512.0Z" fill="#000" fill-opacity="0.017"/><path d="M754.7,494.5 L764.9,487.3 L765.8,492.6 L830.2,480.2 L834.9,483.3 L842.8,490.7 L838.0,499.6 L842.5,510.6 L848.1,514.6 L843.0,519.8 L839.2,523.8 L837.5,523.3 L833.7,526.6 L762.1,540.0Z" fill="#000" fill-opacity="0.012"/><path d="M785.0,469.3 L795.3,462.1 L796.2,467.4 L860.6,455.0 L865.2,458.1 L873.2,465.5 L868.4,474.4 L872.9,485.4 L878.5,489.4 L873.4,494.6 L869.6,498.6 L867.9,498.1 L864.0,501.4 L792.5,514.8Z" fill="#000" fill-opacity="0.014"/><path d="M757.0,497.3 L767.3,490.1 L768.2,495.4 L832.6,483.0 L837.2,486.1 L845.2,493.5 L840.4,502.4 L844.9,513.4 L850.5,517.4 L845.4,522.6 L841.6,526.6 L839.9,526.1 L836.0,529.4 L764.5,542.8Z" fill="#000" fill-opacity="0.010"/><path d="M787.4,472.1 L797.7,464.9 L798.6,470.2 L863.0,457.8 L867.6,460.9 L875.6,468.3 L870.8,477.2 L875.3,488.2 L880.9,492.2 L875.8,497.4 L871.9,501.4 L870.3,500.9 L866.4,504.2 L794.9,517.6Z" fill="#000" fill-opacity="0.011"/><path d="M759.4,500.1 L769.7,492.9 L770.6,498.2 L835.0,485.8 L839.6,488.9 L847.6,496.3 L842.8,505.2 L847.3,516.2 L852.9,520.2 L847.8,525.4 L843.9,529.4 L842.3,528.9 L838.4,532.2 L766.9,545.6Z" fill="#000" fill-opacity="0.008"/><path d="M789.8,474.9 L800.0,467.7 L801.0,473.0 L865.3,460.6 L870.0,463.7 L878.0,471.1 L873.2,480.0 L877.7,491.0 L883.3,495.0 L878.2,500.2 L874.3,504.2 L872.7,503.7 L868.8,507.0 L797.3,520.4Z" fill="#000" fill-opacity="0.008"/><path d="M761.8,502.9 L772.0,495.7 L773.0,501.0 L837.3,488.6 L842.0,491.7 L850.0,499.1 L845.2,508.0 L849.7,519.0 L855.3,523.0 L850.2,528.2 L846.3,532.2 L844.7,531.7 L840.8,535.0 L769.3,548.4Z" fill="#000" fill-opacity="0.006"/><path d="M792.2,477.7 L802.4,470.5 L803.4,475.8 L867.7,463.4 L872.4,466.5 L880.3,473.9 L875.6,482.8 L880.0,493.8 L885.6,497.8 L880.5,503.0 L876.7,507.0 L875.0,506.5 L871.2,509.8 L799.6,523.2Z" fill="#000" fill-opacity="0.006"/><path d="M764.2,505.7 L774.4,498.5 L775.4,503.8 L839.7,491.4 L844.4,494.5 L852.3,501.9 L847.6,510.8 L852.0,521.8 L857.6,525.8 L852.5,531.0 L848.7,535.0 L847.0,534.5 L843.2,537.8 L771.6,551.2Z" fill="#000" fill-opacity="0.004"/><path d="M794.6,480.5 L804.8,473.3 L805.7,478.6 L870.1,466.2 L874.8,469.3 L882.7,476.7 L877.9,485.6 L882.4,496.6 L888.0,500.6 L882.9,505.8 L879.1,509.8 L877.4,509.3 L873.6,512.6 L802.0,526.0Z" fill="#000" fill-opacity="0.003"/><path d="M766.6,508.5 L776.8,501.3 L777.7,506.6 L842.1,494.2 L846.8,497.3 L854.7,504.7 L849.9,513.6 L854.4,524.6 L860.0,528.6 L854.9,533.8 L851.1,537.8 L849.4,537.3 L845.6,540.6 L774.0,554.0Z" fill="#000" fill-opacity="0.002"/><path d="M676.3,572.4 L697.2,569.8 L717.0,567.1 L720.7,575.8 L735.7,593.1 L760.3,620.0 L763.2,620.9 L757.7,636.7 L757.0,649.0 L747.8,652.4 L744.5,653.4 L698.4,656.8 L695.3,651.0 L692.5,641.2 L691.9,621.0Z" fill="#000" fill-opacity="0.067"/><path d="M652.3,595.4 L673.2,592.8 L693.0,590.1 L696.7,598.8 L711.7,616.1 L736.3,643.0 L739.2,643.9 L733.7,659.7 L733.0,672.0 L723.8,675.4 L720.5,676.4 L674.4,679.8 L671.3,674.0 L668.5,664.2 L667.9,644.0Z" fill="#000" fill-opacity="0.047"/><path d="M678.8,575.3 L699.6,572.7 L719.4,570.0 L723.1,578.7 L738.2,596.0 L762.7,622.9 L765.6,623.8 L760.2,639.6 L759.4,651.9 L750.3,655.3 L747.0,656.3 L700.9,659.7 L697.8,653.9 L694.9,644.1 L694.3,623.9Z" fill="#000" fill-opacity="0.064"/><path d="M654.8,598.3 L675.6,595.7 L695.4,593.0 L699.1,601.7 L714.2,619.0 L738.7,645.9 L741.6,646.8 L736.2,662.6 L735.4,674.9 L726.3,678.3 L723.0,679.3 L676.9,682.7 L673.8,676.9 L670.9,667.1 L670.3,646.9Z" fill="#000" fill-opacity="0.045"/><path d="M681.2,578.2 L702.1,575.6 L721.9,572.9 L725.6,581.6 L740.6,598.9 L765.2,625.8 L768.1,626.7 L762.6,642.5 L761.9,654.8 L752.8,658.2 L749.4,659.2 L703.4,662.6 L700.3,656.8 L697.4,647.0 L696.8,626.8Z" fill="#000" fill-opacity="0.062"/><path d="M657.2,601.2 L678.1,598.6 L697.9,595.9 L701.6,604.6 L716.6,621.9 L741.2,648.8 L744.1,649.7 L738.6,665.5 L737.9,677.8 L728.8,681.2 L725.4,682.2 L679.4,685.6 L676.3,679.8 L673.4,670.0 L672.8,649.8Z" fill="#000" fill-opacity="0.043"/><path d="M683.7,581.1 L704.5,578.5 L724.4,575.8 L728.1,584.5 L743.1,601.8 L767.7,628.7 L770.6,629.6 L765.1,645.4 L764.4,657.7 L755.2,661.1 L751.9,662.1 L705.8,665.5 L702.7,659.7 L699.9,649.9 L699.2,629.7Z" fill="#000" fill-opacity="0.059"/><path d="M659.7,604.1 L680.5,601.5 L700.4,598.8 L704.1,607.5 L719.1,624.8 L743.7,651.7 L746.6,652.6 L741.1,668.4 L740.4,680.7 L731.2,684.1 L727.9,685.1 L681.8,688.5 L678.7,682.7 L675.9,672.9 L675.2,652.7Z" fill="#000" fill-opacity="0.041"/><path d="M686.2,584.0 L707.0,581.4 L726.8,578.7 L730.5,587.4 L745.5,604.7 L770.1,631.6 L773.0,632.5 L767.6,648.3 L766.8,660.6 L757.7,664.0 L754.4,665.0 L708.3,668.4 L705.2,662.6 L702.3,652.8 L701.7,632.6Z" fill="#000" fill-opacity="0.056"/><path d="M662.2,607.0 L683.0,604.4 L702.8,601.7 L706.5,610.4 L721.5,627.7 L746.1,654.6 L749.0,655.5 L743.6,671.3 L742.8,683.6 L733.7,687.0 L730.4,688.0 L684.3,691.4 L681.2,685.6 L678.3,675.8 L677.7,655.6Z" fill="#000" fill-opacity="0.039"/><path d="M688.6,586.9 L709.5,584.3 L729.3,581.6 L733.0,590.3 L748.0,607.6 L772.6,634.5 L775.5,635.4 L770.0,651.2 L769.3,663.5 L760.2,666.9 L756.8,667.9 L710.8,671.3 L707.7,665.5 L704.8,655.7 L704.2,635.5Z" fill="#000" fill-opacity="0.053"/><path d="M664.6,609.9 L685.5,607.3 L705.3,604.6 L709.0,613.3 L724.0,630.6 L748.6,657.5 L751.5,658.4 L746.0,674.2 L745.3,686.5 L736.2,689.9 L732.8,690.9 L686.8,694.3 L683.7,688.5 L680.8,678.7 L680.2,658.5Z" fill="#000" fill-opacity="0.037"/><path d="M691.1,589.8 L711.9,587.2 L731.8,584.5 L735.5,593.2 L750.5,610.5 L775.0,637.4 L778.0,638.3 L772.5,654.1 L771.8,666.4 L762.6,669.8 L759.3,670.8 L713.2,674.2 L710.1,668.4 L707.3,658.6 L706.6,638.4Z" fill="#000" fill-opacity="0.050"/><path d="M667.1,612.8 L687.9,610.2 L707.8,607.5 L711.5,616.2 L726.5,633.5 L751.0,660.4 L754.0,661.3 L748.5,677.1 L747.8,689.4 L738.6,692.8 L735.3,693.8 L689.2,697.2 L686.1,691.4 L683.3,681.6 L682.6,661.4Z" fill="#000" fill-opacity="0.035"/><path d="M693.6,592.7 L714.4,590.1 L734.2,587.4 L737.9,596.1 L752.9,613.4 L777.5,640.3 L780.4,641.2 L774.9,657.0 L774.2,669.3 L765.1,672.7 L761.8,673.7 L715.7,677.1 L712.6,671.3 L709.7,661.5 L709.1,641.3Z" fill="#000" fill-opacity="0.048"/><path d="M669.6,615.7 L690.4,613.1 L710.2,610.4 L713.9,619.1 L728.9,636.4 L753.5,663.3 L756.4,664.2 L750.9,680.0 L750.2,692.3 L741.1,695.7 L737.8,696.7 L691.7,700.1 L688.6,694.3 L685.7,684.5 L685.1,664.3Z" fill="#000" fill-opacity="0.033"/><path d="M696.0,595.6 L716.9,593.0 L736.7,590.3 L740.4,599.0 L755.4,616.3 L780.0,643.2 L782.9,644.1 L777.4,659.9 L776.7,672.2 L767.6,675.6 L764.2,676.6 L718.1,680.0 L715.0,674.2 L712.2,664.4 L711.6,644.2Z" fill="#000" fill-opacity="0.045"/><path d="M672.0,618.6 L692.9,616.0 L712.7,613.3 L716.4,622.0 L731.4,639.3 L756.0,666.2 L758.9,667.1 L753.4,682.9 L752.7,695.2 L743.6,698.6 L740.2,699.6 L694.1,703.0 L691.0,697.2 L688.2,687.4 L687.6,667.2Z" fill="#000" fill-opacity="0.031"/><path d="M698.5,598.5 L719.3,595.9 L739.2,593.2 L742.8,601.9 L757.9,619.2 L782.4,646.1 L785.4,647.0 L779.9,662.8 L779.2,675.1 L770.0,678.5 L766.7,679.5 L720.6,682.9 L717.5,677.1 L714.6,667.3 L714.0,647.1Z" fill="#000" fill-opacity="0.042"/><path d="M674.5,621.5 L695.3,618.9 L715.2,616.2 L718.8,624.9 L733.9,642.2 L758.4,669.1 L761.4,670.0 L755.9,685.8 L755.2,698.1 L746.0,701.5 L742.7,702.5 L696.6,705.9 L693.5,700.1 L690.6,690.3 L690.0,670.1Z" fill="#000" fill-opacity="0.029"/><path d="M701.0,601.4 L721.8,598.8 L741.6,596.1 L745.3,604.8 L760.3,622.1 L784.9,649.0 L787.8,649.9 L782.3,665.7 L781.6,678.0 L772.5,681.4 L769.2,682.4 L723.1,685.8 L720.0,680.0 L717.1,670.2 L716.5,650.0Z" fill="#000" fill-opacity="0.039"/><path d="M677.0,624.4 L697.8,621.8 L717.6,619.1 L721.3,627.8 L736.3,645.1 L760.9,672.0 L763.8,672.9 L758.3,688.7 L757.6,701.0 L748.5,704.4 L745.2,705.4 L699.1,708.8 L696.0,703.0 L693.1,693.2 L692.5,673.0Z" fill="#000" fill-opacity="0.027"/><path d="M703.4,604.3 L724.3,601.7 L744.1,599.0 L747.8,607.7 L762.8,625.0 L787.4,651.9 L790.3,652.8 L784.8,668.6 L784.1,680.9 L775.0,684.3 L771.6,685.3 L725.5,688.7 L722.4,682.9 L719.6,673.1 L719.0,652.9Z" fill="#000" fill-opacity="0.036"/><path d="M679.4,627.3 L700.3,624.7 L720.1,622.0 L723.8,630.7 L738.8,648.0 L763.4,674.9 L766.3,675.8 L760.8,691.6 L760.1,703.9 L751.0,707.3 L747.6,708.3 L701.5,711.7 L698.4,705.9 L695.6,696.1 L695.0,675.9Z" fill="#000" fill-opacity="0.025"/><path d="M705.9,607.2 L726.7,604.6 L746.6,601.9 L750.2,610.6 L765.3,627.9 L789.8,654.8 L792.8,655.7 L787.3,671.5 L786.6,683.8 L777.4,687.2 L774.1,688.2 L728.0,691.6 L724.9,685.8 L722.0,676.0 L721.4,655.8Z" fill="#000" fill-opacity="0.034"/><path d="M681.9,630.2 L702.7,627.6 L722.6,624.9 L726.2,633.6 L741.3,650.9 L765.8,677.8 L768.8,678.7 L763.3,694.5 L762.6,706.8 L753.4,710.2 L750.1,711.2 L704.0,714.6 L700.9,708.8 L698.0,699.0 L697.4,678.8Z" fill="#000" fill-opacity="0.024"/><path d="M708.4,610.1 L729.2,607.5 L749.0,604.8 L752.7,613.5 L767.7,630.8 L792.3,657.7 L795.2,658.6 L789.7,674.4 L789.0,686.7 L779.9,690.1 L776.5,691.1 L730.5,694.5 L727.4,688.7 L724.5,678.9 L723.9,658.7Z" fill="#000" fill-opacity="0.031"/><path d="M684.4,633.1 L705.2,630.5 L725.0,627.8 L728.7,636.5 L743.7,653.8 L768.3,680.7 L771.2,681.6 L765.7,697.4 L765.0,709.7 L755.9,713.1 L752.5,714.1 L706.5,717.5 L703.4,711.7 L700.5,701.9 L699.9,681.7Z" fill="#000" fill-opacity="0.022"/><path d="M710.8,613.0 L731.7,610.4 L751.5,607.7 L755.2,616.4 L770.2,633.7 L794.8,660.6 L797.7,661.5 L792.2,677.3 L791.5,689.6 L782.4,693.0 L779.0,694.0 L732.9,697.4 L729.8,691.6 L727.0,681.8 L726.4,661.6Z" fill="#000" fill-opacity="0.028"/><path d="M686.8,636.0 L707.7,633.4 L727.5,630.7 L731.2,639.4 L746.2,656.7 L770.8,683.6 L773.7,684.5 L768.2,700.3 L767.5,712.6 L758.4,716.0 L755.0,717.0 L708.9,720.4 L705.8,714.6 L703.0,704.8 L702.4,684.6Z" fill="#000" fill-opacity="0.020"/><path d="M713.3,615.9 L734.1,613.3 L754.0,610.6 L757.6,619.3 L772.7,636.6 L797.2,663.5 L800.1,664.4 L794.7,680.2 L794.0,692.5 L784.8,695.9 L781.5,696.9 L735.4,700.3 L732.3,694.5 L729.4,684.7 L728.8,664.5Z" fill="#000" fill-opacity="0.025"/><path d="M689.3,638.9 L710.1,636.3 L730.0,633.6 L733.6,642.3 L748.7,659.6 L773.2,686.5 L776.1,687.4 L770.7,703.2 L770.0,715.5 L760.8,718.9 L757.5,719.9 L711.4,723.3 L708.3,717.5 L705.4,707.7 L704.8,687.5Z" fill="#000" fill-opacity="0.018"/><path d="M715.8,618.8 L736.6,616.2 L756.4,613.5 L760.1,622.2 L775.1,639.5 L799.7,666.4 L802.6,667.3 L797.1,683.1 L796.4,695.4 L787.3,698.8 L783.9,699.8 L737.9,703.2 L734.8,697.4 L731.9,687.6 L731.3,667.4Z" fill="#000" fill-opacity="0.022"/><path d="M691.8,641.8 L712.6,639.2 L732.4,636.5 L736.1,645.2 L751.1,662.5 L775.7,689.4 L778.6,690.3 L773.1,706.1 L772.4,718.4 L763.3,721.8 L759.9,722.8 L713.9,726.2 L710.8,720.4 L707.9,710.6 L707.3,690.4Z" fill="#000" fill-opacity="0.016"/><path d="M718.2,621.7 L739.1,619.1 L758.9,616.4 L762.6,625.1 L777.6,642.4 L802.2,669.3 L805.1,670.2 L799.6,686.0 L798.9,698.3 L789.8,701.7 L786.4,702.7 L740.3,706.1 L737.2,700.3 L734.4,690.5 L733.8,670.3Z" fill="#000" fill-opacity="0.020"/><path d="M694.2,644.7 L715.1,642.1 L734.9,639.4 L738.6,648.1 L753.6,665.4 L778.2,692.3 L781.1,693.2 L775.6,709.0 L774.9,721.3 L765.8,724.7 L762.4,725.7 L716.3,729.1 L713.2,723.3 L710.4,713.5 L709.8,693.3Z" fill="#000" fill-opacity="0.014"/><path d="M720.7,624.6 L741.5,622.0 L761.4,619.3 L765.0,628.0 L780.1,645.3 L804.6,672.2 L807.5,673.1 L802.1,688.9 L801.3,701.2 L792.2,704.6 L788.9,705.6 L742.8,709.0 L739.7,703.2 L736.8,693.4 L736.2,673.2Z" fill="#000" fill-opacity="0.017"/><path d="M696.7,647.6 L717.5,645.0 L737.4,642.3 L741.0,651.0 L756.1,668.3 L780.6,695.2 L783.5,696.1 L778.1,711.9 L777.3,724.2 L768.2,727.6 L764.9,728.6 L718.8,732.0 L715.7,726.2 L712.8,716.4 L712.2,696.2Z" fill="#000" fill-opacity="0.012"/><path d="M723.1,627.5 L744.0,624.9 L763.8,622.2 L767.5,630.9 L782.5,648.2 L807.1,675.1 L810.0,676.0 L804.5,691.8 L803.8,704.1 L794.7,707.5 L791.3,708.5 L745.3,711.9 L742.2,706.1 L739.3,696.3 L738.7,676.1Z" fill="#000" fill-opacity="0.014"/><path d="M699.1,650.5 L720.0,647.9 L739.8,645.2 L743.5,653.9 L758.5,671.2 L783.1,698.1 L786.0,699.0 L780.5,714.8 L779.8,727.1 L770.7,730.5 L767.3,731.5 L721.3,734.9 L718.2,729.1 L715.3,719.3 L714.7,699.1Z" fill="#000" fill-opacity="0.010"/><path d="M725.6,630.4 L746.5,627.8 L766.3,625.1 L770.0,633.8 L785.0,651.1 L809.6,678.0 L812.5,678.9 L807.0,694.7 L806.3,707.0 L797.1,710.4 L793.8,711.4 L747.7,714.8 L744.6,709.0 L741.8,699.2 L741.2,679.0Z" fill="#000" fill-opacity="0.011"/><path d="M701.6,653.4 L722.5,650.8 L742.3,648.1 L746.0,656.8 L761.0,674.1 L785.6,701.0 L788.5,701.9 L783.0,717.7 L782.3,730.0 L773.1,733.4 L769.8,734.4 L723.7,737.8 L720.6,732.0 L717.8,722.2 L717.2,702.0Z" fill="#000" fill-opacity="0.008"/><path d="M728.1,633.3 L748.9,630.7 L768.7,628.0 L772.4,636.7 L787.5,654.0 L812.0,680.9 L814.9,681.8 L809.5,697.6 L808.7,709.9 L799.6,713.3 L796.3,714.3 L750.2,717.7 L747.1,711.9 L744.2,702.1 L743.6,681.9Z" fill="#000" fill-opacity="0.008"/><path d="M704.1,656.3 L724.9,653.7 L744.7,651.0 L748.4,659.7 L763.5,677.0 L788.0,703.9 L790.9,704.8 L785.5,720.6 L784.7,732.9 L775.6,736.3 L772.3,737.3 L726.2,740.7 L723.1,734.9 L720.2,725.1 L719.6,704.9Z" fill="#000" fill-opacity="0.006"/><path d="M730.5,636.2 L751.4,633.6 L771.2,630.9 L774.9,639.6 L789.9,656.9 L814.5,683.8 L817.4,684.7 L811.9,700.5 L811.2,712.8 L802.1,716.2 L798.7,717.2 L752.7,720.6 L749.6,714.8 L746.7,705.0 L746.1,684.8Z" fill="#000" fill-opacity="0.006"/><path d="M706.5,659.2 L727.4,656.6 L747.2,653.9 L750.9,662.6 L765.9,679.9 L790.5,706.8 L793.4,707.7 L787.9,723.5 L787.2,735.8 L778.1,739.2 L774.7,740.2 L728.7,743.6 L725.6,737.8 L722.7,728.0 L722.1,707.8Z" fill="#000" fill-opacity="0.004"/><path d="M733.0,639.1 L753.8,636.5 L773.7,633.8 L777.4,642.5 L792.4,659.8 L817.0,686.7 L819.9,687.6 L814.4,703.4 L813.7,715.7 L804.5,719.1 L801.2,720.1 L755.1,723.5 L752.0,717.7 L749.2,707.9 L748.5,687.7Z" fill="#000" fill-opacity="0.003"/><path d="M709.0,662.1 L729.8,659.5 L749.7,656.8 L753.4,665.5 L768.4,682.8 L793.0,709.7 L795.9,710.6 L790.4,726.4 L789.7,738.7 L780.5,742.1 L777.2,743.1 L731.1,746.5 L728.0,740.7 L725.2,730.9 L724.5,710.7Z" fill="#000" fill-opacity="0.002"/><path d="M653.1,439.0 L682.8,437.1 L702.9,434.0 L707.4,427.9 L714.6,414.7 L714.9,406.5 L711.7,394.7 L704.7,386.6 L699.2,389.3 L691.5,397.4 L695.7,384.7 L696.4,368.4 L685.3,359.7 L674.7,354.9 L666.2,368.0 L664.3,376.3 L655.5,375.2 L653.1,393.6 L659.9,417.2 L658.2,429.5Z" fill="#000" fill-opacity="0.55"/></g>
<g stroke-linejoin="round"><path d="M110.5,472.9 L125.8,414.2 L154.8,389.2 L139.5,447.9Z" fill="#d4f500" stroke="#d4f500" stroke-width="0.5"/>
<path d="M190.0,549.1 L178.3,548.8 L207.3,523.8 L219.0,524.1Z M175.9,570.8 L110.5,472.9 L139.5,447.9 L204.9,545.8Z" fill="#86a100" stroke="#86a100" stroke-width="0.5"/><path d="M154.8,389.2 L197.9,399.6 L241.5,408.7 L219.0,524.1 L207.3,523.8 L207.8,536.1 L204.9,545.8 L139.5,447.9Z" fill="#f8e0ec" stroke="#f4ffd8" stroke-width="2"/><path d="M178.3,548.8 L192.9,532.9 L215.9,508.9 L201.3,524.8Z" fill="#86a100" stroke="#86a100" stroke-width="0.5"/>
<path d="M178.8,561.1 L178.3,548.8 L201.3,524.8 L201.8,537.1Z M175.9,570.8 L178.8,561.1 L201.8,537.1 L198.9,546.8Z M176.3,585.3 L175.9,570.8 L198.9,546.8 L199.3,561.3Z" fill="#d4f500" stroke="#d4f500" stroke-width="0.5"/>
<path d="M181.1,586.9 L176.3,585.3 L199.3,561.3 L204.1,562.9Z M255.8,659.4 L221.4,654.2 L244.4,630.2 L278.8,635.4Z" fill="#86a100" stroke="#86a100" stroke-width="0.5"/>
<path d="M168.3,602.3 L173.6,593.0 L196.6,569.0 L191.3,578.3Z M169.8,610.2 L168.3,602.3 L191.3,578.3 L192.8,586.2Z" fill="#d4f500" stroke="#d4f500" stroke-width="0.5"/>
<path d="M221.4,654.2 L162.8,619.9 L185.8,595.9 L244.4,630.2Z M165.3,615.6 L169.8,610.2 L192.8,586.2 L188.3,591.6Z" fill="#86a100" stroke="#86a100" stroke-width="0.5"/>
<path d="M162.8,619.9 L165.3,615.6 L188.3,591.6 L185.8,595.9Z" fill="#d4f500" stroke="#d4f500" stroke-width="0.5"/><path d="M215.9,508.9 L294.7,522.0 L278.8,635.4 L244.4,630.2 L185.8,595.9 L188.3,591.6 L192.8,586.2 L191.3,578.3 L196.6,569.0 L204.1,562.9 L199.3,561.3 L198.9,546.8 L201.8,537.1 L201.3,524.8Z" fill="#f8dfeb" stroke="#f4ffd8" stroke-width="2"/><path d="M595.9,402.4 L601.9,389.8 L622.9,362.8 L616.9,375.4Z M531.9,376.7 L531.3,364.1 L552.3,337.1 L552.9,349.7Z" fill="#d4f500" stroke="#d4f500" stroke-width="0.5"/>
<path d="M525.8,386.9 L531.9,376.7 L552.9,349.7 L546.8,359.9Z M600.9,444.6 L559.0,447.3 L580.0,420.3 L621.9,417.6Z" fill="#8ba600" stroke="#8ba600" stroke-width="0.5"/>
<path d="M526.0,398.4 L525.8,386.9 L546.8,359.9 L547.0,371.4Z M532.9,407.2 L526.0,398.4 L547.0,371.4 L553.9,380.2Z M538.9,414.0 L532.9,407.2 L553.9,380.2 L559.9,387.0Z M549.4,427.6 L538.9,414.0 L559.9,387.0 L570.4,400.6Z M551.9,442.6 L549.4,427.6 L570.4,400.6 L572.9,415.6Z M559.0,447.3 L551.9,442.6 L572.9,415.6 L580.0,420.3Z" fill="#d4f500" stroke="#d4f500" stroke-width="0.5"/><path d="M642.0,368.5 L637.0,371.5 L664.0,347.5 L669.0,344.5Z M637.0,371.5 L623.6,371.0 L650.6,347.0 L664.0,347.5Z M623.6,371.0 L606.0,376.5 L633.0,352.5 L650.6,347.0Z M579.0,356.0 L588.0,345.5 L615.0,321.5 L606.0,332.0Z M606.0,376.5 L597.0,384.0 L624.0,360.0 L633.0,352.5Z M597.0,384.0 L590.0,375.0 L617.0,351.0 L624.0,360.0Z M590.0,375.0 L576.0,373.0 L603.0,349.0 L617.0,351.0Z M576.0,373.0 L563.0,370.0 L590.0,346.0 L603.0,349.0Z M557.8,365.5 L561.0,362.0 L588.0,338.0 L584.8,341.5Z M563.0,370.0 L557.8,365.5 L584.8,341.5 L590.0,346.0Z" fill="#8aa300" stroke="#8aa300" stroke-width="0.5"/><path d="M552.9,349.7 L552.3,337.1 L556.4,337.0 L570.1,332.4 L578.8,338.5 L584.7,343.6 L597.6,346.7 L611.8,348.7 L619.8,360.0 L616.9,375.4 L622.9,362.8 L628.6,362.3 L620.4,383.2 L619.6,407.5 L621.9,417.6 L580.0,420.3 L572.9,415.6 L570.4,400.6 L559.9,387.0 L553.9,380.2 L547.0,371.4 L546.8,359.9Z" fill="#6aa957" stroke="#f4ffd8" stroke-width="2"/><path d="M584.8,341.5 L588.0,338.0 L606.0,332.0 L615.0,321.5 L618.0,334.0 L635.0,339.0 L653.8,332.0 L664.0,336.0 L669.0,344.5 L664.0,347.5 L650.6,347.0 L633.0,352.5 L624.0,360.0 L617.0,351.0 L603.0,349.0 L590.0,346.0Z" fill="#bcd98d" stroke="#f4ffd8" stroke-width="2"/><path d="M624.6,374.6 L641,371.5 L629,390 L622,386Z" fill="#111"/><path d="M665.7,349.9 L657.2,363.0 L630.2,387.0 L638.7,373.9Z M690.2,384.3 L682.5,392.4 L655.5,416.4 L663.2,408.3Z" fill="#98b200" stroke="#98b200" stroke-width="0.5"/>
<path d="M657.2,363.0 L655.3,371.3 L628.3,395.3 L630.2,387.0Z M646.5,370.2 L644.1,388.6 L617.1,412.6 L619.5,394.2Z" fill="#d4f500" stroke="#d4f500" stroke-width="0.5"/>
<path d="M673.8,432.1 L693.9,429.0 L666.9,453.0 L646.8,456.1Z" fill="#98b200" stroke="#98b200" stroke-width="0.5"/>
<path d="M644.1,388.6 L650.9,412.2 L623.9,436.2 L617.1,412.6Z M650.9,412.2 L649.2,424.5 L622.2,448.5 L623.9,436.2Z" fill="#d4f500" stroke="#d4f500" stroke-width="0.5"/>
<path d="M644.1,434.0 L673.8,432.1 L646.8,456.1 L617.1,458.0Z" fill="#98b200" stroke="#98b200" stroke-width="0.5"/>
<path d="M649.2,424.5 L644.1,434.0 L617.1,458.0 L622.2,448.5Z" fill="#d4f500" stroke="#d4f500" stroke-width="0.5"/><path d="M644.1,434.0 L673.8,432.1 L693.9,429.0 L698.4,422.9 L705.6,409.7 L705.9,401.5 L702.7,389.7 L695.7,381.6 L690.2,384.3 L682.5,392.4 L686.7,379.7 L687.4,363.4 L676.3,354.7 L665.7,349.9 L657.2,363.0 L655.3,371.3 L646.5,370.2 L644.1,388.6 L650.9,412.2 L649.2,424.5Z" fill="#bcd98d" stroke="#f4ffd8" stroke-width="2"/><path d="M794.0,470.6 L792.3,470.1 L820.3,442.1 L822.0,442.6Z M792.3,470.1 L788.4,473.4 L816.4,445.4 L820.3,442.1Z M788.4,473.4 L716.9,486.8 L744.9,458.8 L816.4,445.4Z" fill="#c0d800" stroke="#c0d800" stroke-width="0.5"/>
<path d="M716.9,486.8 L709.4,441.3 L737.4,413.3 L744.9,458.8Z" fill="#d4f500" stroke="#d4f500" stroke-width="0.5"/><path d="M737.4,413.3 L747.7,406.1 L748.6,411.4 L813.0,399.0 L817.6,402.1 L825.6,409.5 L820.8,418.4 L825.3,429.4 L830.9,433.4 L825.8,438.6 L822.0,442.6 L820.3,442.1 L816.4,445.4 L744.9,458.8Z" fill="#5fa555" stroke="#f4ffd8" stroke-width="2"/><path d="M730.5,669.1 L721.4,672.5 L745.4,649.5 L754.5,646.1Z M721.4,672.5 L718.0,673.5 L742.0,650.5 L745.4,649.5Z" fill="#87a100" stroke="#87a100" stroke-width="0.5"/>
<path d="M665.4,641.1 L649.8,592.5 L673.8,569.5 L689.4,618.1Z" fill="#d4f500" stroke="#d4f500" stroke-width="0.5"/>
<path d="M718.0,673.5 L672.0,676.9 L696.0,653.9 L742.0,650.5Z" fill="#87a100" stroke="#87a100" stroke-width="0.5"/>
<path d="M666.0,661.3 L665.4,641.1 L689.4,618.1 L690.0,638.3Z M668.9,671.1 L666.0,661.3 L690.0,638.3 L692.9,648.1Z" fill="#d4f500" stroke="#d4f500" stroke-width="0.5"/>
<path d="M672.0,676.9 L668.9,671.1 L692.9,648.1 L696.0,653.9Z" fill="#87a100" stroke="#87a100" stroke-width="0.5"/><path d="M673.8,569.5 L694.7,566.9 L714.5,564.2 L718.2,572.9 L733.2,590.2 L757.8,617.1 L760.7,618.0 L755.2,633.8 L754.5,646.1 L745.4,649.5 L742.0,650.5 L696.0,653.9 L692.9,648.1 L690.0,638.3 L689.4,618.1Z" fill="#fcf8ef" stroke="#f4ffd8" stroke-width="2"/></g>
<g font-family="Liberation Sans, sans-serif" font-weight="bold" font-size="19.5"><text x="193" y="455" fill="#000" text-anchor="middle">-2.0</text><text x="249" y="571" fill="#000" text-anchor="middle">-3.0</text><text x="590" y="387" fill="#fff" text-anchor="middle">+4.7</text><text x="670" y="416" fill="#000" text-anchor="middle">+3.3</text><text x="777" y="437" fill="#fff" text-anchor="middle">+5.3</text><text x="715" y="617" fill="#000" text-anchor="middle">+0</text></g>
<rect x="493" y="741" width="201" height="15" fill="url(#leg)"/>
</svg>
<div style="position:absolute;left:957px;top:211px;width:566px;height:107px;background:#c9e5e6"></div>
<div class="ax" style="left:1084px;top:216px;height:483px"></div>
<div class="ax" style="left:1311px;top:369px;height:386px"></div>
<div class="bar" style="left:1086px;top:224.5px;width:428.3px;height:12px;background:#5aa35e"></div>
<div class="lab r" style="top:218.0px;font-size:15px;">North Dakota</div>
<div class="bar" style="left:1086px;top:244.4px;width:178.0px;height:12px;background:#5aa35e"></div>
<div class="lab r" style="top:238.1px;font-size:15px;">Arkansas</div>
<div class="bar" style="left:1086px;top:264.3px;width:168.3px;height:12px;background:#5aa35e"></div>
<div class="lab r" style="top:258.2px;font-size:15px;">Minnesota</div>
<div class="bar" style="left:1086px;top:284.2px;width:158.6px;height:12px;background:#5aa35e"></div>
<div class="lab hl r" style="top:278.3px;font-size:15px;">Pennsylvania</div>
<div class="bar" style="left:1086px;top:304.1px;width:139.2px;height:12px;background:#5aa35e"></div>
<div class="lab hl r" style="top:298.4px;font-size:15px;">Wisconsin</div>
<div class="bar" style="left:1086px;top:321.1px;width:105.5px;height:10px;background:#6aab5c"></div>
<div class="lab r" style="top:318.5px;">New Hampshire</div>
<div class="bar" style="left:1086px;top:337.6px;width:89.2px;height:10px;background:#6aab5c"></div>
<div class="lab r" style="top:335.3px;">Oregon</div>
<div class="bar" style="left:1086px;top:354.1px;width:81.4px;height:10px;background:#6aab5c"></div>
<div class="lab hl r" style="top:352.1px;">Michigan</div>
<div class="bar" style="left:1086px;top:370.6px;width:81.4px;height:10px;background:#6aab5c"></div>
<div class="lab r" style="top:369.0px;">Iowa</div>
<div class="bar" style="left:1086px;top:387.1px;width:81.4px;height:10px;background:#6aab5c"></div>
<div class="lab r" style="top:385.8px;">New Jersey</div>
<div class="bar" style="left:1086px;top:403.6px;width:81.4px;height:10px;background:#6aab5c"></div>
<div class="lab r" style="top:402.6px;">Florida</div>
<div class="bar" style="left:1086px;top:420.1px;width:57.0px;height:10px;background:#6aab5c"></div>
<div class="lab r" style="top:419.4px;">Connecticut</div>
<div class="bar" style="left:1086px;top:436.6px;width:47.6px;height:10px;background:#6aab5c"></div>
<div class="lab r" style="top:436.2px;">Indiana</div>
<div class="bar" style="left:1086px;top:453.1px;width:39.5px;height:10px;background:#6aab5c"></div>
<div class="lab r" style="top:453.1px;">Oklahoma</div>
<div class="bar" style="left:1086px;top:469.6px;width:31.7px;height:10px;background:#6aab5c"></div>
<div class="lab r" style="top:469.9px;">Ohio</div>
<div class="bar" style="left:1086px;top:486.1px;width:31.8px;height:10px;background:#6aab5c"></div>
<div class="lab r" style="top:486.7px;">New York</div>
<div class="bar" style="left:1086px;top:502.6px;width:31.8px;height:10px;background:#6aab5c"></div>
<div class="lab r" style="top:503.5px;">Rhode Island</div>
<div class="bar" style="left:1086px;top:519.1px;width:31.8px;height:10px;background:#6aab5c"></div>
<div class="lab r" style="top:520.3px;">Idaho</div>
<div class="bar" style="left:1086px;top:535.6px;width:31.8px;height:10px;background:#6aab5c"></div>
<div class="lab r" style="top:537.2px;">Texas</div>
<div class="bar" style="left:1086px;top:552.1px;width:23.3px;height:10px;background:#6aab5c"></div>
<div class="lab r" style="top:554.0px;">South Dakota</div>
<div class="bar" style="left:1086px;top:568.6px;width:23.3px;height:10px;background:#6aab5c"></div>
<div class="lab r" style="top:570.8px;">Hawaii</div>
<div class="bar" style="left:1086px;top:585.1px;width:23.3px;height:10px;background:#6aab5c"></div>
<div class="lab r" style="top:587.6px;">Kentucky</div>
<div class="bar" style="left:1086px;top:601.6px;width:23.3px;height:10px;background:#6aab5c"></div>
<div class="lab r" style="top:604.4px;">Maryland</div>
<div class="bar" style="left:1086px;top:618.1px;width:7.3px;height:10px;background:#6aab5c"></div>
<div class="lab r" style="top:621.3px;">Kansas</div>
<div class="bar" style="left:1086px;top:634.6px;width:7.3px;height:10px;background:#6aab5c"></div>
<div class="lab r" style="top:638.1px;">West Virginia</div>
<div class="bar" style="left:1086px;top:651.1px;width:7.3px;height:10px;background:#6aab5c"></div>
<div class="lab r" style="top:654.9px;">Massachusetts</div>
<div class="lab hl r" style="top:671.7px;">Georgia</div>
<div class="lab r" style="top:688.5px;">California</div>
<div class="lab l" style="top:366.7px">Alabama</div>
<div class="lab l" style="top:383.5px">Louisiana</div>
<div class="bar" style="left:1303.6px;top:404.2px;width:8.4px;height:10px;background:#e64d93"></div>
<div class="lab l" style="top:400.3px">Colorado</div>
<div class="bar" style="left:1303.6px;top:421.0px;width:8.4px;height:10px;background:#e64d93"></div>
<div class="lab l" style="top:417.1px">Illinois</div>
<div class="bar" style="left:1295.5px;top:437.7px;width:16.5px;height:10px;background:#e64d93"></div>
<div class="lab l" style="top:433.9px">Alaska</div>
<div class="bar" style="left:1295.5px;top:454.5px;width:16.5px;height:10px;background:#e64d93"></div>
<div class="lab l" style="top:450.6px">South Carolina</div>
<div class="bar" style="left:1287.2px;top:471.3px;width:24.8px;height:10px;background:#e64d93"></div>
<div class="lab l" style="top:467.4px">Vermont</div>
<div class="bar" style="left:1279.0px;top:488.0px;width:33.0px;height:10px;background:#e64d93"></div>
<div class="lab l" style="top:484.2px">Nebraska</div>
<div class="bar" style="left:1279.0px;top:504.8px;width:33.0px;height:10px;background:#e64d93"></div>
<div class="lab l" style="top:501.0px">Tennessee</div>
<div class="bar" style="left:1263.0px;top:521.5px;width:49.0px;height:10px;background:#e64d93"></div>
<div class="lab hl l" style="top:517.8px">Nevada</div>
<div class="bar" style="left:1253.1px;top:538.3px;width:58.9px;height:10px;background:#e64d93"></div>
<div class="lab l" style="top:534.6px">Mississippi</div>
<div class="bar" style="left:1253.1px;top:555.1px;width:58.9px;height:10px;background:#e64d93"></div>
<div class="lab l" style="top:551.4px">Missouri</div>
<div class="bar" style="left:1244.4px;top:571.8px;width:67.6px;height:10px;background:#e64d93"></div>
<div class="lab l" style="top:568.2px">Montana</div>
<div class="bar" style="left:1236.4px;top:588.6px;width:75.6px;height:10px;background:#e64d93"></div>
<div class="lab hl l" style="top:585.0px">Arizona</div>
<div class="bar" style="left:1228.0px;top:605.3px;width:84.0px;height:10px;background:#e64d93"></div>
<div class="lab l" style="top:601.8px">Washington</div>
<div class="bar" style="left:1228.0px;top:622.1px;width:84.0px;height:10px;background:#e64d93"></div>
<div class="lab l" style="top:618.5px">Wyoming</div>
<div class="bar" style="left:1194.2px;top:638.9px;width:117.8px;height:10px;background:#e64d93"></div>
<div class="lab l" style="top:635.3px">Virginia</div>
<div class="bar" style="left:1169.3px;top:655.6px;width:142.7px;height:10px;background:#e64d93"></div>
<div class="lab l" style="top:652.1px">North Carolina</div>
<div class="bar" style="left:1160.9px;top:672.4px;width:151.1px;height:10px;background:#e64d93"></div>
<div class="lab l" style="top:668.9px">Utah</div>
<div class="bar" style="left:1118.2px;top:689.1px;width:193.8px;height:10px;background:#e64d93"></div>
<div class="lab l" style="top:685.7px">Delaware</div>
<div class="bar" style="left:1109.8px;top:705.9px;width:202.2px;height:10px;background:#e64d93"></div>
<div class="lab l" style="top:702.5px">District of Columbia</div>
<div class="bar" style="left:1092.0px;top:722.7px;width:220.0px;height:10px;background:#e64d93"></div>
<div class="lab l" style="top:719.3px">Maine</div>
<div class="bar" style="left:1067.6px;top:739.4px;width:244.4px;height:10px;background:#e64d93"></div>
<div class="lab l" style="top:736.1px">New Mexico</div>
<div class="sm" style="left:1474.5px;top:242.5px;font-size:13.5px;color:#2c3c4c">+14.3</div>
<div class="sm" style="left:1037px;top:737.5px;font-size:13.5px;color:#2c3c4c">-9.7</div>
<div class="sm" style="left:486px;top:764.3px;font-size:16.4px;color:#111">9.7</div>
<div class="sm" style="left:670px;top:764.3px;font-size:16.4px;color:#111">14.3</div>
<div class="sm" style="left:803px;top:813.5px;font-size:12.4px">1/ Ranking based on an average across searches for “bitcoin”, “ethereum”, “crypto”. 2024 includes data through 9/30/2024.</div>
<div class="sm" style="left:803px;top:829.5px;font-size:12.4px">Source: Google Trends.</div>
<div class="sm" style="left:1503px;top:830px;font-size:12.5px;color:#888">11</div>
<div class="sm" style="left:33px;top:804px;font-size:24px;color:#e6e6e6;font-weight:bold;letter-spacing:-1px">a16zcrypto</div>
<div class="sm" style="left:33px;top:835px;font-size:11.3px;color:#dadada;word-spacing:0.6px">©2024 Andreessen Horowitz. |&nbsp; All rights reserved worldwide.</div>
</body></html>
